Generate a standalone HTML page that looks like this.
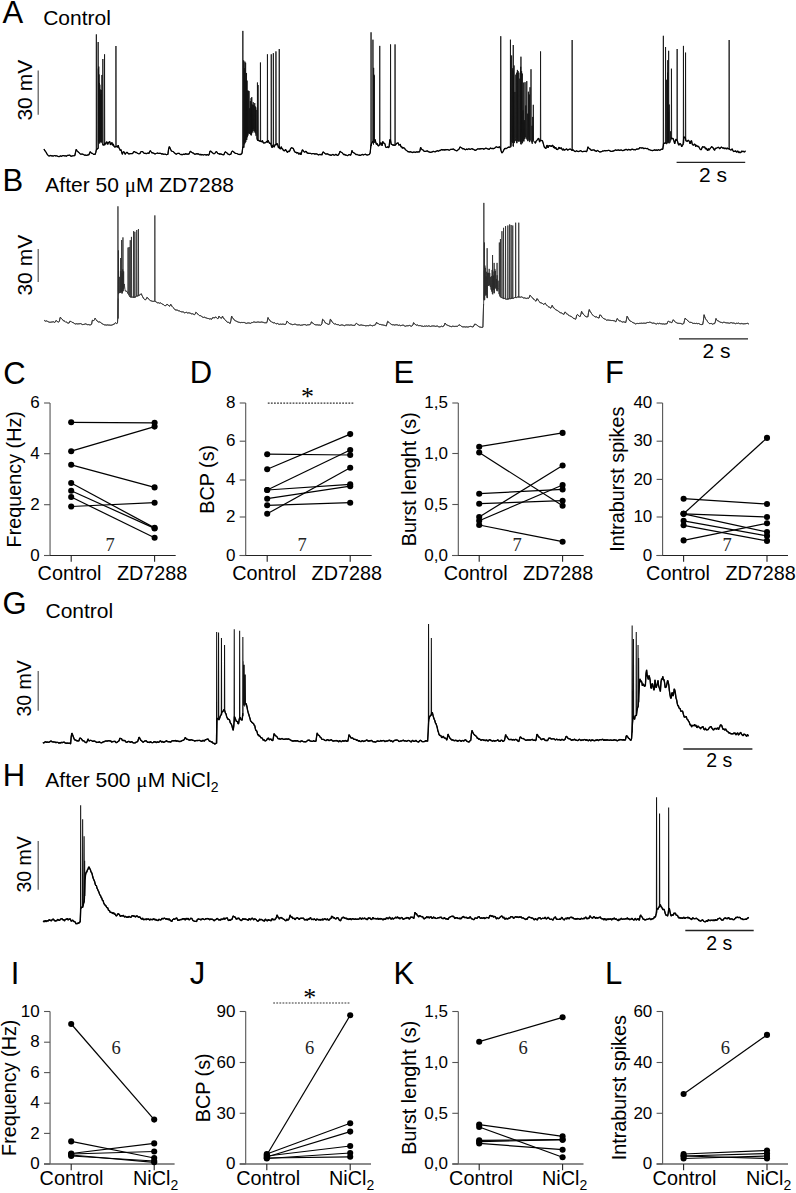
<!DOCTYPE html>
<html><head><meta charset="utf-8"><style>
html,body{margin:0;padding:0;background:#fff;}
body{width:796px;height:1193px;overflow:hidden;font-family:"Liberation Sans", sans-serif;}
svg{display:block;}
</style></head><body>
<svg width="796" height="1193" viewBox="0 0 796 1193">
<rect width="796" height="1193" fill="#fff"/>
<text transform="translate(2.6 23) scale(1 1.0)" font-size="31" font-family='"Liberation Sans", sans-serif' fill="#000">A</text>
<text transform="translate(2.5 191) scale(1 1.0)" font-size="31" font-family='"Liberation Sans", sans-serif' fill="#000">B</text>
<text transform="translate(3.3 383.5) scale(1 1.0)" font-size="31" font-family='"Liberation Sans", sans-serif' fill="#000">C</text>
<text transform="translate(189.7 382.6) scale(1 1.0)" font-size="31" font-family='"Liberation Sans", sans-serif' fill="#000">D</text>
<text transform="translate(393.6 382.6) scale(1 1.0)" font-size="31" font-family='"Liberation Sans", sans-serif' fill="#000">E</text>
<text transform="translate(605 382.6) scale(1 1.0)" font-size="31" font-family='"Liberation Sans", sans-serif' fill="#000">F</text>
<text transform="translate(2.6 613.6) scale(1 1.0)" font-size="31" font-family='"Liberation Sans", sans-serif' fill="#000">G</text>
<text transform="translate(2.7 786.4) scale(1 1.0)" font-size="31" font-family='"Liberation Sans", sans-serif' fill="#000">H</text>
<text transform="translate(10.7 984) scale(1 1.0)" font-size="31" font-family='"Liberation Sans", sans-serif' fill="#000">I</text>
<text transform="translate(189.7 984) scale(1 1.0)" font-size="31" font-family='"Liberation Sans", sans-serif' fill="#000">J</text>
<text transform="translate(393.6 984) scale(1 1.0)" font-size="31" font-family='"Liberation Sans", sans-serif' fill="#000">K</text>
<text transform="translate(605 984) scale(1 1.0)" font-size="31" font-family='"Liberation Sans", sans-serif' fill="#000">L</text>
<text x="43.2" y="25.2" font-size="21" text-anchor="start" font-family='"Liberation Sans", sans-serif' fill="#000" >Control</text>
<text x="45.3" y="192" font-size="21" text-anchor="start" font-family='"Liberation Sans", sans-serif' fill="#000" >After 50 <tspan font-family="Liberation Serif">&#956;</tspan>M ZD7288</text>
<text x="45.5" y="617.6" font-size="21" text-anchor="start" font-family='"Liberation Sans", sans-serif' fill="#000" >Control</text>
<text x="45.3" y="786.5" font-size="21" text-anchor="start" font-family='"Liberation Sans", sans-serif' fill="#000" >After 500 <tspan font-family="Liberation Serif">&#956;</tspan>M NiCl<tspan font-size="14" dy="5">2</tspan></text>
<line x1="38.2" y1="70.5" x2="38.2" y2="114.8" stroke="#555" stroke-width="1.2" />
<text x="32" y="90.2" font-size="21" text-anchor="middle" font-family='"Liberation Sans", sans-serif' fill="#000" transform="rotate(-90 32 90.2)" >30 mV</text>
<line x1="38.2" y1="249.1" x2="38.2" y2="281.9" stroke="#555" stroke-width="1.2" />
<text x="32" y="265.2" font-size="21" text-anchor="middle" font-family='"Liberation Sans", sans-serif' fill="#000" transform="rotate(-90 32 265.2)" >30 mV</text>
<line x1="38.2" y1="671.1" x2="38.2" y2="710.7" stroke="#555" stroke-width="1.2" />
<text x="30.8" y="688.3" font-size="19.5" text-anchor="middle" font-family='"Liberation Sans", sans-serif' fill="#000" transform="rotate(-90 30.8 688.3)" >30 mV</text>
<line x1="38.2" y1="841.1" x2="38.2" y2="889.8" stroke="#555" stroke-width="1.2" />
<text x="30.8" y="864.3" font-size="19.5" text-anchor="middle" font-family='"Liberation Sans", sans-serif' fill="#000" transform="rotate(-90 30.8 864.3)" >30 mV</text>
<line x1="676.6" y1="162.4" x2="745.2" y2="162.4" stroke="#222" stroke-width="1.3" />
<text x="713" y="182.4" font-size="21" text-anchor="middle" font-family='"Liberation Sans", sans-serif' fill="#000" >2 s</text>
<line x1="679" y1="338.8" x2="748" y2="338.8" stroke="#222" stroke-width="1.3" />
<text x="716.5" y="358" font-size="21" text-anchor="middle" font-family='"Liberation Sans", sans-serif' fill="#000" >2 s</text>
<line x1="683.3" y1="749" x2="752.4" y2="749" stroke="#222" stroke-width="1.3" />
<text x="719.2" y="767.4" font-size="19.5" text-anchor="middle" font-family='"Liberation Sans", sans-serif' fill="#000" >2 s</text>
<line x1="685.3" y1="930.5" x2="753.7" y2="930.5" stroke="#222" stroke-width="1.3" />
<text x="719.2" y="949.7" font-size="19.5" text-anchor="middle" font-family='"Liberation Sans", sans-serif' fill="#000" >2 s</text>
<path d="M44.00 149.01 L44.70 150.53 L45.40 151.26 L46.10 152.26 L46.80 153.65 L47.50 154.75 L48.20 155.42 L48.90 155.93 L49.60 155.89 L50.30 155.62 L51.00 155.39 L51.70 155.89 L52.40 155.79 L53.10 156.05 L53.80 155.78 L54.50 155.49 L55.20 155.68 L55.90 156.08 L56.60 155.67 L57.30 156.07 L58.00 156.44 L58.70 156.54 L59.40 156.63 L60.10 155.87 L60.80 156.05 L61.50 156.39 L62.20 155.77 L62.90 155.64 L63.60 155.57 L64.30 155.79 L65.00 155.81 L65.70 155.87 L66.40 156.20 L67.10 155.61 L67.80 155.34 L68.50 155.27 L69.20 155.22 L69.90 155.14 L70.60 156.00 L71.30 156.36 L72.00 155.78 L72.70 155.88 L73.40 155.75 L74.10 155.68 L74.80 155.67 L75.50 152.43 L76.20 149.44 L76.90 150.59 L77.60 151.36 L78.30 152.16 L79.00 152.58 L79.70 153.38 L80.40 154.10 L81.10 154.23 L81.80 154.07 L82.50 154.12 L83.20 154.37 L83.90 154.76 L84.60 155.17 L85.30 154.99 L86.00 155.31 L86.70 155.31 L87.40 155.11 L88.10 154.92 L88.80 154.93 L89.50 153.38 L90.20 151.70 L90.90 152.64 L91.60 153.13 L92.30 153.34 L93.00 153.88 L93.70 154.45 L94.40 154.23 L95.10 154.55 L95.80 152.41 L96.20 149.33 L96.35 34.40 L96.55 149.83 L96.50 149.54 L97.20 149.21 L97.90 148.17 L98.00 148.07 L98.15 42.00 L98.35 148.57 L98.20 140.95 L98.35 68.53 L98.55 142.54 L98.60 142.42 L98.75 66.57 L98.95 143.58 L98.90 140.05 L99.05 74.45 L99.25 139.10 L99.26 140.94 L99.41 82.95 L99.61 140.79 L99.70 143.35 L99.85 84.71 L100.05 141.84 L100.20 140.60 L100.35 89.53 L100.55 141.86 L100.78 142.09 L100.93 94.21 L101.13 142.74 L101.29 140.26 L101.44 89.98 L101.64 141.81 L101.78 141.21 L101.93 74.98 L102.13 142.37 L102.70 144.86 L102.85 59.00 L103.05 145.36 L102.80 144.92 L103.50 144.93 L104.20 144.80 L104.40 144.82 L104.55 54.30 L104.75 145.32 L104.90 143.11 L105.60 144.21 L106.30 142.29 L107.00 141.87 L107.70 144.41 L108.40 142.67 L109.10 141.95 L109.80 141.62 L110.50 144.87 L111.20 143.71 L111.90 142.46 L112.60 145.31 L113.30 143.92 L114.00 146.33 L114.70 147.03 L115.40 146.99 L115.80 145.91 L115.95 46.00 L116.15 146.41 L116.10 146.50 L116.80 146.31 L117.50 147.35 L118.20 145.20 L118.90 147.87 L119.60 148.79 L120.30 150.64 L121.00 149.65 L121.70 152.20 L122.40 154.36 L123.10 151.92 L123.80 151.74 L124.50 152.69 L125.20 154.32 L125.90 153.12 L126.60 152.46 L127.30 152.42 L128.00 153.31 L128.70 154.02 L129.40 153.77 L130.10 153.64 L130.80 153.62 L131.50 153.55 L132.20 153.60 L132.90 153.23 L133.60 151.74 L134.30 151.56 L135.00 151.87 L135.70 152.58 L136.40 152.38 L137.10 153.00 L137.80 153.49 L138.50 153.72 L139.20 153.70 L139.90 153.69 L140.60 152.10 L141.30 151.63 L142.00 151.55 L142.70 151.60 L143.40 152.53 L144.10 153.33 L144.80 153.37 L145.50 153.36 L146.20 153.73 L146.90 153.34 L147.60 153.24 L148.30 153.14 L149.00 153.56 L149.70 151.38 L150.40 150.72 L151.10 151.76 L151.80 152.78 L152.50 152.66 L153.20 153.18 L153.90 153.18 L154.60 153.77 L155.30 153.81 L156.00 153.48 L156.70 153.27 L157.40 152.95 L158.10 153.33 L158.80 153.44 L159.50 153.26 L160.20 153.39 L160.90 153.44 L161.60 154.01 L162.30 153.58 L163.00 154.37 L163.70 154.19 L164.40 154.25 L165.10 154.12 L165.80 154.50 L166.50 154.70 L167.20 154.50 L167.90 154.30 L168.60 149.08 L169.30 146.60 L170.00 147.90 L170.70 149.43 L171.40 150.87 L172.10 151.33 L172.80 151.51 L173.50 151.78 L174.20 152.64 L174.90 153.17 L175.60 153.88 L176.30 154.21 L177.00 153.72 L177.70 153.43 L178.40 153.38 L179.10 153.30 L179.80 153.90 L180.50 154.44 L181.20 154.80 L181.90 154.24 L182.60 154.67 L183.30 154.26 L184.00 154.17 L184.70 154.50 L185.40 153.91 L186.10 153.61 L186.80 154.33 L187.50 154.09 L188.20 154.03 L188.90 154.28 L189.60 152.73 L190.30 151.16 L191.00 151.76 L191.70 152.35 L192.40 152.85 L193.10 152.88 L193.80 153.42 L194.50 154.22 L195.20 154.03 L195.90 154.15 L196.60 153.73 L197.30 153.72 L198.00 154.20 L198.70 153.82 L199.40 154.55 L200.10 154.99 L200.80 154.26 L201.50 154.89 L202.20 154.55 L202.90 154.85 L203.60 155.00 L204.30 154.53 L205.00 154.74 L205.70 154.82 L206.40 155.06 L207.10 154.54 L207.80 154.84 L208.50 155.26 L209.20 154.35 L209.90 151.32 L210.60 151.02 L211.30 151.81 L212.00 152.24 L212.70 153.05 L213.40 153.55 L214.10 153.78 L214.80 153.51 L215.50 152.47 L216.20 151.53 L216.90 151.98 L217.60 153.23 L218.30 153.74 L219.00 153.47 L219.70 154.34 L220.40 153.92 L221.10 153.94 L221.80 154.45 L222.50 154.59 L223.20 154.64 L223.90 154.78 L224.60 152.84 L225.30 151.81 L226.00 152.28 L226.70 152.53 L227.40 153.53 L228.10 154.19 L228.80 154.34 L229.50 154.69 L230.20 154.45 L230.90 154.23 L231.60 151.85 L232.30 151.24 L233.00 151.34 L233.70 152.14 L234.40 152.42 L235.10 153.32 L235.80 153.40 L236.50 153.50 L237.20 153.70 L237.90 154.02 L238.60 154.51 L239.30 154.31 L240.00 154.81 L240.70 154.23 L241.40 154.11 L242.10 152.90 L242.70 147.18 L242.85 30.90 L243.05 147.68 L242.80 146.96 L243.50 147.20 L243.50 146.89 L243.65 60.40 L243.85 147.80 L244.22 145.47 L244.37 68.18 L244.57 144.21 L244.72 144.14 L244.87 61.59 L245.07 142.89 L245.46 142.24 L245.61 62.75 L245.81 141.91 L245.85 138.53 L246.00 80.46 L246.20 139.50 L246.37 138.73 L246.52 72.98 L246.72 139.99 L246.93 136.24 L247.08 80.63 L247.28 137.24 L247.51 135.32 L247.66 90.52 L247.86 135.69 L248.14 134.84 L248.29 90.73 L248.49 133.43 L248.91 131.55 L249.06 91.09 L249.26 131.14 L249.62 133.82 L249.77 108.27 L249.97 132.60 L250.20 134.09 L250.35 101.08 L250.55 134.20 L250.90 135.06 L251.05 98.17 L251.25 135.34 L251.25 135.53 L251.40 107.31 L251.60 134.34 L251.62 134.02 L251.77 97.12 L251.97 133.02 L252.02 130.61 L252.17 104.41 L252.37 131.74 L252.73 127.11 L252.88 105.12 L253.08 125.23 L253.08 128.98 L253.23 102.20 L253.43 130.19 L253.80 130.96 L253.95 105.19 L254.15 132.53 L254.57 129.28 L254.72 103.05 L254.92 131.08 L255.16 129.31 L255.31 106.43 L255.51 128.85 L255.67 133.46 L255.82 107.37 L256.02 133.67 L256.02 135.75 L256.17 109.95 L256.37 136.08 L256.80 138.49 L257.30 139.15 L257.45 82.50 L257.65 139.65 L257.50 139.95 L257.90 140.49 L258.05 85.00 L258.25 140.99 L258.20 140.64 L258.90 140.41 L259.60 141.07 L260.30 141.10 L260.30 141.10 L260.45 62.50 L260.65 141.60 L261.00 141.38 L261.70 141.80 L262.40 140.47 L263.10 142.51 L263.80 143.16 L264.50 142.75 L265.20 142.76 L265.90 142.53 L266.60 141.18 L267.30 142.16 L267.30 142.16 L267.45 54.30 L267.65 142.66 L268.00 140.38 L268.70 141.74 L269.40 143.26 L270.10 143.23 L270.80 144.04 L271.10 144.19 L271.25 54.30 L271.45 144.69 L271.50 146.52 L272.20 147.71 L272.90 144.94 L273.20 145.09 L273.35 53.20 L273.55 145.59 L273.60 146.67 L274.30 146.98 L275.00 144.63 L275.70 144.73 L275.80 144.75 L275.95 51.40 L276.15 145.25 L276.40 144.27 L277.10 143.37 L277.80 145.06 L278.50 147.84 L279.10 147.96 L279.25 49.00 L279.45 148.46 L279.20 146.66 L279.90 148.57 L280.60 148.93 L281.30 146.71 L282.00 148.83 L282.70 148.94 L283.40 150.54 L284.10 150.57 L284.80 150.79 L285.50 149.25 L286.20 150.53 L286.90 151.87 L287.60 152.39 L288.30 150.95 L289.00 151.68 L289.70 151.03 L290.40 149.19 L291.10 148.03 L291.80 147.67 L292.50 148.11 L293.20 148.32 L293.90 149.96 L294.60 151.82 L295.30 152.29 L296.00 152.20 L296.70 153.20 L297.40 152.46 L298.10 152.83 L298.80 154.33 L299.50 153.85 L300.20 152.77 L300.90 154.86 L301.60 152.31 L302.30 149.82 L303.00 150.29 L303.70 151.28 L304.40 152.20 L305.10 151.89 L305.80 151.38 L306.50 151.75 L307.20 153.23 L307.90 152.93 L308.60 153.39 L309.30 153.33 L310.00 153.42 L310.70 153.46 L311.40 153.80 L312.10 153.73 L312.80 153.55 L313.50 153.57 L314.20 153.68 L314.90 154.15 L315.60 153.91 L316.30 153.75 L317.00 154.19 L317.70 154.40 L318.40 154.89 L319.10 154.40 L319.80 154.56 L320.50 154.63 L321.20 154.22 L321.90 155.12 L322.60 152.92 L323.30 151.76 L324.00 152.78 L324.70 153.08 L325.40 153.87 L326.10 154.04 L326.80 153.90 L327.50 153.76 L328.20 154.52 L328.90 154.41 L329.60 154.97 L330.30 154.89 L331.00 155.42 L331.70 154.95 L332.40 154.63 L333.10 154.47 L333.80 155.05 L334.50 155.14 L335.20 154.84 L335.90 154.38 L336.60 154.83 L337.30 155.42 L338.00 155.29 L338.70 154.51 L339.40 152.91 L340.10 151.11 L340.80 151.96 L341.50 152.40 L342.20 152.75 L342.90 153.73 L343.60 154.61 L344.30 154.28 L345.00 155.05 L345.70 154.89 L346.40 155.20 L347.10 155.52 L347.80 155.72 L348.50 154.75 L349.20 154.54 L349.90 154.79 L350.60 155.33 L351.30 153.40 L352.00 150.44 L352.70 152.20 L353.40 152.47 L354.10 153.07 L354.80 153.43 L355.50 154.10 L356.20 154.81 L356.90 154.33 L357.60 154.76 L358.30 155.01 L359.00 155.27 L359.70 155.09 L360.40 155.43 L361.10 154.95 L361.80 154.75 L362.50 154.42 L363.20 154.89 L363.90 154.79 L364.60 154.49 L365.30 154.20 L366.00 154.69 L366.70 154.83 L367.40 155.03 L368.10 154.75 L368.80 154.71 L369.50 154.29 L370.20 152.79 L370.90 145.41 L370.90 145.41 L371.05 32.30 L371.25 145.91 L371.60 143.40 L372.30 142.41 L372.80 141.37 L372.95 39.70 L373.15 141.87 L373.00 141.11 L373.50 144.59 L373.65 67.86 L373.85 142.97 L373.79 142.21 L373.94 74.66 L374.14 141.16 L374.11 141.40 L374.26 75.50 L374.46 142.77 L375.10 139.48 L375.80 142.55 L376.50 144.48 L377.20 143.57 L377.90 145.51 L378.60 146.04 L379.30 144.71 L379.60 144.98 L379.75 45.90 L379.95 145.48 L380.00 144.44 L380.70 142.65 L381.40 143.22 L382.10 145.76 L382.80 141.46 L383.50 143.05 L384.20 143.18 L384.90 143.69 L385.60 146.91 L386.30 147.47 L387.00 147.48 L387.70 146.59 L388.40 147.70 L389.10 147.03 L389.80 139.70 L390.40 139.57 L390.55 44.40 L390.75 140.07 L390.50 139.77 L391.20 144.33 L391.90 144.36 L392.60 145.12 L393.30 144.74 L394.00 145.53 L394.70 145.04 L394.90 144.88 L395.05 44.40 L395.25 145.38 L395.40 145.07 L396.10 144.08 L396.80 143.26 L397.50 143.03 L398.20 142.85 L398.90 145.31 L399.60 144.71 L400.30 144.34 L401.00 147.00 L401.70 146.53 L402.40 148.27 L403.10 147.38 L403.80 148.01 L404.50 148.00 L405.20 149.47 L405.90 150.00 L406.60 150.50 L407.30 151.14 L408.00 151.82 L408.70 151.56 L409.40 151.96 L410.10 152.10 L410.80 151.62 L411.50 152.24 L412.20 152.30 L412.90 152.61 L413.60 152.06 L414.30 152.17 L415.00 152.16 L415.70 152.48 L416.40 151.89 L417.10 151.90 L417.80 152.08 L418.50 151.70 L419.20 152.08 L419.90 151.02 L420.60 147.40 L421.30 148.66 L422.00 149.56 L422.70 149.80 L423.40 150.27 L424.10 151.44 L424.80 151.40 L425.50 151.47 L426.20 151.09 L426.90 151.03 L427.60 150.92 L428.30 151.75 L429.00 151.93 L429.70 152.18 L430.40 152.40 L431.10 152.04 L431.80 152.17 L432.50 151.73 L433.20 151.29 L433.90 151.64 L434.60 151.73 L435.30 151.78 L436.00 151.19 L436.70 151.17 L437.40 150.66 L438.10 151.04 L438.80 151.10 L439.50 150.32 L440.20 150.65 L440.90 149.97 L441.60 149.48 L442.30 149.96 L443.00 149.71 L443.70 149.84 L444.40 150.05 L445.10 149.44 L445.80 149.95 L446.50 149.66 L447.20 149.69 L447.90 149.59 L448.60 150.01 L449.30 150.25 L450.00 149.82 L450.70 149.36 L451.40 149.34 L452.10 149.46 L452.80 149.12 L453.50 149.02 L454.20 149.69 L454.90 149.98 L455.60 150.47 L456.30 150.74 L457.00 150.76 L457.70 150.16 L458.40 149.57 L459.10 149.13 L459.80 147.12 L460.50 147.11 L461.20 147.72 L461.90 147.96 L462.60 148.79 L463.30 148.63 L464.00 148.82 L464.70 149.48 L465.40 149.78 L466.10 149.37 L466.80 149.09 L467.50 149.63 L468.20 148.99 L468.90 148.79 L469.60 149.16 L470.30 149.38 L471.00 149.05 L471.70 148.74 L472.40 148.75 L473.10 149.43 L473.80 149.44 L474.50 150.06 L475.20 150.17 L475.90 150.46 L476.60 149.48 L477.30 149.12 L478.00 148.71 L478.70 148.98 L479.40 149.02 L480.10 148.68 L480.80 149.03 L481.50 148.65 L482.20 148.67 L482.90 148.57 L483.60 149.15 L484.30 148.98 L485.00 148.66 L485.70 148.20 L486.40 148.37 L487.10 148.67 L487.80 148.87 L488.50 149.23 L489.20 149.27 L489.90 148.58 L490.60 148.04 L491.30 148.46 L492.00 148.70 L492.70 148.46 L493.40 148.68 L494.10 148.44 L494.80 147.95 L495.50 147.39 L496.20 146.77 L496.90 147.07 L497.60 147.44 L498.30 147.54 L499.00 146.97 L499.70 146.78 L500.40 148.36 L500.60 149.03 L500.75 36.20 L500.95 149.53 L501.10 150.76 L501.80 152.88 L502.50 152.45 L503.20 151.33 L503.90 149.83 L504.60 148.54 L505.30 148.31 L506.00 148.71 L506.70 148.29 L507.40 147.79 L508.10 147.34 L508.80 147.11 L509.50 147.29 L510.20 146.91 L510.30 146.89 L510.45 39.70 L510.65 147.39 L510.60 144.92 L510.75 60.08 L510.95 146.75 L511.48 142.86 L511.63 55.47 L511.83 141.48 L512.52 142.84 L512.67 68.30 L512.87 142.10 L512.98 141.91 L513.13 70.93 L513.33 142.00 L513.10 146.12 L513.25 45.00 L513.45 146.62 L513.44 142.20 L513.59 75.46 L513.79 141.85 L513.92 141.71 L514.07 65.47 L514.27 143.11 L514.78 139.65 L514.93 91.94 L515.13 140.96 L515.67 138.49 L515.82 74.65 L516.02 140.22 L516.53 142.77 L516.68 72.71 L516.88 143.22 L517.25 141.72 L517.40 69.92 L517.60 139.85 L517.92 141.00 L518.07 71.04 L518.27 141.30 L518.73 141.44 L518.88 72.67 L519.08 141.64 L519.64 140.89 L519.79 78.63 L519.99 140.84 L520.53 141.71 L520.68 66.79 L520.88 140.83 L520.80 144.00 L520.95 56.70 L521.15 144.50 L521.47 140.49 L521.62 71.16 L521.82 141.33 L522.18 141.62 L522.33 73.55 L522.53 143.26 L522.82 139.51 L522.97 110.32 L523.17 137.92 L523.53 140.89 L523.68 82.57 L523.88 141.56 L524.19 139.42 L524.34 120.15 L524.54 138.90 L524.91 136.99 L525.06 82.19 L525.26 137.05 L525.67 137.30 L525.82 105.51 L526.02 138.89 L526.63 138.04 L526.78 81.11 L526.98 139.88 L527.56 140.62 L527.71 113.66 L527.91 141.19 L528.22 139.09 L528.37 91.72 L528.57 137.87 L529.14 140.40 L529.29 94.53 L529.49 142.08 L529.85 141.56 L530.00 87.25 L530.20 140.28 L530.85 140.20 L531.00 69.25 L531.20 139.73 L531.86 142.59 L532.01 125.81 L532.21 143.90 L532.57 142.51 L532.72 116.91 L532.92 141.78 L533.16 141.40 L533.31 104.82 L533.51 140.49 L534.70 141.88 L535.40 143.30 L536.10 141.14 L536.80 140.42 L537.50 139.58 L538.20 138.49 L538.90 138.56 L539.60 142.07 L540.30 140.17 L540.40 140.27 L540.55 51.40 L540.75 140.77 L541.00 140.32 L541.70 140.62 L542.40 140.60 L543.10 142.88 L543.80 145.39 L544.50 147.49 L545.20 147.90 L545.90 148.67 L546.60 145.80 L547.30 145.40 L548.00 147.91 L548.70 145.82 L549.40 145.49 L550.10 146.18 L550.80 145.78 L551.50 146.64 L552.20 145.33 L552.90 145.35 L553.60 147.94 L554.30 146.57 L555.00 148.45 L555.70 147.19 L556.40 149.28 L557.10 149.46 L557.80 149.55 L558.50 148.11 L559.20 147.15 L559.90 148.86 L560.60 148.06 L561.30 147.72 L562.00 149.28 L562.70 150.25 L563.40 148.80 L564.10 150.16 L564.80 149.97 L565.50 149.58 L566.20 148.90 L566.90 149.10 L567.60 150.23 L568.30 149.76 L569.00 149.35 L569.70 149.22 L570.40 149.19 L571.10 149.49 L571.80 150.37 L572.00 150.40 L572.15 40.00 L572.35 150.90 L572.50 149.89 L573.20 149.81 L573.90 150.70 L574.60 151.30 L575.30 151.65 L576.00 151.00 L576.70 150.82 L577.40 151.47 L578.10 151.32 L578.80 151.53 L579.50 151.23 L580.20 150.72 L580.90 150.80 L581.60 151.32 L582.30 151.65 L583.00 151.57 L583.70 151.41 L584.40 151.41 L585.10 151.29 L585.80 151.34 L586.50 151.72 L587.20 150.17 L587.90 146.84 L588.60 147.75 L589.30 148.77 L590.00 148.74 L590.70 149.83 L591.40 150.41 L592.10 150.02 L592.80 150.01 L593.50 149.99 L594.20 149.85 L594.90 150.92 L595.60 150.86 L596.30 151.41 L597.00 150.82 L597.70 150.39 L598.40 151.20 L599.10 151.56 L599.80 152.00 L600.50 151.85 L601.20 151.56 L601.90 151.66 L602.60 150.90 L603.30 151.00 L604.00 150.91 L604.70 150.49 L605.40 150.79 L606.10 150.60 L606.80 150.70 L607.50 150.57 L608.20 150.41 L608.90 150.36 L609.60 150.59 L610.30 151.16 L611.00 151.40 L611.70 151.42 L612.40 151.38 L613.10 150.68 L613.80 151.10 L614.50 150.47 L615.20 149.92 L615.90 150.05 L616.60 150.38 L617.30 150.07 L618.00 150.25 L618.70 149.89 L619.40 150.49 L620.10 150.19 L620.80 150.04 L621.50 150.01 L622.20 150.38 L622.90 150.71 L623.60 150.32 L624.30 149.99 L625.00 150.01 L625.70 149.34 L626.40 149.38 L627.10 149.90 L627.80 150.08 L628.50 149.31 L629.20 149.82 L629.90 149.52 L630.60 150.05 L631.30 149.60 L632.00 149.15 L632.70 149.28 L633.40 149.75 L634.10 149.44 L634.80 149.78 L635.50 149.77 L636.20 149.32 L636.90 148.99 L637.60 149.03 L638.30 148.92 L639.00 148.80 L639.70 147.66 L640.40 147.75 L641.10 148.05 L641.80 147.80 L642.50 147.84 L643.20 148.12 L643.90 148.63 L644.60 148.39 L645.30 148.25 L646.00 148.49 L646.70 148.62 L647.40 148.42 L648.10 148.96 L648.80 149.74 L649.50 149.73 L650.20 150.00 L650.90 150.28 L651.60 150.47 L652.30 150.69 L653.00 150.27 L653.70 150.35 L654.40 149.74 L655.10 150.33 L655.80 150.03 L656.50 149.99 L657.20 150.46 L657.90 149.99 L658.60 149.62 L659.30 150.18 L660.00 150.22 L660.70 149.62 L661.40 149.22 L662.10 149.39 L662.80 149.08 L663.20 145.65 L663.35 35.80 L663.55 146.15 L663.50 143.89 L664.20 143.34 L664.90 143.06 L665.40 142.90 L665.55 47.00 L665.75 143.40 L665.60 142.94 L666.30 142.92 L666.50 144.17 L666.65 79.77 L666.85 143.90 L667.37 142.21 L667.52 72.65 L667.72 142.72 L667.60 142.52 L667.75 60.20 L667.95 143.02 L668.44 141.47 L668.59 111.91 L668.79 142.11 L668.50 142.25 L668.65 50.80 L668.85 142.75 L669.08 143.36 L669.23 104.56 L669.43 143.10 L670.42 142.11 L670.57 131.30 L670.77 140.50 L671.20 137.42 L671.30 137.65 L671.45 68.70 L671.65 138.15 L671.90 139.05 L672.60 138.10 L673.30 138.90 L674.00 141.14 L674.70 143.79 L675.40 140.82 L676.10 139.01 L676.80 140.45 L677.00 140.54 L677.15 49.00 L677.35 141.04 L677.50 141.11 L678.20 143.87 L678.90 145.20 L679.60 143.74 L680.30 143.60 L681.00 144.64 L681.70 146.86 L682.40 145.20 L683.10 144.45 L683.30 142.67 L683.45 45.90 L683.65 143.17 L683.80 136.65 L684.50 137.83 L685.20 137.19 L685.40 137.43 L685.55 52.60 L685.75 137.93 L685.90 140.88 L686.60 141.01 L687.30 141.56 L688.00 140.27 L688.70 140.43 L689.40 141.72 L690.10 143.86 L690.80 141.27 L691.50 140.57 L692.20 144.11 L692.90 145.02 L693.60 145.21 L694.30 144.21 L695.00 144.25 L695.70 146.69 L696.40 145.06 L697.10 145.83 L697.80 146.67 L698.50 146.18 L699.20 147.57 L699.90 148.94 L700.60 149.64 L701.30 149.69 L702.00 147.83 L702.70 146.40 L703.40 147.11 L704.10 147.18 L704.80 146.91 L705.50 149.14 L706.20 147.99 L706.90 149.51 L707.60 150.75 L708.30 148.57 L709.00 150.14 L709.70 149.21 L710.40 148.07 L711.10 147.37 L711.80 146.49 L712.50 147.57 L713.20 147.79 L713.90 149.48 L714.60 150.34 L715.30 148.25 L716.00 148.25 L716.70 148.21 L717.40 147.51 L718.10 147.37 L718.80 147.35 L719.50 148.71 L720.20 148.33 L720.90 147.36 L721.60 147.16 L722.30 147.72 L723.00 148.39 L723.70 147.76 L724.40 148.77 L725.10 147.85 L725.80 148.69 L726.50 148.95 L727.20 147.79 L727.90 148.82 L728.60 148.58 L729.00 148.72 L729.15 40.00 L729.35 149.22 L729.30 149.01 L730.00 149.52 L730.70 150.00 L731.40 149.84 L732.10 148.79 L732.80 150.37 L733.50 151.54 L734.20 151.28 L734.90 151.49 L735.60 150.69 L736.30 151.94 L737.00 152.07 L737.70 150.93 L738.40 151.88 L739.10 152.85 L739.80 151.74 L740.50 152.80 L741.20 152.09 L741.90 150.95 L742.60 151.69 L743.30 151.17 L744.00 151.86 L744.70 151.89 L745.40 150.77" fill="none" stroke="#111" stroke-width="0.85" stroke-linejoin="bevel" />
<path d="M44.00 149.01 L44.70 150.53 L45.40 151.26 L46.10 152.26 L46.80 153.65 L47.50 154.75 L48.20 155.42 L48.90 155.93 L49.60 155.89 L50.30 155.62 L51.00 155.39 L51.70 155.89 L52.40 155.79 L53.10 156.05 L53.80 155.78 L54.50 155.49 L55.20 155.68 L55.90 156.08 L56.60 155.67 L57.30 156.07 L58.00 156.44 L58.70 156.54 L59.40 156.63 L60.10 155.87 L60.80 156.05 L61.50 156.39 L62.20 155.77 L62.90 155.64 L63.60 155.57 L64.30 155.79 L65.00 155.81 L65.70 155.87 L66.40 156.20 L67.10 155.61 L67.80 155.34 L68.50 155.27 L69.20 155.22 L69.90 155.14 L70.60 156.00 L71.30 156.36 L72.00 155.78 L72.70 155.88 L73.40 155.75 L74.10 155.68 L74.80 155.67 L75.50 152.43 L76.20 149.44 L76.90 150.59 L77.60 151.36 L78.30 152.16 L79.00 152.58 L79.70 153.38 L80.40 154.10 L81.10 154.23 L81.80 154.07 L82.50 154.12 L83.20 154.37 L83.90 154.76 L84.60 155.17 L85.30 154.99 L86.00 155.31 L86.70 155.31 L87.40 155.11 L88.10 154.92 L88.80 154.93 L89.50 153.38 L90.20 151.70 L90.90 152.64 L91.60 153.13 L92.30 153.34 L93.00 153.88 L93.70 154.45 L94.40 154.23 L95.10 154.55 L95.80 152.41 L96.50 149.54 L97.20 149.21 L97.90 148.17 M102.80 144.92 L103.50 144.93 L104.20 144.80 L104.90 143.11 L105.60 144.21 L106.30 142.29 L107.00 141.87 L107.70 144.41 L108.40 142.67 L109.10 141.95 L109.80 141.62 L110.50 144.87 L111.20 143.71 L111.90 142.46 L112.60 145.31 L113.30 143.92 L114.00 146.33 L114.70 147.03 L115.40 146.99 L116.10 146.50 L116.80 146.31 L117.50 147.35 L118.20 145.20 L118.90 147.87 L119.60 148.79 L120.30 150.64 L121.00 149.65 L121.70 152.20 L122.40 154.36 L123.10 151.92 L123.80 151.74 L124.50 152.69 L125.20 154.32 L125.90 153.12 L126.60 152.46 L127.30 152.42 L128.00 153.31 L128.70 154.02 L129.40 153.77 L130.10 153.64 L130.80 153.62 L131.50 153.55 L132.20 153.60 L132.90 153.23 L133.60 151.74 L134.30 151.56 L135.00 151.87 L135.70 152.58 L136.40 152.38 L137.10 153.00 L137.80 153.49 L138.50 153.72 L139.20 153.70 L139.90 153.69 L140.60 152.10 L141.30 151.63 L142.00 151.55 L142.70 151.60 L143.40 152.53 L144.10 153.33 L144.80 153.37 L145.50 153.36 L146.20 153.73 L146.90 153.34 L147.60 153.24 L148.30 153.14 L149.00 153.56 L149.70 151.38 L150.40 150.72 L151.10 151.76 L151.80 152.78 L152.50 152.66 L153.20 153.18 L153.90 153.18 L154.60 153.77 L155.30 153.81 L156.00 153.48 L156.70 153.27 L157.40 152.95 L158.10 153.33 L158.80 153.44 L159.50 153.26 L160.20 153.39 L160.90 153.44 L161.60 154.01 L162.30 153.58 L163.00 154.37 L163.70 154.19 L164.40 154.25 L165.10 154.12 L165.80 154.50 L166.50 154.70 L167.20 154.50 L167.90 154.30 L168.60 149.08 L169.30 146.60 L170.00 147.90 L170.70 149.43 L171.40 150.87 L172.10 151.33 L172.80 151.51 L173.50 151.78 L174.20 152.64 L174.90 153.17 L175.60 153.88 L176.30 154.21 L177.00 153.72 L177.70 153.43 L178.40 153.38 L179.10 153.30 L179.80 153.90 L180.50 154.44 L181.20 154.80 L181.90 154.24 L182.60 154.67 L183.30 154.26 L184.00 154.17 L184.70 154.50 L185.40 153.91 L186.10 153.61 L186.80 154.33 L187.50 154.09 L188.20 154.03 L188.90 154.28 L189.60 152.73 L190.30 151.16 L191.00 151.76 L191.70 152.35 L192.40 152.85 L193.10 152.88 L193.80 153.42 L194.50 154.22 L195.20 154.03 L195.90 154.15 L196.60 153.73 L197.30 153.72 L198.00 154.20 L198.70 153.82 L199.40 154.55 L200.10 154.99 L200.80 154.26 L201.50 154.89 L202.20 154.55 L202.90 154.85 L203.60 155.00 L204.30 154.53 L205.00 154.74 L205.70 154.82 L206.40 155.06 L207.10 154.54 L207.80 154.84 L208.50 155.26 L209.20 154.35 L209.90 151.32 L210.60 151.02 L211.30 151.81 L212.00 152.24 L212.70 153.05 L213.40 153.55 L214.10 153.78 L214.80 153.51 L215.50 152.47 L216.20 151.53 L216.90 151.98 L217.60 153.23 L218.30 153.74 L219.00 153.47 L219.70 154.34 L220.40 153.92 L221.10 153.94 L221.80 154.45 L222.50 154.59 L223.20 154.64 L223.90 154.78 L224.60 152.84 L225.30 151.81 L226.00 152.28 L226.70 152.53 L227.40 153.53 L228.10 154.19 L228.80 154.34 L229.50 154.69 L230.20 154.45 L230.90 154.23 L231.60 151.85 L232.30 151.24 L233.00 151.34 L233.70 152.14 L234.40 152.42 L235.10 153.32 L235.80 153.40 L236.50 153.50 L237.20 153.70 L237.90 154.02 L238.60 154.51 L239.30 154.31 L240.00 154.81 L240.70 154.23 L241.40 154.11 L242.10 152.90 L242.80 146.96 L243.50 147.20 M256.80 138.49 L257.50 139.95 L258.20 140.64 L258.90 140.41 L259.60 141.07 L260.30 141.10 L261.00 141.38 L261.70 141.80 L262.40 140.47 L263.10 142.51 L263.80 143.16 L264.50 142.75 L265.20 142.76 L265.90 142.53 L266.60 141.18 L267.30 142.16 L268.00 140.38 L268.70 141.74 L269.40 143.26 L270.10 143.23 L270.80 144.04 L271.50 146.52 L272.20 147.71 L272.90 144.94 L273.60 146.67 L274.30 146.98 L275.00 144.63 L275.70 144.73 L276.40 144.27 L277.10 143.37 L277.80 145.06 L278.50 147.84 L279.20 146.66 L279.90 148.57 L280.60 148.93 L281.30 146.71 L282.00 148.83 L282.70 148.94 L283.40 150.54 L284.10 150.57 L284.80 150.79 L285.50 149.25 L286.20 150.53 L286.90 151.87 L287.60 152.39 L288.30 150.95 L289.00 151.68 L289.70 151.03 L290.40 149.19 L291.10 148.03 L291.80 147.67 L292.50 148.11 L293.20 148.32 L293.90 149.96 L294.60 151.82 L295.30 152.29 L296.00 152.20 L296.70 153.20 L297.40 152.46 L298.10 152.83 L298.80 154.33 L299.50 153.85 L300.20 152.77 L300.90 154.86 L301.60 152.31 L302.30 149.82 L303.00 150.29 L303.70 151.28 L304.40 152.20 L305.10 151.89 L305.80 151.38 L306.50 151.75 L307.20 153.23 L307.90 152.93 L308.60 153.39 L309.30 153.33 L310.00 153.42 L310.70 153.46 L311.40 153.80 L312.10 153.73 L312.80 153.55 L313.50 153.57 L314.20 153.68 L314.90 154.15 L315.60 153.91 L316.30 153.75 L317.00 154.19 L317.70 154.40 L318.40 154.89 L319.10 154.40 L319.80 154.56 L320.50 154.63 L321.20 154.22 L321.90 155.12 L322.60 152.92 L323.30 151.76 L324.00 152.78 L324.70 153.08 L325.40 153.87 L326.10 154.04 L326.80 153.90 L327.50 153.76 L328.20 154.52 L328.90 154.41 L329.60 154.97 L330.30 154.89 L331.00 155.42 L331.70 154.95 L332.40 154.63 L333.10 154.47 L333.80 155.05 L334.50 155.14 L335.20 154.84 L335.90 154.38 L336.60 154.83 L337.30 155.42 L338.00 155.29 L338.70 154.51 L339.40 152.91 L340.10 151.11 L340.80 151.96 L341.50 152.40 L342.20 152.75 L342.90 153.73 L343.60 154.61 L344.30 154.28 L345.00 155.05 L345.70 154.89 L346.40 155.20 L347.10 155.52 L347.80 155.72 L348.50 154.75 L349.20 154.54 L349.90 154.79 L350.60 155.33 L351.30 153.40 L352.00 150.44 L352.70 152.20 L353.40 152.47 L354.10 153.07 L354.80 153.43 L355.50 154.10 L356.20 154.81 L356.90 154.33 L357.60 154.76 L358.30 155.01 L359.00 155.27 L359.70 155.09 L360.40 155.43 L361.10 154.95 L361.80 154.75 L362.50 154.42 L363.20 154.89 L363.90 154.79 L364.60 154.49 L365.30 154.20 L366.00 154.69 L366.70 154.83 L367.40 155.03 L368.10 154.75 L368.80 154.71 L369.50 154.29 L370.20 152.79 L370.90 145.41 L371.60 143.40 L372.30 142.41 L373.00 141.11 M375.10 139.48 L375.80 142.55 L376.50 144.48 L377.20 143.57 L377.90 145.51 L378.60 146.04 L379.30 144.71 L380.00 144.44 L380.70 142.65 L381.40 143.22 L382.10 145.76 L382.80 141.46 L383.50 143.05 L384.20 143.18 L384.90 143.69 L385.60 146.91 L386.30 147.47 L387.00 147.48 L387.70 146.59 L388.40 147.70 L389.10 147.03 L389.80 139.70 L390.50 139.77 L391.20 144.33 L391.90 144.36 L392.60 145.12 L393.30 144.74 L394.00 145.53 L394.70 145.04 L395.40 145.07 L396.10 144.08 L396.80 143.26 L397.50 143.03 L398.20 142.85 L398.90 145.31 L399.60 144.71 L400.30 144.34 L401.00 147.00 L401.70 146.53 L402.40 148.27 L403.10 147.38 L403.80 148.01 L404.50 148.00 L405.20 149.47 L405.90 150.00 L406.60 150.50 L407.30 151.14 L408.00 151.82 L408.70 151.56 L409.40 151.96 L410.10 152.10 L410.80 151.62 L411.50 152.24 L412.20 152.30 L412.90 152.61 L413.60 152.06 L414.30 152.17 L415.00 152.16 L415.70 152.48 L416.40 151.89 L417.10 151.90 L417.80 152.08 L418.50 151.70 L419.20 152.08 L419.90 151.02 L420.60 147.40 L421.30 148.66 L422.00 149.56 L422.70 149.80 L423.40 150.27 L424.10 151.44 L424.80 151.40 L425.50 151.47 L426.20 151.09 L426.90 151.03 L427.60 150.92 L428.30 151.75 L429.00 151.93 L429.70 152.18 L430.40 152.40 L431.10 152.04 L431.80 152.17 L432.50 151.73 L433.20 151.29 L433.90 151.64 L434.60 151.73 L435.30 151.78 L436.00 151.19 L436.70 151.17 L437.40 150.66 L438.10 151.04 L438.80 151.10 L439.50 150.32 L440.20 150.65 L440.90 149.97 L441.60 149.48 L442.30 149.96 L443.00 149.71 L443.70 149.84 L444.40 150.05 L445.10 149.44 L445.80 149.95 L446.50 149.66 L447.20 149.69 L447.90 149.59 L448.60 150.01 L449.30 150.25 L450.00 149.82 L450.70 149.36 L451.40 149.34 L452.10 149.46 L452.80 149.12 L453.50 149.02 L454.20 149.69 L454.90 149.98 L455.60 150.47 L456.30 150.74 L457.00 150.76 L457.70 150.16 L458.40 149.57 L459.10 149.13 L459.80 147.12 L460.50 147.11 L461.20 147.72 L461.90 147.96 L462.60 148.79 L463.30 148.63 L464.00 148.82 L464.70 149.48 L465.40 149.78 L466.10 149.37 L466.80 149.09 L467.50 149.63 L468.20 148.99 L468.90 148.79 L469.60 149.16 L470.30 149.38 L471.00 149.05 L471.70 148.74 L472.40 148.75 L473.10 149.43 L473.80 149.44 L474.50 150.06 L475.20 150.17 L475.90 150.46 L476.60 149.48 L477.30 149.12 L478.00 148.71 L478.70 148.98 L479.40 149.02 L480.10 148.68 L480.80 149.03 L481.50 148.65 L482.20 148.67 L482.90 148.57 L483.60 149.15 L484.30 148.98 L485.00 148.66 L485.70 148.20 L486.40 148.37 L487.10 148.67 L487.80 148.87 L488.50 149.23 L489.20 149.27 L489.90 148.58 L490.60 148.04 L491.30 148.46 L492.00 148.70 L492.70 148.46 L493.40 148.68 L494.10 148.44 L494.80 147.95 L495.50 147.39 L496.20 146.77 L496.90 147.07 L497.60 147.44 L498.30 147.54 L499.00 146.97 L499.70 146.78 L500.40 148.36 L501.10 150.76 L501.80 152.88 L502.50 152.45 L503.20 151.33 L503.90 149.83 L504.60 148.54 L505.30 148.31 L506.00 148.71 L506.70 148.29 L507.40 147.79 L508.10 147.34 L508.80 147.11 L509.50 147.29 L510.20 146.91 M534.70 141.88 L535.40 143.30 L536.10 141.14 L536.80 140.42 L537.50 139.58 L538.20 138.49 L538.90 138.56 L539.60 142.07 L540.30 140.17 L541.00 140.32 L541.70 140.62 L542.40 140.60 L543.10 142.88 L543.80 145.39 L544.50 147.49 L545.20 147.90 L545.90 148.67 L546.60 145.80 L547.30 145.40 L548.00 147.91 L548.70 145.82 L549.40 145.49 L550.10 146.18 L550.80 145.78 L551.50 146.64 L552.20 145.33 L552.90 145.35 L553.60 147.94 L554.30 146.57 L555.00 148.45 L555.70 147.19 L556.40 149.28 L557.10 149.46 L557.80 149.55 L558.50 148.11 L559.20 147.15 L559.90 148.86 L560.60 148.06 L561.30 147.72 L562.00 149.28 L562.70 150.25 L563.40 148.80 L564.10 150.16 L564.80 149.97 L565.50 149.58 L566.20 148.90 L566.90 149.10 L567.60 150.23 L568.30 149.76 L569.00 149.35 L569.70 149.22 L570.40 149.19 L571.10 149.49 L571.80 150.37 L572.50 149.89 L573.20 149.81 L573.90 150.70 L574.60 151.30 L575.30 151.65 L576.00 151.00 L576.70 150.82 L577.40 151.47 L578.10 151.32 L578.80 151.53 L579.50 151.23 L580.20 150.72 L580.90 150.80 L581.60 151.32 L582.30 151.65 L583.00 151.57 L583.70 151.41 L584.40 151.41 L585.10 151.29 L585.80 151.34 L586.50 151.72 L587.20 150.17 L587.90 146.84 L588.60 147.75 L589.30 148.77 L590.00 148.74 L590.70 149.83 L591.40 150.41 L592.10 150.02 L592.80 150.01 L593.50 149.99 L594.20 149.85 L594.90 150.92 L595.60 150.86 L596.30 151.41 L597.00 150.82 L597.70 150.39 L598.40 151.20 L599.10 151.56 L599.80 152.00 L600.50 151.85 L601.20 151.56 L601.90 151.66 L602.60 150.90 L603.30 151.00 L604.00 150.91 L604.70 150.49 L605.40 150.79 L606.10 150.60 L606.80 150.70 L607.50 150.57 L608.20 150.41 L608.90 150.36 L609.60 150.59 L610.30 151.16 L611.00 151.40 L611.70 151.42 L612.40 151.38 L613.10 150.68 L613.80 151.10 L614.50 150.47 L615.20 149.92 L615.90 150.05 L616.60 150.38 L617.30 150.07 L618.00 150.25 L618.70 149.89 L619.40 150.49 L620.10 150.19 L620.80 150.04 L621.50 150.01 L622.20 150.38 L622.90 150.71 L623.60 150.32 L624.30 149.99 L625.00 150.01 L625.70 149.34 L626.40 149.38 L627.10 149.90 L627.80 150.08 L628.50 149.31 L629.20 149.82 L629.90 149.52 L630.60 150.05 L631.30 149.60 L632.00 149.15 L632.70 149.28 L633.40 149.75 L634.10 149.44 L634.80 149.78 L635.50 149.77 L636.20 149.32 L636.90 148.99 L637.60 149.03 L638.30 148.92 L639.00 148.80 L639.70 147.66 L640.40 147.75 L641.10 148.05 L641.80 147.80 L642.50 147.84 L643.20 148.12 L643.90 148.63 L644.60 148.39 L645.30 148.25 L646.00 148.49 L646.70 148.62 L647.40 148.42 L648.10 148.96 L648.80 149.74 L649.50 149.73 L650.20 150.00 L650.90 150.28 L651.60 150.47 L652.30 150.69 L653.00 150.27 L653.70 150.35 L654.40 149.74 L655.10 150.33 L655.80 150.03 L656.50 149.99 L657.20 150.46 L657.90 149.99 L658.60 149.62 L659.30 150.18 L660.00 150.22 L660.70 149.62 L661.40 149.22 L662.10 149.39 L662.80 149.08 L663.50 143.89 L664.20 143.34 L664.90 143.06 L665.60 142.94 L666.30 142.92 M671.20 137.42 L671.90 139.05 L672.60 138.10 L673.30 138.90 L674.00 141.14 L674.70 143.79 L675.40 140.82 L676.10 139.01 L676.80 140.45 L677.50 141.11 L678.20 143.87 L678.90 145.20 L679.60 143.74 L680.30 143.60 L681.00 144.64 L681.70 146.86 L682.40 145.20 L683.10 144.45 L683.80 136.65 L684.50 137.83 L685.20 137.19 L685.90 140.88 L686.60 141.01 L687.30 141.56 L688.00 140.27 L688.70 140.43 L689.40 141.72 L690.10 143.86 L690.80 141.27 L691.50 140.57 L692.20 144.11 L692.90 145.02 L693.60 145.21 L694.30 144.21 L695.00 144.25 L695.70 146.69 L696.40 145.06 L697.10 145.83 L697.80 146.67 L698.50 146.18 L699.20 147.57 L699.90 148.94 L700.60 149.64 L701.30 149.69 L702.00 147.83 L702.70 146.40 L703.40 147.11 L704.10 147.18 L704.80 146.91 L705.50 149.14 L706.20 147.99 L706.90 149.51 L707.60 150.75 L708.30 148.57 L709.00 150.14 L709.70 149.21 L710.40 148.07 L711.10 147.37 L711.80 146.49 L712.50 147.57 L713.20 147.79 L713.90 149.48 L714.60 150.34 L715.30 148.25 L716.00 148.25 L716.70 148.21 L717.40 147.51 L718.10 147.37 L718.80 147.35 L719.50 148.71 L720.20 148.33 L720.90 147.36 L721.60 147.16 L722.30 147.72 L723.00 148.39 L723.70 147.76 L724.40 148.77 L725.10 147.85 L725.80 148.69 L726.50 148.95 L727.20 147.79 L727.90 148.82 L728.60 148.58 L729.30 149.01 L730.00 149.52 L730.70 150.00 L731.40 149.84 L732.10 148.79 L732.80 150.37 L733.50 151.54 L734.20 151.28 L734.90 151.49 L735.60 150.69 L736.30 151.94 L737.00 152.07 L737.70 150.93 L738.40 151.88 L739.10 152.85 L739.80 151.74 L740.50 152.80 L741.20 152.09 L741.90 150.95 L742.60 151.69 L743.30 151.17 L744.00 151.86 L744.70 151.89 L745.40 150.77" fill="none" stroke="#000" stroke-width="1.25" stroke-linejoin="bevel" />
<path d="M44.00 320.89 L44.70 320.55 L45.40 321.17 L46.10 320.89 L46.80 321.02 L47.50 321.38 L48.20 321.89 L48.90 321.79 L49.60 322.27 L50.30 322.27 L51.00 322.10 L51.70 322.05 L52.40 321.94 L53.10 321.84 L53.80 321.89 L54.50 322.38 L55.20 322.12 L55.90 320.60 L56.60 320.72 L57.30 321.64 L58.00 321.87 L58.70 321.98 L59.40 321.36 L60.10 317.48 L60.80 317.61 L61.50 318.63 L62.20 319.46 L62.90 319.85 L63.60 320.93 L64.30 320.97 L65.00 321.48 L65.70 322.16 L66.40 322.05 L67.10 322.55 L67.80 323.06 L68.50 323.14 L69.20 322.96 L69.90 321.17 L70.60 321.43 L71.30 321.62 L72.00 322.40 L72.70 322.48 L73.40 322.73 L74.10 323.38 L74.80 323.67 L75.50 323.98 L76.20 323.78 L76.90 323.73 L77.60 323.93 L78.30 323.88 L79.00 323.73 L79.70 323.76 L80.40 323.60 L81.10 323.71 L81.80 324.28 L82.50 324.58 L83.20 324.51 L83.90 324.38 L84.60 324.20 L85.30 323.91 L86.00 323.92 L86.70 324.35 L87.40 324.67 L88.10 324.46 L88.80 324.70 L89.50 324.83 L90.20 324.83 L90.90 324.73 L91.60 324.23 L92.30 320.37 L93.00 320.19 L93.70 320.72 L94.40 319.76 L95.10 318.21 L95.80 319.45 L96.50 320.08 L97.20 321.16 L97.90 321.67 L98.60 322.02 L99.30 321.84 L100.00 322.23 L100.70 322.53 L101.40 323.18 L102.10 323.52 L102.80 324.12 L103.50 324.43 L104.20 324.85 L104.90 324.83 L105.60 324.94 L106.30 325.06 L107.00 325.18 L107.70 324.85 L108.40 325.05 L109.10 325.17 L109.80 325.07 L110.50 325.23 L111.20 325.28 L111.90 324.95 L112.60 324.75 L113.30 324.32 L114.00 324.56 L114.70 323.34 L115.40 322.79 L116.10 323.23 L116.80 323.54 L117.50 323.08 L117.80 318.04 L117.95 206.30 L118.15 318.54 L118.20 298.37 L118.30 293.55 L118.45 250.40 L118.65 294.05 L118.40 290.49 L118.55 270.90 L118.75 291.61 L119.51 292.69 L119.66 276.85 L119.86 293.02 L120.50 292.27 L120.65 258.00 L120.85 292.77 L120.72 291.21 L120.87 271.15 L121.07 291.87 L121.50 291.61 L121.65 240.00 L121.85 292.11 L121.94 293.53 L122.09 273.00 L122.29 293.21 L122.56 290.57 L122.71 269.42 L122.91 291.06 L122.80 290.74 L122.95 237.40 L123.15 291.24 L123.49 287.64 L123.64 271.38 L123.84 288.73 L124.18 285.45 L124.33 283.96 L124.53 286.00 L125.20 290.93 L125.90 290.96 L126.60 291.29 L127.30 292.19 L127.90 293.15 L128.05 247.60 L128.25 293.65 L128.00 293.56 L128.70 294.47 L129.00 294.95 L129.15 247.00 L129.35 295.45 L129.40 295.85 L130.10 296.84 L130.25 240.20 L130.45 297.34 L130.10 296.94 L130.80 296.73 L131.30 296.88 L131.45 236.90 L131.65 297.38 L131.50 297.06 L132.20 297.14 L132.90 297.13 L133.40 297.29 L133.55 231.20 L133.75 297.79 L133.60 297.29 L134.30 297.38 L134.70 297.18 L134.85 231.80 L135.05 297.68 L135.00 296.99 L135.70 296.62 L136.40 296.14 L136.60 296.04 L136.75 230.00 L136.95 296.54 L137.10 296.06 L137.80 295.79 L138.30 295.54 L138.45 229.00 L138.65 296.04 L138.50 295.67 L139.20 295.43 L139.90 294.86 L140.60 294.17 L141.30 293.76 L142.00 295.45 L142.70 296.79 L143.40 298.11 L144.10 298.94 L144.80 299.68 L145.50 299.80 L146.20 299.06 L146.90 297.40 L147.60 297.76 L148.30 298.76 L149.00 299.29 L149.70 299.90 L150.40 300.63 L151.10 301.00 L151.80 300.95 L152.50 301.30 L153.20 301.42 L153.90 301.31 L154.60 301.12 L154.70 301.14 L154.85 215.40 L155.05 301.64 L155.30 301.48 L156.00 301.78 L156.70 302.36 L157.40 302.78 L158.10 302.82 L158.80 302.74 L159.50 303.22 L160.20 302.90 L160.90 303.03 L161.60 303.62 L162.30 304.14 L163.00 304.21 L163.70 304.79 L164.40 305.48 L165.10 305.59 L165.80 305.72 L166.50 304.72 L167.20 303.99 L167.90 305.10 L168.60 305.43 L169.30 306.24 L170.00 305.90 L170.70 304.25 L171.40 305.10 L172.10 306.53 L172.80 307.28 L173.50 307.95 L174.20 308.54 L174.90 309.67 L175.60 309.91 L176.30 309.97 L177.00 310.26 L177.70 310.24 L178.40 310.72 L179.10 310.93 L179.80 311.01 L180.50 311.53 L181.20 311.94 L181.90 311.59 L182.60 311.89 L183.30 311.92 L184.00 312.55 L184.70 312.84 L185.40 312.59 L186.10 312.47 L186.80 312.35 L187.50 312.97 L188.20 312.78 L188.90 312.95 L189.60 312.97 L190.30 313.22 L191.00 313.50 L191.70 313.89 L192.40 313.71 L193.10 314.24 L193.80 314.28 L194.50 314.60 L195.20 314.13 L195.90 312.18 L196.60 312.81 L197.30 313.59 L198.00 314.18 L198.70 315.02 L199.40 315.55 L200.10 315.56 L200.80 315.81 L201.50 316.22 L202.20 316.91 L202.90 317.36 L203.60 317.42 L204.30 317.12 L205.00 317.64 L205.70 317.73 L206.40 317.97 L207.10 318.29 L207.80 318.47 L208.50 318.53 L209.20 318.97 L209.90 318.87 L210.60 318.84 L211.30 319.24 L212.00 318.97 L212.70 317.56 L213.40 317.67 L214.10 317.72 L214.80 317.90 L215.50 316.93 L216.20 317.47 L216.90 317.84 L217.60 318.60 L218.30 318.36 L219.00 316.12 L219.70 317.04 L220.40 317.84 L221.10 318.44 L221.80 317.91 L222.50 316.15 L223.20 317.54 L223.90 318.83 L224.60 319.25 L225.30 319.87 L226.00 320.92 L226.70 321.69 L227.40 322.21 L228.10 322.13 L228.80 322.57 L229.50 323.07 L230.20 323.39 L230.90 320.57 L231.60 316.04 L232.30 317.52 L233.00 318.17 L233.70 319.16 L234.40 320.19 L235.10 320.77 L235.80 320.81 L236.50 321.10 L237.20 321.89 L237.90 321.81 L238.60 322.24 L239.30 322.39 L240.00 322.34 L240.70 322.70 L241.40 322.46 L242.10 322.40 L242.80 322.60 L243.50 322.48 L244.20 322.42 L244.90 322.80 L245.60 323.15 L246.30 323.45 L247.00 323.03 L247.70 323.03 L248.40 322.93 L249.10 323.10 L249.80 323.10 L250.50 323.35 L251.20 322.94 L251.90 322.39 L252.60 322.53 L253.30 322.09 L254.00 322.16 L254.70 322.03 L255.40 322.31 L256.10 322.25 L256.80 322.28 L257.50 322.02 L258.20 322.12 L258.90 321.95 L259.60 322.27 L260.30 322.29 L261.00 322.04 L261.70 322.02 L262.40 322.16 L263.10 322.55 L263.80 322.36 L264.50 322.72 L265.20 322.90 L265.90 322.58 L266.60 322.90 L267.30 321.15 L268.00 317.57 L268.70 318.98 L269.40 319.75 L270.10 320.92 L270.80 321.44 L271.50 321.76 L272.20 322.44 L272.90 322.32 L273.60 322.90 L274.30 322.77 L275.00 322.85 L275.70 323.58 L276.40 323.81 L277.10 323.62 L277.80 323.47 L278.50 324.10 L279.20 324.25 L279.90 324.48 L280.60 324.10 L281.30 324.30 L282.00 324.23 L282.70 324.12 L283.40 324.17 L284.10 324.44 L284.80 324.41 L285.50 324.45 L286.20 323.50 L286.90 321.19 L287.60 321.67 L288.30 322.59 L289.00 322.99 L289.70 323.70 L290.40 323.92 L291.10 324.17 L291.80 324.37 L292.50 324.66 L293.20 324.59 L293.90 324.35 L294.60 324.19 L295.30 324.26 L296.00 324.19 L296.70 324.85 L297.40 324.89 L298.10 325.15 L298.80 324.70 L299.50 324.83 L300.20 325.24 L300.90 325.26 L301.60 325.12 L302.30 325.08 L303.00 324.77 L303.70 324.65 L304.40 324.59 L305.10 324.73 L305.80 324.82 L306.50 325.27 L307.20 324.94 L307.90 324.84 L308.60 324.80 L309.30 324.70 L310.00 324.74 L310.70 323.83 L311.40 321.92 L312.10 322.29 L312.80 323.36 L313.50 323.63 L314.20 324.33 L314.90 324.59 L315.60 324.79 L316.30 324.78 L317.00 325.20 L317.70 324.80 L318.40 325.05 L319.10 324.90 L319.80 325.14 L320.50 325.34 L321.20 325.00 L321.90 323.66 L322.60 319.24 L323.30 319.79 L324.00 320.72 L324.70 321.75 L325.40 322.97 L326.10 323.32 L326.80 323.59 L327.50 323.97 L328.20 324.11 L328.90 324.61 L329.60 323.73 L330.30 319.30 L331.00 319.75 L331.70 321.13 L332.40 322.37 L333.10 323.03 L333.80 323.39 L334.50 324.16 L335.20 323.92 L335.90 323.91 L336.60 324.55 L337.30 324.67 L338.00 324.48 L338.70 324.81 L339.40 325.38 L340.10 325.34 L340.80 325.20 L341.50 324.93 L342.20 324.78 L342.90 325.37 L343.60 325.38 L344.30 325.74 L345.00 325.25 L345.70 325.13 L346.40 324.92 L347.10 325.08 L347.80 324.91 L348.50 324.97 L349.20 325.13 L349.90 325.14 L350.60 324.95 L351.30 324.83 L352.00 325.52 L352.70 325.26 L353.40 325.39 L354.10 325.38 L354.80 325.47 L355.50 324.17 L356.20 323.32 L356.90 323.56 L357.60 324.14 L358.30 324.83 L359.00 325.02 L359.70 325.38 L360.40 325.10 L361.10 324.82 L361.80 325.11 L362.50 325.25 L363.20 325.41 L363.90 325.35 L364.60 325.53 L365.30 325.72 L366.00 325.99 L366.70 325.65 L367.40 325.59 L368.10 325.86 L368.80 325.53 L369.50 325.27 L370.20 325.28 L370.90 325.12 L371.60 325.58 L372.30 325.87 L373.00 325.63 L373.70 325.35 L374.40 325.16 L375.10 325.19 L375.80 324.18 L376.50 322.30 L377.20 323.17 L377.90 323.53 L378.60 323.71 L379.30 324.41 L380.00 324.35 L380.70 324.50 L381.40 324.71 L382.10 324.93 L382.80 324.86 L383.50 325.11 L384.20 325.18 L384.90 325.58 L385.60 325.66 L386.30 325.99 L387.00 323.49 L387.70 321.32 L388.40 321.99 L389.10 322.48 L389.80 323.24 L390.50 323.69 L391.20 324.32 L391.90 324.59 L392.60 324.81 L393.30 324.67 L394.00 325.10 L394.70 325.04 L395.40 324.86 L396.10 324.75 L396.80 324.81 L397.50 324.94 L398.20 325.37 L398.90 325.32 L399.60 325.13 L400.30 325.60 L401.00 325.71 L401.70 325.36 L402.40 325.19 L403.10 325.17 L403.80 325.35 L404.50 325.86 L405.20 326.22 L405.90 326.15 L406.60 325.81 L407.30 325.79 L408.00 325.73 L408.70 325.67 L409.40 325.39 L410.10 325.70 L410.80 326.06 L411.50 326.19 L412.20 325.75 L412.90 324.97 L413.60 322.64 L414.30 323.58 L415.00 324.03 L415.70 324.80 L416.40 325.21 L417.10 324.97 L417.80 325.05 L418.50 325.63 L419.20 325.62 L419.90 325.63 L420.60 325.67 L421.30 325.98 L422.00 326.31 L422.70 326.18 L423.40 326.48 L424.10 326.36 L424.80 325.91 L425.50 326.24 L426.20 326.12 L426.90 325.77 L427.60 326.32 L428.30 325.88 L429.00 326.08 L429.70 326.12 L430.40 326.47 L431.10 326.28 L431.80 326.04 L432.50 325.96 L433.20 325.86 L433.90 326.11 L434.60 326.08 L435.30 326.39 L436.00 326.16 L436.70 326.13 L437.40 326.03 L438.10 326.57 L438.80 326.76 L439.50 326.88 L440.20 326.77 L440.90 326.54 L441.60 326.21 L442.30 326.59 L443.00 326.53 L443.70 326.14 L444.40 324.84 L445.10 323.03 L445.80 324.08 L446.50 324.95 L447.20 325.00 L447.90 325.60 L448.60 325.63 L449.30 325.99 L450.00 326.39 L450.70 326.46 L451.40 326.68 L452.10 326.48 L452.80 326.11 L453.50 326.32 L454.20 326.52 L454.90 326.32 L455.60 326.39 L456.30 326.38 L457.00 326.16 L457.70 326.27 L458.40 325.60 L459.10 324.62 L459.80 325.29 L460.50 325.53 L461.20 326.21 L461.90 326.52 L462.60 326.83 L463.30 326.86 L464.00 326.90 L464.70 326.84 L465.40 327.04 L466.10 326.83 L466.80 326.91 L467.50 327.04 L468.20 327.01 L468.90 326.81 L469.60 326.54 L470.30 326.38 L471.00 326.46 L471.70 326.66 L472.40 326.89 L473.10 326.96 L473.80 326.04 L474.50 324.24 L475.20 324.10 L475.90 324.73 L476.60 324.78 L477.30 325.51 L478.00 325.96 L478.70 326.54 L479.40 326.90 L480.10 327.01 L480.80 327.26 L481.50 327.39 L482.20 327.41 L482.90 327.16 L483.60 303.76 L483.70 299.85 L483.85 202.90 L484.05 300.35 L484.20 288.98 L484.35 270.57 L484.55 290.56 L484.30 299.45 L484.45 242.50 L484.65 299.95 L484.77 291.78 L484.92 265.57 L485.12 290.73 L485.25 293.61 L485.40 267.84 L485.60 295.51 L485.87 295.11 L486.02 276.33 L486.22 295.28 L486.53 292.53 L486.68 271.79 L486.88 292.10 L487.00 297.64 L487.15 248.20 L487.35 298.14 L487.45 284.84 L487.60 273.07 L487.80 282.85 L488.37 285.95 L488.52 272.78 L488.72 285.51 L489.04 285.14 L489.19 268.86 L489.39 283.85 L489.61 285.33 L489.76 273.08 L489.96 285.94 L490.48 287.04 L490.63 277.10 L490.83 288.64 L491.18 289.77 L491.33 276.07 L491.53 291.41 L491.96 291.48 L492.11 269.94 L492.31 291.94 L492.40 293.90 L492.55 255.00 L492.75 294.40 L492.89 288.50 L493.04 276.09 L493.24 288.05 L493.39 290.15 L493.54 275.53 L493.74 288.59 L493.88 289.19 L494.03 271.48 L494.23 289.94 L494.00 292.78 L494.15 262.90 L494.35 293.28 L494.73 284.15 L494.88 268.95 L495.08 284.36 L495.33 287.81 L495.48 270.85 L495.68 288.67 L496.29 289.15 L496.44 278.95 L496.64 288.65 L496.90 290.76 L497.05 262.90 L497.25 291.26 L496.99 287.90 L497.14 275.24 L497.34 289.45 L497.97 288.38 L498.12 280.71 L498.32 287.23 L499.00 293.24 L499.20 293.92 L499.35 242.50 L499.55 294.42 L499.70 295.51 L500.30 296.66 L500.45 239.00 L500.65 297.16 L500.40 296.92 L501.10 297.57 L501.80 297.48 L501.80 297.48 L501.95 231.20 L502.15 297.98 L502.50 297.95 L503.20 298.45 L503.40 298.53 L503.55 227.80 L503.75 299.03 L503.90 298.43 L504.60 298.43 L505.30 298.80 L505.40 298.79 L505.55 226.10 L505.75 299.29 L506.00 299.07 L506.70 299.23 L507.40 299.16 L507.70 299.13 L507.85 225.50 L508.05 299.63 L508.10 298.84 L508.80 298.65 L509.50 298.59 L509.50 298.59 L509.65 224.40 L509.85 299.09 L510.20 298.82 L510.90 298.44 L511.00 298.43 L511.15 225.00 L511.35 298.93 L511.60 298.18 L512.30 298.27 L512.60 298.24 L512.75 225.50 L512.95 298.74 L513.00 298.57 L513.70 298.08 L514.40 297.66 L515.10 297.45 L515.50 297.35 L515.65 222.70 L515.85 297.85 L515.80 297.57 L516.50 297.59 L517.20 297.19 L517.90 296.90 L518.60 296.99 L518.60 296.99 L518.75 222.70 L518.95 297.49 L519.30 297.01 L520.00 296.97 L520.70 297.22 L521.40 296.88 L522.10 297.10 L522.80 297.56 L523.50 297.98 L524.20 297.76 L524.90 298.12 L525.60 298.23 L526.30 298.51 L527.00 298.06 L527.70 298.19 L528.40 298.38 L529.10 297.89 L529.80 295.38 L530.50 295.57 L531.20 296.52 L531.90 297.27 L532.60 297.97 L533.30 298.95 L534.00 299.28 L534.70 300.18 L535.40 300.85 L536.10 301.06 L536.80 298.76 L537.50 298.95 L538.20 300.21 L538.90 301.26 L539.60 301.89 L540.30 302.78 L541.00 302.83 L541.70 303.10 L542.40 303.43 L543.10 303.94 L543.80 304.56 L544.50 303.66 L545.20 303.12 L545.90 304.48 L546.60 304.97 L547.30 305.73 L548.00 306.47 L548.70 306.93 L549.40 307.16 L550.10 307.83 L550.80 308.17 L551.50 306.76 L552.20 305.34 L552.90 306.82 L553.60 307.95 L554.30 308.16 L555.00 309.09 L555.70 309.80 L556.40 310.07 L557.10 310.27 L557.80 310.86 L558.50 311.26 L559.20 311.95 L559.90 312.64 L560.60 312.74 L561.30 312.87 L562.00 313.25 L562.70 313.76 L563.40 314.26 L564.10 314.20 L564.80 312.15 L565.50 312.21 L566.20 313.39 L566.90 314.05 L567.60 314.27 L568.30 314.90 L569.00 315.30 L569.70 316.05 L570.40 316.16 L571.10 316.55 L571.80 316.78 L572.50 317.37 L573.20 318.25 L573.90 318.53 L574.60 318.70 L575.30 319.22 L576.00 318.71 L576.70 315.13 L577.40 314.55 L578.10 314.96 L578.80 316.00 L579.50 316.40 L580.20 316.46 L580.90 314.37 L581.60 311.37 L582.30 312.78 L583.00 314.00 L583.70 314.54 L584.40 315.17 L585.10 316.27 L585.80 316.57 L586.50 316.84 L587.20 316.74 L587.90 316.89 L588.60 312.14 L589.30 309.57 L590.00 311.22 L590.70 312.18 L591.40 313.30 L592.10 314.48 L592.80 315.05 L593.50 315.64 L594.20 316.32 L594.90 316.58 L595.60 316.96 L596.30 316.85 L597.00 316.91 L597.70 317.66 L598.40 317.90 L599.10 318.00 L599.80 314.88 L600.50 315.03 L601.20 315.78 L601.90 316.98 L602.60 317.71 L603.30 318.43 L604.00 318.42 L604.70 319.08 L605.40 319.26 L606.10 319.88 L606.80 320.32 L607.50 320.02 L608.20 320.09 L608.90 320.07 L609.60 320.28 L610.30 320.30 L611.00 320.67 L611.70 320.49 L612.40 320.47 L613.10 320.74 L613.80 320.63 L614.50 320.86 L615.20 321.44 L615.90 321.80 L616.60 319.69 L617.30 318.50 L618.00 319.61 L618.70 320.50 L619.40 320.86 L620.10 320.81 L620.80 320.97 L621.50 321.71 L622.20 322.21 L622.90 321.84 L623.60 321.82 L624.30 322.07 L625.00 322.14 L625.70 322.62 L626.40 319.84 L627.10 316.25 L627.80 317.41 L628.50 318.74 L629.20 320.15 L629.90 320.96 L630.60 321.13 L631.30 321.42 L632.00 322.16 L632.70 322.48 L633.40 322.76 L634.10 323.09 L634.80 323.44 L635.50 323.91 L636.20 323.56 L636.90 323.63 L637.60 323.41 L638.30 323.50 L639.00 323.68 L639.70 323.28 L640.40 323.32 L641.10 323.50 L641.80 323.02 L642.50 323.34 L643.20 323.21 L643.90 323.18 L644.60 323.22 L645.30 323.37 L646.00 322.83 L646.70 322.86 L647.40 322.49 L648.10 322.53 L648.80 322.49 L649.50 322.19 L650.20 322.25 L650.90 322.48 L651.60 322.80 L652.30 323.22 L653.00 323.03 L653.70 323.08 L654.40 323.29 L655.10 323.60 L655.80 323.82 L656.50 323.99 L657.20 323.57 L657.90 323.25 L658.60 323.72 L659.30 323.32 L660.00 323.42 L660.70 323.74 L661.40 323.77 L662.10 323.71 L662.80 324.13 L663.50 323.88 L664.20 323.98 L664.90 324.28 L665.60 323.87 L666.30 323.81 L667.00 323.89 L667.70 321.89 L668.40 321.14 L669.10 321.75 L669.80 321.91 L670.50 322.12 L671.20 322.53 L671.90 322.65 L672.60 321.04 L673.30 319.72 L674.00 320.47 L674.70 321.49 L675.40 322.19 L676.10 322.32 L676.80 322.94 L677.50 323.21 L678.20 323.23 L678.90 323.48 L679.60 323.36 L680.30 323.34 L681.00 323.84 L681.70 323.79 L682.40 324.14 L683.10 323.77 L683.80 323.55 L684.50 320.36 L685.20 318.11 L685.90 319.14 L686.60 319.53 L687.30 320.00 L688.00 321.07 L688.70 321.56 L689.40 322.26 L690.10 322.09 L690.80 322.53 L691.50 322.48 L692.20 322.99 L692.90 323.25 L693.60 323.43 L694.30 323.26 L695.00 323.78 L695.70 323.47 L696.40 323.31 L697.10 323.75 L697.80 323.56 L698.50 323.47 L699.20 323.77 L699.90 324.12 L700.60 324.53 L701.30 324.65 L702.00 324.22 L702.70 324.47 L703.40 320.79 L704.10 314.74 L704.80 317.08 L705.50 318.47 L706.20 319.68 L706.90 320.44 L707.60 321.72 L708.30 322.45 L709.00 323.33 L709.70 323.61 L710.40 323.54 L711.10 323.55 L711.80 323.60 L712.50 324.17 L713.20 323.89 L713.90 323.62 L714.60 323.65 L715.30 321.93 L716.00 318.54 L716.70 319.77 L717.40 320.68 L718.10 320.96 L718.80 321.20 L719.50 321.69 L720.20 322.18 L720.90 322.29 L721.60 322.46 L722.30 322.83 L723.00 322.41 L723.70 322.27 L724.40 322.34 L725.10 322.41 L725.80 322.84 L726.50 322.83 L727.20 322.94 L727.90 322.83 L728.60 323.08 L729.30 323.29 L730.00 322.99 L730.70 322.69 L731.40 322.67 L732.10 322.76 L732.80 323.25 L733.50 323.04 L734.20 323.23 L734.90 323.36 L735.60 323.71 L736.30 323.24 L737.00 323.53 L737.70 323.35 L738.40 323.09 L739.10 323.38 L739.80 323.73 L740.50 323.73 L741.20 323.32 L741.90 323.85 L742.60 323.69 L743.30 323.82 L744.00 323.98 L744.70 323.71 L745.40 323.70 L746.10 323.65 L746.80 323.45 L747.50 323.33 L748.20 323.81 L748.90 323.84" fill="none" stroke="#2a2a2a" stroke-width="0.8" stroke-linejoin="bevel" />
<path d="M44.00 320.89 L44.70 320.55 L45.40 321.17 L46.10 320.89 L46.80 321.02 L47.50 321.38 L48.20 321.89 L48.90 321.79 L49.60 322.27 L50.30 322.27 L51.00 322.10 L51.70 322.05 L52.40 321.94 L53.10 321.84 L53.80 321.89 L54.50 322.38 L55.20 322.12 L55.90 320.60 L56.60 320.72 L57.30 321.64 L58.00 321.87 L58.70 321.98 L59.40 321.36 L60.10 317.48 L60.80 317.61 L61.50 318.63 L62.20 319.46 L62.90 319.85 L63.60 320.93 L64.30 320.97 L65.00 321.48 L65.70 322.16 L66.40 322.05 L67.10 322.55 L67.80 323.06 L68.50 323.14 L69.20 322.96 L69.90 321.17 L70.60 321.43 L71.30 321.62 L72.00 322.40 L72.70 322.48 L73.40 322.73 L74.10 323.38 L74.80 323.67 L75.50 323.98 L76.20 323.78 L76.90 323.73 L77.60 323.93 L78.30 323.88 L79.00 323.73 L79.70 323.76 L80.40 323.60 L81.10 323.71 L81.80 324.28 L82.50 324.58 L83.20 324.51 L83.90 324.38 L84.60 324.20 L85.30 323.91 L86.00 323.92 L86.70 324.35 L87.40 324.67 L88.10 324.46 L88.80 324.70 L89.50 324.83 L90.20 324.83 L90.90 324.73 L91.60 324.23 L92.30 320.37 L93.00 320.19 L93.70 320.72 L94.40 319.76 L95.10 318.21 L95.80 319.45 L96.50 320.08 L97.20 321.16 L97.90 321.67 L98.60 322.02 L99.30 321.84 L100.00 322.23 L100.70 322.53 L101.40 323.18 L102.10 323.52 L102.80 324.12 L103.50 324.43 L104.20 324.85 L104.90 324.83 L105.60 324.94 L106.30 325.06 L107.00 325.18 L107.70 324.85 L108.40 325.05 L109.10 325.17 L109.80 325.07 L110.50 325.23 L111.20 325.28 L111.90 324.95 L112.60 324.75 L113.30 324.32 L114.00 324.56 L114.70 323.34 L115.40 322.79 L116.10 323.23 L116.80 323.54 L117.50 323.08 L118.20 298.37 M125.20 290.93 L125.90 290.96 L126.60 291.29 L127.30 292.19 L128.00 293.56 L128.70 294.47 L129.40 295.85 L130.10 296.94 L130.80 296.73 L131.50 297.06 L132.20 297.14 L132.90 297.13 L133.60 297.29 L134.30 297.38 L135.00 296.99 L135.70 296.62 L136.40 296.14 L137.10 296.06 L137.80 295.79 L138.50 295.67 L139.20 295.43 L139.90 294.86 L140.60 294.17 L141.30 293.76 L142.00 295.45 L142.70 296.79 L143.40 298.11 L144.10 298.94 L144.80 299.68 L145.50 299.80 L146.20 299.06 L146.90 297.40 L147.60 297.76 L148.30 298.76 L149.00 299.29 L149.70 299.90 L150.40 300.63 L151.10 301.00 L151.80 300.95 L152.50 301.30 L153.20 301.42 L153.90 301.31 L154.60 301.12 L155.30 301.48 L156.00 301.78 L156.70 302.36 L157.40 302.78 L158.10 302.82 L158.80 302.74 L159.50 303.22 L160.20 302.90 L160.90 303.03 L161.60 303.62 L162.30 304.14 L163.00 304.21 L163.70 304.79 L164.40 305.48 L165.10 305.59 L165.80 305.72 L166.50 304.72 L167.20 303.99 L167.90 305.10 L168.60 305.43 L169.30 306.24 L170.00 305.90 L170.70 304.25 L171.40 305.10 L172.10 306.53 L172.80 307.28 L173.50 307.95 L174.20 308.54 L174.90 309.67 L175.60 309.91 L176.30 309.97 L177.00 310.26 L177.70 310.24 L178.40 310.72 L179.10 310.93 L179.80 311.01 L180.50 311.53 L181.20 311.94 L181.90 311.59 L182.60 311.89 L183.30 311.92 L184.00 312.55 L184.70 312.84 L185.40 312.59 L186.10 312.47 L186.80 312.35 L187.50 312.97 L188.20 312.78 L188.90 312.95 L189.60 312.97 L190.30 313.22 L191.00 313.50 L191.70 313.89 L192.40 313.71 L193.10 314.24 L193.80 314.28 L194.50 314.60 L195.20 314.13 L195.90 312.18 L196.60 312.81 L197.30 313.59 L198.00 314.18 L198.70 315.02 L199.40 315.55 L200.10 315.56 L200.80 315.81 L201.50 316.22 L202.20 316.91 L202.90 317.36 L203.60 317.42 L204.30 317.12 L205.00 317.64 L205.70 317.73 L206.40 317.97 L207.10 318.29 L207.80 318.47 L208.50 318.53 L209.20 318.97 L209.90 318.87 L210.60 318.84 L211.30 319.24 L212.00 318.97 L212.70 317.56 L213.40 317.67 L214.10 317.72 L214.80 317.90 L215.50 316.93 L216.20 317.47 L216.90 317.84 L217.60 318.60 L218.30 318.36 L219.00 316.12 L219.70 317.04 L220.40 317.84 L221.10 318.44 L221.80 317.91 L222.50 316.15 L223.20 317.54 L223.90 318.83 L224.60 319.25 L225.30 319.87 L226.00 320.92 L226.70 321.69 L227.40 322.21 L228.10 322.13 L228.80 322.57 L229.50 323.07 L230.20 323.39 L230.90 320.57 L231.60 316.04 L232.30 317.52 L233.00 318.17 L233.70 319.16 L234.40 320.19 L235.10 320.77 L235.80 320.81 L236.50 321.10 L237.20 321.89 L237.90 321.81 L238.60 322.24 L239.30 322.39 L240.00 322.34 L240.70 322.70 L241.40 322.46 L242.10 322.40 L242.80 322.60 L243.50 322.48 L244.20 322.42 L244.90 322.80 L245.60 323.15 L246.30 323.45 L247.00 323.03 L247.70 323.03 L248.40 322.93 L249.10 323.10 L249.80 323.10 L250.50 323.35 L251.20 322.94 L251.90 322.39 L252.60 322.53 L253.30 322.09 L254.00 322.16 L254.70 322.03 L255.40 322.31 L256.10 322.25 L256.80 322.28 L257.50 322.02 L258.20 322.12 L258.90 321.95 L259.60 322.27 L260.30 322.29 L261.00 322.04 L261.70 322.02 L262.40 322.16 L263.10 322.55 L263.80 322.36 L264.50 322.72 L265.20 322.90 L265.90 322.58 L266.60 322.90 L267.30 321.15 L268.00 317.57 L268.70 318.98 L269.40 319.75 L270.10 320.92 L270.80 321.44 L271.50 321.76 L272.20 322.44 L272.90 322.32 L273.60 322.90 L274.30 322.77 L275.00 322.85 L275.70 323.58 L276.40 323.81 L277.10 323.62 L277.80 323.47 L278.50 324.10 L279.20 324.25 L279.90 324.48 L280.60 324.10 L281.30 324.30 L282.00 324.23 L282.70 324.12 L283.40 324.17 L284.10 324.44 L284.80 324.41 L285.50 324.45 L286.20 323.50 L286.90 321.19 L287.60 321.67 L288.30 322.59 L289.00 322.99 L289.70 323.70 L290.40 323.92 L291.10 324.17 L291.80 324.37 L292.50 324.66 L293.20 324.59 L293.90 324.35 L294.60 324.19 L295.30 324.26 L296.00 324.19 L296.70 324.85 L297.40 324.89 L298.10 325.15 L298.80 324.70 L299.50 324.83 L300.20 325.24 L300.90 325.26 L301.60 325.12 L302.30 325.08 L303.00 324.77 L303.70 324.65 L304.40 324.59 L305.10 324.73 L305.80 324.82 L306.50 325.27 L307.20 324.94 L307.90 324.84 L308.60 324.80 L309.30 324.70 L310.00 324.74 L310.70 323.83 L311.40 321.92 L312.10 322.29 L312.80 323.36 L313.50 323.63 L314.20 324.33 L314.90 324.59 L315.60 324.79 L316.30 324.78 L317.00 325.20 L317.70 324.80 L318.40 325.05 L319.10 324.90 L319.80 325.14 L320.50 325.34 L321.20 325.00 L321.90 323.66 L322.60 319.24 L323.30 319.79 L324.00 320.72 L324.70 321.75 L325.40 322.97 L326.10 323.32 L326.80 323.59 L327.50 323.97 L328.20 324.11 L328.90 324.61 L329.60 323.73 L330.30 319.30 L331.00 319.75 L331.70 321.13 L332.40 322.37 L333.10 323.03 L333.80 323.39 L334.50 324.16 L335.20 323.92 L335.90 323.91 L336.60 324.55 L337.30 324.67 L338.00 324.48 L338.70 324.81 L339.40 325.38 L340.10 325.34 L340.80 325.20 L341.50 324.93 L342.20 324.78 L342.90 325.37 L343.60 325.38 L344.30 325.74 L345.00 325.25 L345.70 325.13 L346.40 324.92 L347.10 325.08 L347.80 324.91 L348.50 324.97 L349.20 325.13 L349.90 325.14 L350.60 324.95 L351.30 324.83 L352.00 325.52 L352.70 325.26 L353.40 325.39 L354.10 325.38 L354.80 325.47 L355.50 324.17 L356.20 323.32 L356.90 323.56 L357.60 324.14 L358.30 324.83 L359.00 325.02 L359.70 325.38 L360.40 325.10 L361.10 324.82 L361.80 325.11 L362.50 325.25 L363.20 325.41 L363.90 325.35 L364.60 325.53 L365.30 325.72 L366.00 325.99 L366.70 325.65 L367.40 325.59 L368.10 325.86 L368.80 325.53 L369.50 325.27 L370.20 325.28 L370.90 325.12 L371.60 325.58 L372.30 325.87 L373.00 325.63 L373.70 325.35 L374.40 325.16 L375.10 325.19 L375.80 324.18 L376.50 322.30 L377.20 323.17 L377.90 323.53 L378.60 323.71 L379.30 324.41 L380.00 324.35 L380.70 324.50 L381.40 324.71 L382.10 324.93 L382.80 324.86 L383.50 325.11 L384.20 325.18 L384.90 325.58 L385.60 325.66 L386.30 325.99 L387.00 323.49 L387.70 321.32 L388.40 321.99 L389.10 322.48 L389.80 323.24 L390.50 323.69 L391.20 324.32 L391.90 324.59 L392.60 324.81 L393.30 324.67 L394.00 325.10 L394.70 325.04 L395.40 324.86 L396.10 324.75 L396.80 324.81 L397.50 324.94 L398.20 325.37 L398.90 325.32 L399.60 325.13 L400.30 325.60 L401.00 325.71 L401.70 325.36 L402.40 325.19 L403.10 325.17 L403.80 325.35 L404.50 325.86 L405.20 326.22 L405.90 326.15 L406.60 325.81 L407.30 325.79 L408.00 325.73 L408.70 325.67 L409.40 325.39 L410.10 325.70 L410.80 326.06 L411.50 326.19 L412.20 325.75 L412.90 324.97 L413.60 322.64 L414.30 323.58 L415.00 324.03 L415.70 324.80 L416.40 325.21 L417.10 324.97 L417.80 325.05 L418.50 325.63 L419.20 325.62 L419.90 325.63 L420.60 325.67 L421.30 325.98 L422.00 326.31 L422.70 326.18 L423.40 326.48 L424.10 326.36 L424.80 325.91 L425.50 326.24 L426.20 326.12 L426.90 325.77 L427.60 326.32 L428.30 325.88 L429.00 326.08 L429.70 326.12 L430.40 326.47 L431.10 326.28 L431.80 326.04 L432.50 325.96 L433.20 325.86 L433.90 326.11 L434.60 326.08 L435.30 326.39 L436.00 326.16 L436.70 326.13 L437.40 326.03 L438.10 326.57 L438.80 326.76 L439.50 326.88 L440.20 326.77 L440.90 326.54 L441.60 326.21 L442.30 326.59 L443.00 326.53 L443.70 326.14 L444.40 324.84 L445.10 323.03 L445.80 324.08 L446.50 324.95 L447.20 325.00 L447.90 325.60 L448.60 325.63 L449.30 325.99 L450.00 326.39 L450.70 326.46 L451.40 326.68 L452.10 326.48 L452.80 326.11 L453.50 326.32 L454.20 326.52 L454.90 326.32 L455.60 326.39 L456.30 326.38 L457.00 326.16 L457.70 326.27 L458.40 325.60 L459.10 324.62 L459.80 325.29 L460.50 325.53 L461.20 326.21 L461.90 326.52 L462.60 326.83 L463.30 326.86 L464.00 326.90 L464.70 326.84 L465.40 327.04 L466.10 326.83 L466.80 326.91 L467.50 327.04 L468.20 327.01 L468.90 326.81 L469.60 326.54 L470.30 326.38 L471.00 326.46 L471.70 326.66 L472.40 326.89 L473.10 326.96 L473.80 326.04 L474.50 324.24 L475.20 324.10 L475.90 324.73 L476.60 324.78 L477.30 325.51 L478.00 325.96 L478.70 326.54 L479.40 326.90 L480.10 327.01 L480.80 327.26 L481.50 327.39 L482.20 327.41 L482.90 327.16 L483.60 303.76 M499.00 293.24 L499.70 295.51 L500.40 296.92 L501.10 297.57 L501.80 297.48 L502.50 297.95 L503.20 298.45 L503.90 298.43 L504.60 298.43 L505.30 298.80 L506.00 299.07 L506.70 299.23 L507.40 299.16 L508.10 298.84 L508.80 298.65 L509.50 298.59 L510.20 298.82 L510.90 298.44 L511.60 298.18 L512.30 298.27 L513.00 298.57 L513.70 298.08 L514.40 297.66 L515.10 297.45 L515.80 297.57 L516.50 297.59 L517.20 297.19 L517.90 296.90 L518.60 296.99 L519.30 297.01 L520.00 296.97 L520.70 297.22 L521.40 296.88 L522.10 297.10 L522.80 297.56 L523.50 297.98 L524.20 297.76 L524.90 298.12 L525.60 298.23 L526.30 298.51 L527.00 298.06 L527.70 298.19 L528.40 298.38 L529.10 297.89 L529.80 295.38 L530.50 295.57 L531.20 296.52 L531.90 297.27 L532.60 297.97 L533.30 298.95 L534.00 299.28 L534.70 300.18 L535.40 300.85 L536.10 301.06 L536.80 298.76 L537.50 298.95 L538.20 300.21 L538.90 301.26 L539.60 301.89 L540.30 302.78 L541.00 302.83 L541.70 303.10 L542.40 303.43 L543.10 303.94 L543.80 304.56 L544.50 303.66 L545.20 303.12 L545.90 304.48 L546.60 304.97 L547.30 305.73 L548.00 306.47 L548.70 306.93 L549.40 307.16 L550.10 307.83 L550.80 308.17 L551.50 306.76 L552.20 305.34 L552.90 306.82 L553.60 307.95 L554.30 308.16 L555.00 309.09 L555.70 309.80 L556.40 310.07 L557.10 310.27 L557.80 310.86 L558.50 311.26 L559.20 311.95 L559.90 312.64 L560.60 312.74 L561.30 312.87 L562.00 313.25 L562.70 313.76 L563.40 314.26 L564.10 314.20 L564.80 312.15 L565.50 312.21 L566.20 313.39 L566.90 314.05 L567.60 314.27 L568.30 314.90 L569.00 315.30 L569.70 316.05 L570.40 316.16 L571.10 316.55 L571.80 316.78 L572.50 317.37 L573.20 318.25 L573.90 318.53 L574.60 318.70 L575.30 319.22 L576.00 318.71 L576.70 315.13 L577.40 314.55 L578.10 314.96 L578.80 316.00 L579.50 316.40 L580.20 316.46 L580.90 314.37 L581.60 311.37 L582.30 312.78 L583.00 314.00 L583.70 314.54 L584.40 315.17 L585.10 316.27 L585.80 316.57 L586.50 316.84 L587.20 316.74 L587.90 316.89 L588.60 312.14 L589.30 309.57 L590.00 311.22 L590.70 312.18 L591.40 313.30 L592.10 314.48 L592.80 315.05 L593.50 315.64 L594.20 316.32 L594.90 316.58 L595.60 316.96 L596.30 316.85 L597.00 316.91 L597.70 317.66 L598.40 317.90 L599.10 318.00 L599.80 314.88 L600.50 315.03 L601.20 315.78 L601.90 316.98 L602.60 317.71 L603.30 318.43 L604.00 318.42 L604.70 319.08 L605.40 319.26 L606.10 319.88 L606.80 320.32 L607.50 320.02 L608.20 320.09 L608.90 320.07 L609.60 320.28 L610.30 320.30 L611.00 320.67 L611.70 320.49 L612.40 320.47 L613.10 320.74 L613.80 320.63 L614.50 320.86 L615.20 321.44 L615.90 321.80 L616.60 319.69 L617.30 318.50 L618.00 319.61 L618.70 320.50 L619.40 320.86 L620.10 320.81 L620.80 320.97 L621.50 321.71 L622.20 322.21 L622.90 321.84 L623.60 321.82 L624.30 322.07 L625.00 322.14 L625.70 322.62 L626.40 319.84 L627.10 316.25 L627.80 317.41 L628.50 318.74 L629.20 320.15 L629.90 320.96 L630.60 321.13 L631.30 321.42 L632.00 322.16 L632.70 322.48 L633.40 322.76 L634.10 323.09 L634.80 323.44 L635.50 323.91 L636.20 323.56 L636.90 323.63 L637.60 323.41 L638.30 323.50 L639.00 323.68 L639.70 323.28 L640.40 323.32 L641.10 323.50 L641.80 323.02 L642.50 323.34 L643.20 323.21 L643.90 323.18 L644.60 323.22 L645.30 323.37 L646.00 322.83 L646.70 322.86 L647.40 322.49 L648.10 322.53 L648.80 322.49 L649.50 322.19 L650.20 322.25 L650.90 322.48 L651.60 322.80 L652.30 323.22 L653.00 323.03 L653.70 323.08 L654.40 323.29 L655.10 323.60 L655.80 323.82 L656.50 323.99 L657.20 323.57 L657.90 323.25 L658.60 323.72 L659.30 323.32 L660.00 323.42 L660.70 323.74 L661.40 323.77 L662.10 323.71 L662.80 324.13 L663.50 323.88 L664.20 323.98 L664.90 324.28 L665.60 323.87 L666.30 323.81 L667.00 323.89 L667.70 321.89 L668.40 321.14 L669.10 321.75 L669.80 321.91 L670.50 322.12 L671.20 322.53 L671.90 322.65 L672.60 321.04 L673.30 319.72 L674.00 320.47 L674.70 321.49 L675.40 322.19 L676.10 322.32 L676.80 322.94 L677.50 323.21 L678.20 323.23 L678.90 323.48 L679.60 323.36 L680.30 323.34 L681.00 323.84 L681.70 323.79 L682.40 324.14 L683.10 323.77 L683.80 323.55 L684.50 320.36 L685.20 318.11 L685.90 319.14 L686.60 319.53 L687.30 320.00 L688.00 321.07 L688.70 321.56 L689.40 322.26 L690.10 322.09 L690.80 322.53 L691.50 322.48 L692.20 322.99 L692.90 323.25 L693.60 323.43 L694.30 323.26 L695.00 323.78 L695.70 323.47 L696.40 323.31 L697.10 323.75 L697.80 323.56 L698.50 323.47 L699.20 323.77 L699.90 324.12 L700.60 324.53 L701.30 324.65 L702.00 324.22 L702.70 324.47 L703.40 320.79 L704.10 314.74 L704.80 317.08 L705.50 318.47 L706.20 319.68 L706.90 320.44 L707.60 321.72 L708.30 322.45 L709.00 323.33 L709.70 323.61 L710.40 323.54 L711.10 323.55 L711.80 323.60 L712.50 324.17 L713.20 323.89 L713.90 323.62 L714.60 323.65 L715.30 321.93 L716.00 318.54 L716.70 319.77 L717.40 320.68 L718.10 320.96 L718.80 321.20 L719.50 321.69 L720.20 322.18 L720.90 322.29 L721.60 322.46 L722.30 322.83 L723.00 322.41 L723.70 322.27 L724.40 322.34 L725.10 322.41 L725.80 322.84 L726.50 322.83 L727.20 322.94 L727.90 322.83 L728.60 323.08 L729.30 323.29 L730.00 322.99 L730.70 322.69 L731.40 322.67 L732.10 322.76 L732.80 323.25 L733.50 323.04 L734.20 323.23 L734.90 323.36 L735.60 323.71 L736.30 323.24 L737.00 323.53 L737.70 323.35 L738.40 323.09 L739.10 323.38 L739.80 323.73 L740.50 323.73 L741.20 323.32 L741.90 323.85 L742.60 323.69 L743.30 323.82 L744.00 323.98 L744.70 323.71 L745.40 323.70 L746.10 323.65 L746.80 323.45 L747.50 323.33 L748.20 323.81 L748.90 323.84" fill="none" stroke="#333" stroke-width="0.9" stroke-linejoin="bevel" />
<path d="M43.00 742.37 L43.60 743.07 L44.20 742.62 L44.80 742.13 L45.40 741.78 L46.00 741.82 L46.60 742.52 L47.20 741.97 L47.80 742.19 L48.40 742.36 L49.00 742.03 L49.60 742.06 L50.20 741.40 L50.80 741.09 L51.40 741.14 L52.00 741.84 L52.60 741.88 L53.20 741.76 L53.80 742.09 L54.40 742.10 L55.00 741.90 L55.60 742.50 L56.20 742.71 L56.80 742.20 L57.40 742.40 L58.00 742.45 L58.60 742.98 L59.20 743.09 L59.80 742.54 L60.40 743.22 L61.00 742.40 L61.60 742.38 L62.20 742.86 L62.80 742.29 L63.40 742.46 L64.00 741.94 L64.60 742.55 L65.20 743.03 L65.80 743.04 L66.40 743.48 L67.00 742.95 L67.60 743.21 L68.20 743.22 L68.80 743.22 L69.40 743.07 L70.00 743.53 L70.60 743.89 L71.20 736.83 L71.80 733.14 L72.40 734.15 L73.00 736.09 L73.60 737.49 L74.20 739.07 L74.80 739.96 L75.40 739.92 L76.00 740.21 L76.60 740.91 L77.20 740.50 L77.80 740.99 L78.40 740.92 L79.00 740.87 L79.60 738.40 L80.20 738.06 L80.80 738.42 L81.40 738.98 L82.00 739.66 L82.60 740.84 L83.20 740.49 L83.80 740.90 L84.40 741.33 L85.00 742.09 L85.60 742.47 L86.20 742.77 L86.80 742.14 L87.40 740.81 L88.00 738.87 L88.60 740.08 L89.20 741.01 L89.80 740.51 L90.40 740.37 L91.00 740.45 L91.60 740.56 L92.20 741.02 L92.80 741.46 L93.40 741.28 L94.00 740.84 L94.60 741.20 L95.20 741.34 L95.80 741.70 L96.40 742.45 L97.00 742.49 L97.60 742.27 L98.20 742.29 L98.80 742.39 L99.40 741.56 L100.00 742.29 L100.60 742.53 L101.20 742.80 L101.80 742.85 L102.40 742.31 L103.00 742.02 L103.60 741.45 L104.20 741.88 L104.80 741.32 L105.40 741.02 L106.00 741.05 L106.60 741.00 L107.20 741.23 L107.80 740.95 L108.40 740.72 L109.00 740.81 L109.60 740.78 L110.20 741.14 L110.80 740.86 L111.40 741.90 L112.00 742.10 L112.60 741.56 L113.20 741.41 L113.80 741.46 L114.40 741.51 L115.00 741.20 L115.60 742.05 L116.20 742.72 L116.80 742.35 L117.40 742.17 L118.00 741.51 L118.60 741.18 L119.20 740.53 L119.80 738.10 L120.40 738.57 L121.00 738.70 L121.60 738.75 L122.20 740.21 L122.80 740.54 L123.40 740.28 L124.00 740.77 L124.60 740.38 L125.20 740.91 L125.80 741.88 L126.40 742.29 L127.00 742.31 L127.60 741.73 L128.20 741.58 L128.80 741.23 L129.40 741.90 L130.00 741.94 L130.60 742.32 L131.20 741.91 L131.80 741.54 L132.40 742.16 L133.00 742.75 L133.60 742.89 L134.20 742.91 L134.80 742.94 L135.40 742.84 L136.00 742.07 L136.60 742.06 L137.20 741.83 L137.80 741.24 L138.40 739.32 L139.00 737.09 L139.60 737.89 L140.20 739.13 L140.80 740.34 L141.40 740.42 L142.00 741.26 L142.60 741.88 L143.20 742.25 L143.80 741.68 L144.40 741.22 L145.00 741.01 L145.60 740.88 L146.20 740.85 L146.80 741.45 L147.40 742.18 L148.00 742.51 L148.60 742.20 L149.20 742.28 L149.80 742.54 L150.40 741.67 L151.00 741.99 L151.60 742.51 L152.20 742.62 L152.80 742.62 L153.40 742.24 L154.00 741.60 L154.60 742.09 L155.20 741.72 L155.80 742.16 L156.40 742.63 L157.00 742.08 L157.60 741.77 L158.20 742.36 L158.80 742.36 L159.40 741.58 L160.00 741.08 L160.60 740.83 L161.20 741.74 L161.80 742.09 L162.40 741.35 L163.00 741.89 L163.60 742.39 L164.20 742.20 L164.80 741.66 L165.40 741.63 L166.00 741.02 L166.60 740.51 L167.20 741.56 L167.80 741.68 L168.40 741.56 L169.00 742.06 L169.60 741.63 L170.20 741.99 L170.80 742.12 L171.40 741.32 L172.00 740.92 L172.60 740.76 L173.20 740.58 L173.80 740.96 L174.40 740.70 L175.00 740.77 L175.60 740.40 L176.20 741.28 L176.80 740.97 L177.40 740.94 L178.00 741.09 L178.60 741.61 L179.20 741.21 L179.80 741.68 L180.40 741.34 L181.00 741.19 L181.60 741.09 L182.20 740.31 L182.80 740.47 L183.40 740.18 L184.00 739.77 L184.60 738.84 L185.20 737.43 L185.80 738.13 L186.40 738.99 L187.00 739.33 L187.60 739.28 L188.20 739.59 L188.80 739.86 L189.40 740.37 L190.00 739.73 L190.60 740.04 L191.20 739.80 L191.80 739.71 L192.40 740.37 L193.00 740.37 L193.60 740.44 L194.20 740.77 L194.80 741.15 L195.40 740.71 L196.00 740.70 L196.60 740.54 L197.20 740.45 L197.80 740.65 L198.40 740.42 L199.00 740.40 L199.60 740.30 L200.20 740.89 L200.80 740.86 L201.40 741.09 L202.00 741.30 L202.60 740.45 L203.20 740.39 L203.80 740.89 L204.40 741.01 L205.00 740.08 L205.60 739.54 L206.20 739.68 L206.80 739.23 L207.40 739.21 L208.00 738.96 L208.60 739.97 L209.20 740.82 L209.80 741.58 L210.40 741.10 L211.00 741.76 L211.60 742.18 L212.20 741.82 L212.80 742.80 L213.40 743.59 L214.00 743.12 L214.60 744.02 L215.20 743.88 L215.80 743.37 L216.40 743.12 L216.50 742.94 L216.65 632.00 L216.85 743.44 L217.00 718.87 L217.60 718.29 L218.20 718.99 L218.40 719.26 L218.55 632.50 L218.75 719.76 L218.80 719.95 L219.40 718.95 L220.00 717.03 L220.60 715.44 L221.20 714.82 L221.30 714.56 L221.45 638.00 L221.65 715.06 L221.80 712.08 L222.40 711.84 L223.00 711.40 L223.60 709.90 L224.20 709.60 L224.40 709.42 L224.55 645.00 L224.75 709.92 L224.80 711.06 L225.40 713.04 L226.00 713.87 L226.60 716.44 L227.20 717.79 L227.80 719.38 L228.40 718.85 L229.00 719.60 L229.60 720.07 L230.20 722.69 L230.80 723.50 L231.40 724.19 L232.00 725.87 L232.60 728.55 L233.20 730.39 L233.80 725.80 L234.10 721.60 L234.25 629.30 L234.45 722.10 L234.40 716.56 L235.00 717.84 L235.60 719.33 L236.20 721.16 L236.80 721.40 L237.40 721.71 L238.00 723.66 L238.60 723.77 L239.20 719.42 L239.50 717.68 L239.65 630.70 L239.85 718.18 L239.80 717.54 L240.40 717.61 L241.00 719.72 L241.60 719.88 L242.20 720.13 L242.70 715.43 L242.85 637.00 L243.05 715.93 L242.80 713.18 L243.00 704.30 L243.15 661.26 L243.35 705.75 L243.45 703.29 L243.60 669.01 L243.80 703.10 L243.81 703.23 L243.96 670.15 L244.16 702.59 L244.06 704.73 L244.21 664.70 L244.41 704.95 L244.33 704.70 L244.48 677.24 L244.68 706.40 L244.61 703.89 L244.76 675.48 L244.96 702.96 L245.15 705.31 L245.30 674.41 L245.50 703.83 L245.80 703.30 L246.40 704.30 L247.00 707.00 L247.60 710.30 L248.20 712.67 L248.80 714.50 L249.40 716.61 L250.00 718.46 L250.60 721.07 L251.20 721.27 L251.80 722.51 L252.40 722.48 L253.00 723.44 L253.60 723.66 L254.20 725.16 L254.80 725.77 L255.40 728.97 L256.00 730.59 L256.60 730.77 L257.20 732.31 L257.80 735.16 L258.40 734.11 L259.00 735.96 L259.60 735.95 L260.20 736.37 L260.80 737.91 L261.40 737.57 L262.00 737.97 L262.60 738.81 L263.20 740.35 L263.80 739.34 L264.40 740.45 L265.00 740.82 L265.60 740.95 L266.20 740.38 L266.80 739.83 L267.40 738.68 L268.00 738.32 L268.60 738.08 L269.20 739.77 L269.80 739.57 L270.40 739.26 L271.00 738.96 L271.60 740.04 L272.20 740.59 L272.80 740.57 L273.40 737.58 L274.00 733.56 L274.60 734.45 L275.20 735.43 L275.80 735.75 L276.40 736.48 L277.00 736.76 L277.60 737.98 L278.20 738.78 L278.80 738.78 L279.40 738.44 L280.00 739.35 L280.60 739.00 L281.20 738.93 L281.80 738.44 L282.40 738.76 L283.00 739.10 L283.60 739.37 L284.20 739.12 L284.80 739.45 L285.40 738.96 L286.00 739.07 L286.60 738.92 L287.20 739.30 L287.80 739.03 L288.40 738.87 L289.00 739.21 L289.60 739.31 L290.20 739.89 L290.80 740.14 L291.40 740.62 L292.00 740.77 L292.60 740.95 L293.20 741.30 L293.80 740.83 L294.40 740.50 L295.00 741.26 L295.60 740.53 L296.20 740.96 L296.80 741.09 L297.40 740.35 L298.00 741.07 L298.60 741.57 L299.20 741.49 L299.80 741.61 L300.40 741.78 L301.00 740.92 L301.60 740.99 L302.20 741.00 L302.80 741.47 L303.40 741.68 L304.00 741.83 L304.60 741.58 L305.20 741.87 L305.80 741.73 L306.40 741.67 L307.00 740.99 L307.60 740.34 L308.20 740.12 L308.80 740.32 L309.40 740.07 L310.00 740.96 L310.60 741.06 L311.20 741.21 L311.80 741.29 L312.40 741.41 L313.00 741.21 L313.60 740.42 L314.20 741.10 L314.80 741.40 L315.40 741.23 L316.00 741.17 L316.60 736.52 L317.20 732.96 L317.80 734.54 L318.40 735.07 L319.00 735.39 L319.60 736.08 L320.20 737.32 L320.80 737.44 L321.40 738.42 L322.00 739.42 L322.60 739.41 L323.20 739.35 L323.80 739.53 L324.40 740.00 L325.00 740.43 L325.60 740.51 L326.20 740.64 L326.80 739.96 L327.40 739.72 L328.00 739.77 L328.60 740.50 L329.20 740.32 L329.80 740.60 L330.40 740.00 L331.00 739.75 L331.60 739.91 L332.20 740.58 L332.80 740.98 L333.40 741.19 L334.00 740.77 L334.60 740.86 L335.20 740.84 L335.80 740.84 L336.40 740.36 L337.00 741.18 L337.60 740.66 L338.20 741.47 L338.80 741.86 L339.40 740.78 L340.00 740.81 L340.60 741.34 L341.20 741.83 L341.80 741.38 L342.40 740.88 L343.00 740.52 L343.60 741.36 L344.20 740.79 L344.80 741.00 L345.40 740.49 L346.00 740.75 L346.60 741.50 L347.20 740.76 L347.80 741.31 L348.40 738.38 L349.00 734.64 L349.60 735.91 L350.20 736.28 L350.80 737.70 L351.40 738.13 L352.00 737.91 L352.60 737.91 L353.20 738.72 L353.80 739.22 L354.40 739.36 L355.00 739.28 L355.60 739.58 L356.20 739.75 L356.80 740.62 L357.40 739.95 L358.00 740.66 L358.60 741.19 L359.20 740.50 L359.80 741.26 L360.40 741.39 L361.00 741.73 L361.60 741.07 L362.20 740.83 L362.80 740.74 L363.40 741.53 L364.00 741.40 L364.60 741.01 L365.20 740.90 L365.80 740.62 L366.40 740.15 L367.00 739.97 L367.60 740.90 L368.20 740.64 L368.80 741.41 L369.40 740.87 L370.00 740.60 L370.60 740.79 L371.20 740.45 L371.80 740.52 L372.40 741.37 L373.00 741.74 L373.60 741.84 L374.20 741.65 L374.80 741.93 L375.40 742.13 L376.00 741.69 L376.60 741.69 L377.20 740.75 L377.80 741.19 L378.40 741.03 L379.00 741.37 L379.60 741.41 L380.20 740.92 L380.80 740.33 L381.40 741.23 L382.00 740.60 L382.60 740.74 L383.20 740.64 L383.80 740.52 L384.40 741.07 L385.00 741.71 L385.60 741.05 L386.20 741.25 L386.80 740.86 L387.40 741.00 L388.00 740.85 L388.60 740.45 L389.20 740.23 L389.80 740.17 L390.40 741.11 L391.00 741.06 L391.60 740.64 L392.20 741.37 L392.80 741.90 L393.40 741.42 L394.00 740.73 L394.60 740.42 L395.20 740.11 L395.80 740.29 L396.40 740.04 L397.00 740.10 L397.60 740.17 L398.20 740.64 L398.80 741.34 L399.40 741.54 L400.00 741.17 L400.60 740.98 L401.20 741.02 L401.80 740.84 L402.40 740.68 L403.00 740.21 L403.60 740.26 L404.20 741.25 L404.80 740.61 L405.40 740.79 L406.00 741.07 L406.60 741.54 L407.20 740.90 L407.80 740.63 L408.40 740.44 L409.00 740.55 L409.60 740.68 L410.20 741.46 L410.80 741.74 L411.40 741.93 L412.00 740.84 L412.60 740.26 L413.20 740.89 L413.80 741.49 L414.40 741.23 L415.00 741.25 L415.60 740.44 L416.20 740.54 L416.80 741.34 L417.40 741.64 L418.00 741.85 L418.60 742.13 L419.20 741.27 L419.80 740.60 L420.40 740.30 L421.00 740.64 L421.60 741.06 L422.20 741.65 L422.80 741.67 L423.40 741.57 L424.00 741.69 L424.60 741.32 L425.20 741.25 L425.80 740.49 L426.40 741.12 L427.00 740.69 L427.60 741.42 L428.20 731.26 L428.40 721.06 L428.55 624.00 L428.75 721.56 L428.80 719.58 L429.40 717.50 L430.00 716.08 L430.60 715.66 L431.20 714.39 L431.35 638.00 L431.55 714.89 L431.20 715.00 L431.80 712.66 L432.40 712.75 L433.00 715.26 L433.60 717.59 L434.20 719.22 L434.80 720.53 L435.40 722.96 L436.00 723.69 L436.60 725.41 L437.20 727.46 L437.80 730.50 L438.40 732.15 L439.00 734.35 L439.60 735.30 L440.20 735.54 L440.80 735.37 L441.40 737.13 L442.00 737.63 L442.60 737.09 L443.20 736.26 L443.80 737.08 L444.40 738.10 L445.00 738.20 L445.60 738.03 L446.20 739.00 L446.80 740.18 L447.40 737.58 L448.00 734.08 L448.60 735.42 L449.20 736.69 L449.80 738.12 L450.40 738.31 L451.00 739.33 L451.60 739.91 L452.20 740.00 L452.80 739.69 L453.40 740.66 L454.00 740.31 L454.60 740.87 L455.20 740.39 L455.80 740.13 L456.40 740.77 L457.00 740.48 L457.60 741.25 L458.20 741.05 L458.80 740.52 L459.40 740.28 L460.00 740.43 L460.60 740.86 L461.20 741.49 L461.80 740.72 L462.40 740.65 L463.00 740.35 L463.60 741.25 L464.20 740.59 L464.80 740.09 L465.40 739.83 L466.00 740.15 L466.60 741.04 L467.20 741.50 L467.80 741.54 L468.40 741.94 L469.00 742.06 L469.60 741.28 L470.20 740.65 L470.80 740.25 L471.40 733.77 L472.00 730.33 L472.60 732.12 L473.20 733.15 L473.80 734.08 L474.40 734.86 L475.00 735.34 L475.60 735.62 L476.20 736.36 L476.80 737.05 L477.40 738.42 L478.00 738.15 L478.60 739.29 L479.20 738.95 L479.80 739.06 L480.40 739.84 L481.00 740.33 L481.60 740.10 L482.20 739.49 L482.80 739.78 L483.40 739.84 L484.00 740.66 L484.60 740.12 L485.20 740.08 L485.80 740.82 L486.40 740.03 L487.00 740.14 L487.60 740.78 L488.20 741.07 L488.80 740.22 L489.40 739.75 L490.00 739.54 L490.60 740.62 L491.20 740.30 L491.80 740.81 L492.40 741.30 L493.00 740.79 L493.60 740.42 L494.20 741.17 L494.80 741.11 L495.40 740.58 L496.00 740.92 L496.60 740.55 L497.20 740.29 L497.80 739.76 L498.40 740.52 L499.00 741.17 L499.60 741.13 L500.20 741.53 L500.80 740.47 L501.40 740.18 L502.00 740.35 L502.60 741.12 L503.20 741.54 L503.80 740.97 L504.40 740.47 L505.00 738.04 L505.60 734.51 L506.20 736.25 L506.80 736.45 L507.40 737.66 L508.00 738.44 L508.60 739.14 L509.20 739.59 L509.80 739.70 L510.40 739.47 L511.00 739.39 L511.60 739.47 L512.20 740.15 L512.80 739.57 L513.40 739.45 L514.00 740.19 L514.60 739.91 L515.20 739.51 L515.80 739.26 L516.40 739.86 L517.00 739.88 L517.60 740.82 L518.20 741.20 L518.80 741.56 L519.40 739.55 L520.00 737.05 L520.60 737.03 L521.20 737.69 L521.80 738.45 L522.40 738.59 L523.00 738.45 L523.60 738.70 L524.20 739.18 L524.80 739.58 L525.40 739.95 L526.00 740.33 L526.60 740.32 L527.20 739.59 L527.80 740.23 L528.40 739.84 L529.00 740.02 L529.60 739.88 L530.20 740.32 L530.80 739.83 L531.40 739.64 L532.00 739.54 L532.60 739.37 L533.20 740.31 L533.80 740.40 L534.40 740.11 L535.00 740.05 L535.60 740.86 L536.20 739.23 L536.80 734.52 L537.40 734.52 L538.00 735.71 L538.60 737.13 L539.20 736.92 L539.80 737.52 L540.40 738.50 L541.00 739.20 L541.60 739.80 L542.20 739.00 L542.80 738.99 L543.40 738.79 L544.00 738.84 L544.60 740.00 L545.20 740.12 L545.80 740.70 L546.40 740.26 L547.00 740.72 L547.60 740.41 L548.20 739.38 L548.80 738.08 L549.40 738.37 L550.00 737.96 L550.60 738.56 L551.20 739.02 L551.80 738.80 L552.40 738.97 L553.00 738.80 L553.60 738.84 L554.20 738.97 L554.80 739.56 L555.40 739.98 L556.00 739.60 L556.60 739.14 L557.20 739.35 L557.80 739.96 L558.40 739.61 L559.00 739.61 L559.60 739.46 L560.20 740.21 L560.80 740.28 L561.40 739.64 L562.00 739.34 L562.60 739.59 L563.20 739.94 L563.80 740.26 L564.40 739.67 L565.00 739.45 L565.60 737.67 L566.20 736.26 L566.80 736.73 L567.40 737.20 L568.00 738.51 L568.60 738.46 L569.20 738.88 L569.80 738.90 L570.40 739.06 L571.00 739.83 L571.60 740.48 L572.20 739.99 L572.80 739.51 L573.40 740.02 L574.00 739.58 L574.60 739.08 L575.20 740.06 L575.80 739.95 L576.40 740.45 L577.00 740.15 L577.60 740.65 L578.20 740.35 L578.80 739.76 L579.40 739.23 L580.00 739.70 L580.60 740.08 L581.20 740.66 L581.80 739.83 L582.40 740.12 L583.00 739.93 L583.60 740.01 L584.20 739.55 L584.80 739.49 L585.40 739.79 L586.00 740.52 L586.60 739.77 L587.20 739.90 L587.80 740.40 L588.40 740.91 L589.00 740.11 L589.60 739.56 L590.20 740.41 L590.80 740.91 L591.40 740.50 L592.00 739.67 L592.60 740.44 L593.20 740.10 L593.80 740.64 L594.40 740.53 L595.00 740.76 L595.60 739.95 L596.20 740.38 L596.80 739.83 L597.40 739.78 L598.00 740.37 L598.60 740.66 L599.20 739.92 L599.80 739.56 L600.40 739.63 L601.00 739.83 L601.60 739.77 L602.20 739.37 L602.80 739.33 L603.40 739.98 L604.00 740.59 L604.60 739.73 L605.20 739.99 L605.80 740.41 L606.40 739.65 L607.00 740.35 L607.60 739.73 L608.20 740.07 L608.80 740.20 L609.40 740.38 L610.00 740.03 L610.60 740.01 L611.20 740.23 L611.80 740.13 L612.40 740.41 L613.00 740.28 L613.60 740.20 L614.20 739.57 L614.80 740.07 L615.40 740.17 L616.00 739.87 L616.60 740.46 L617.20 740.80 L617.80 740.55 L618.40 740.03 L619.00 740.15 L619.60 739.72 L620.20 739.51 L620.80 739.81 L621.40 739.51 L622.00 739.83 L622.60 740.10 L623.20 739.59 L623.80 740.15 L624.40 739.68 L625.00 740.33 L625.60 739.25 L626.20 736.11 L626.80 735.66 L627.40 736.66 L628.00 737.24 L628.60 738.53 L629.20 738.24 L629.80 739.20 L630.40 740.11 L631.00 740.33 L631.60 738.36 L632.00 731.98 L632.15 625.40 L632.35 732.48 L632.20 727.50 L632.80 719.23 L633.30 716.52 L633.45 639.00 L633.65 717.02 L633.40 716.09 L634.00 718.24 L634.60 719.46 L635.20 715.76 L635.80 715.60 L636.10 714.94 L636.25 631.90 L636.45 715.44 L636.40 715.62 L637.00 710.48 L637.60 707.92 L637.90 706.87 L638.05 645.00 L638.25 707.37 L638.20 705.73 L638.50 701.81 L638.65 658.00 L638.85 702.31 L638.80 695.67 L639.40 682.83 L640.00 678.77 L640.60 682.08 L641.20 680.63 L641.80 682.16 L642.40 685.79 L643.00 684.25 L643.60 684.17 L644.20 685.95 L644.80 686.33 L645.40 685.41 L646.00 673.77 L646.60 669.86 L647.20 675.53 L647.80 677.88 L648.40 679.47 L649.00 675.45 L649.60 677.45 L650.20 680.73 L650.80 687.59 L651.40 688.32 L652.00 683.86 L652.60 683.87 L653.20 686.85 L653.80 690.20 L654.40 689.06 L655.00 679.71 L655.60 685.42 L656.20 687.72 L656.80 685.60 L657.40 683.18 L658.00 680.33 L658.60 685.72 L659.20 687.67 L659.80 689.05 L660.40 691.52 L661.00 682.07 L661.60 678.68 L662.20 679.40 L662.80 676.41 L663.40 680.08 L664.00 679.33 L664.60 682.79 L665.20 687.62 L665.80 687.43 L666.40 686.45 L667.00 683.49 L667.60 680.35 L668.20 682.02 L668.80 684.95 L669.40 690.87 L670.00 694.76 L670.60 697.99 L671.20 698.29 L671.80 693.20 L672.40 692.58 L673.00 696.14 L673.60 694.40 L674.20 688.93 L674.80 690.06 L675.40 693.21 L676.00 698.12 L676.60 699.67 L677.20 703.11 L677.80 705.74 L678.40 705.79 L679.00 707.77 L679.60 708.70 L680.20 708.52 L680.80 711.38 L681.40 711.13 L682.00 711.07 L682.60 711.26 L683.20 713.47 L683.80 715.82 L684.40 717.17 L685.00 717.05 L685.60 716.90 L686.20 716.38 L686.80 718.43 L687.40 719.63 L688.00 719.96 L688.60 721.41 L689.20 721.91 L689.80 724.08 L690.40 725.18 L691.00 724.82 L691.60 727.00 L692.20 725.13 L692.80 725.69 L693.40 725.67 L694.00 725.20 L694.60 724.44 L695.20 726.33 L695.80 725.05 L696.40 726.08 L697.00 727.91 L697.60 726.51 L698.20 725.98 L698.80 727.01 L699.40 727.33 L700.00 727.98 L700.60 728.92 L701.20 727.54 L701.80 727.26 L702.40 727.13 L703.00 726.36 L703.60 728.57 L704.20 729.52 L704.80 729.90 L705.40 728.00 L706.00 729.58 L706.60 730.03 L707.20 729.40 L707.80 729.89 L708.40 729.25 L709.00 728.20 L709.60 727.25 L710.20 727.09 L710.80 726.40 L711.40 726.90 L712.00 728.41 L712.60 729.06 L713.20 729.85 L713.80 729.86 L714.40 728.51 L715.00 728.62 L715.60 728.31 L716.20 729.18 L716.80 728.84 L717.40 727.87 L718.00 728.44 L718.60 729.70 L719.20 727.55 L719.80 726.85 L720.40 724.82 L721.00 725.08 L721.60 725.26 L722.20 727.03 L722.80 728.91 L723.40 729.53 L724.00 728.80 L724.60 730.18 L725.20 729.47 L725.80 728.95 L726.40 730.76 L727.00 731.08 L727.60 731.57 L728.20 731.89 L728.80 733.11 L729.40 732.42 L730.00 733.25 L730.60 733.42 L731.20 734.10 L731.80 733.38 L732.40 733.95 L733.00 733.94 L733.60 733.30 L734.20 732.80 L734.80 733.83 L735.40 732.96 L736.00 735.00 L736.60 734.05 L737.20 733.22 L737.80 732.86 L738.40 735.01 L739.00 734.51 L739.60 733.65 L740.20 732.84 L740.80 732.42 L741.40 734.03 L742.00 734.74 L742.60 735.30 L743.20 735.70 L743.80 734.02 L744.40 734.56 L745.00 734.21 L745.60 735.29 L746.20 735.87 L746.80 736.38 L747.40 734.33 L748.00 735.44 L748.60 736.17" fill="none" stroke="#111" stroke-width="1.05" stroke-linejoin="bevel" />
<path d="M43.00 742.37 L43.60 743.07 L44.20 742.62 L44.80 742.13 L45.40 741.78 L46.00 741.82 L46.60 742.52 L47.20 741.97 L47.80 742.19 L48.40 742.36 L49.00 742.03 L49.60 742.06 L50.20 741.40 L50.80 741.09 L51.40 741.14 L52.00 741.84 L52.60 741.88 L53.20 741.76 L53.80 742.09 L54.40 742.10 L55.00 741.90 L55.60 742.50 L56.20 742.71 L56.80 742.20 L57.40 742.40 L58.00 742.45 L58.60 742.98 L59.20 743.09 L59.80 742.54 L60.40 743.22 L61.00 742.40 L61.60 742.38 L62.20 742.86 L62.80 742.29 L63.40 742.46 L64.00 741.94 L64.60 742.55 L65.20 743.03 L65.80 743.04 L66.40 743.48 L67.00 742.95 L67.60 743.21 L68.20 743.22 L68.80 743.22 L69.40 743.07 L70.00 743.53 L70.60 743.89 L71.20 736.83 L71.80 733.14 L72.40 734.15 L73.00 736.09 L73.60 737.49 L74.20 739.07 L74.80 739.96 L75.40 739.92 L76.00 740.21 L76.60 740.91 L77.20 740.50 L77.80 740.99 L78.40 740.92 L79.00 740.87 L79.60 738.40 L80.20 738.06 L80.80 738.42 L81.40 738.98 L82.00 739.66 L82.60 740.84 L83.20 740.49 L83.80 740.90 L84.40 741.33 L85.00 742.09 L85.60 742.47 L86.20 742.77 L86.80 742.14 L87.40 740.81 L88.00 738.87 L88.60 740.08 L89.20 741.01 L89.80 740.51 L90.40 740.37 L91.00 740.45 L91.60 740.56 L92.20 741.02 L92.80 741.46 L93.40 741.28 L94.00 740.84 L94.60 741.20 L95.20 741.34 L95.80 741.70 L96.40 742.45 L97.00 742.49 L97.60 742.27 L98.20 742.29 L98.80 742.39 L99.40 741.56 L100.00 742.29 L100.60 742.53 L101.20 742.80 L101.80 742.85 L102.40 742.31 L103.00 742.02 L103.60 741.45 L104.20 741.88 L104.80 741.32 L105.40 741.02 L106.00 741.05 L106.60 741.00 L107.20 741.23 L107.80 740.95 L108.40 740.72 L109.00 740.81 L109.60 740.78 L110.20 741.14 L110.80 740.86 L111.40 741.90 L112.00 742.10 L112.60 741.56 L113.20 741.41 L113.80 741.46 L114.40 741.51 L115.00 741.20 L115.60 742.05 L116.20 742.72 L116.80 742.35 L117.40 742.17 L118.00 741.51 L118.60 741.18 L119.20 740.53 L119.80 738.10 L120.40 738.57 L121.00 738.70 L121.60 738.75 L122.20 740.21 L122.80 740.54 L123.40 740.28 L124.00 740.77 L124.60 740.38 L125.20 740.91 L125.80 741.88 L126.40 742.29 L127.00 742.31 L127.60 741.73 L128.20 741.58 L128.80 741.23 L129.40 741.90 L130.00 741.94 L130.60 742.32 L131.20 741.91 L131.80 741.54 L132.40 742.16 L133.00 742.75 L133.60 742.89 L134.20 742.91 L134.80 742.94 L135.40 742.84 L136.00 742.07 L136.60 742.06 L137.20 741.83 L137.80 741.24 L138.40 739.32 L139.00 737.09 L139.60 737.89 L140.20 739.13 L140.80 740.34 L141.40 740.42 L142.00 741.26 L142.60 741.88 L143.20 742.25 L143.80 741.68 L144.40 741.22 L145.00 741.01 L145.60 740.88 L146.20 740.85 L146.80 741.45 L147.40 742.18 L148.00 742.51 L148.60 742.20 L149.20 742.28 L149.80 742.54 L150.40 741.67 L151.00 741.99 L151.60 742.51 L152.20 742.62 L152.80 742.62 L153.40 742.24 L154.00 741.60 L154.60 742.09 L155.20 741.72 L155.80 742.16 L156.40 742.63 L157.00 742.08 L157.60 741.77 L158.20 742.36 L158.80 742.36 L159.40 741.58 L160.00 741.08 L160.60 740.83 L161.20 741.74 L161.80 742.09 L162.40 741.35 L163.00 741.89 L163.60 742.39 L164.20 742.20 L164.80 741.66 L165.40 741.63 L166.00 741.02 L166.60 740.51 L167.20 741.56 L167.80 741.68 L168.40 741.56 L169.00 742.06 L169.60 741.63 L170.20 741.99 L170.80 742.12 L171.40 741.32 L172.00 740.92 L172.60 740.76 L173.20 740.58 L173.80 740.96 L174.40 740.70 L175.00 740.77 L175.60 740.40 L176.20 741.28 L176.80 740.97 L177.40 740.94 L178.00 741.09 L178.60 741.61 L179.20 741.21 L179.80 741.68 L180.40 741.34 L181.00 741.19 L181.60 741.09 L182.20 740.31 L182.80 740.47 L183.40 740.18 L184.00 739.77 L184.60 738.84 L185.20 737.43 L185.80 738.13 L186.40 738.99 L187.00 739.33 L187.60 739.28 L188.20 739.59 L188.80 739.86 L189.40 740.37 L190.00 739.73 L190.60 740.04 L191.20 739.80 L191.80 739.71 L192.40 740.37 L193.00 740.37 L193.60 740.44 L194.20 740.77 L194.80 741.15 L195.40 740.71 L196.00 740.70 L196.60 740.54 L197.20 740.45 L197.80 740.65 L198.40 740.42 L199.00 740.40 L199.60 740.30 L200.20 740.89 L200.80 740.86 L201.40 741.09 L202.00 741.30 L202.60 740.45 L203.20 740.39 L203.80 740.89 L204.40 741.01 L205.00 740.08 L205.60 739.54 L206.20 739.68 L206.80 739.23 L207.40 739.21 L208.00 738.96 L208.60 739.97 L209.20 740.82 L209.80 741.58 L210.40 741.10 L211.00 741.76 L211.60 742.18 L212.20 741.82 L212.80 742.80 L213.40 743.59 L214.00 743.12 L214.60 744.02 L215.20 743.88 L215.80 743.37 L216.40 743.12 L217.00 718.87 L217.60 718.29 L218.20 718.99 L218.80 719.95 L219.40 718.95 L220.00 717.03 L220.60 715.44 L221.20 714.82 L221.80 712.08 L222.40 711.84 L223.00 711.40 L223.60 709.90 L224.20 709.60 L224.80 711.06 L225.40 713.04 L226.00 713.87 L226.60 716.44 L227.20 717.79 L227.80 719.38 L228.40 718.85 L229.00 719.60 L229.60 720.07 L230.20 722.69 L230.80 723.50 L231.40 724.19 L232.00 725.87 L232.60 728.55 L233.20 730.39 L233.80 725.80 L234.40 716.56 L235.00 717.84 L235.60 719.33 L236.20 721.16 L236.80 721.40 L237.40 721.71 L238.00 723.66 L238.60 723.77 L239.20 719.42 L239.80 717.54 L240.40 717.61 L241.00 719.72 L241.60 719.88 L242.20 720.13 L242.80 713.18 M245.80 703.30 L246.40 704.30 L247.00 707.00 L247.60 710.30 L248.20 712.67 L248.80 714.50 L249.40 716.61 L250.00 718.46 L250.60 721.07 L251.20 721.27 L251.80 722.51 L252.40 722.48 L253.00 723.44 L253.60 723.66 L254.20 725.16 L254.80 725.77 L255.40 728.97 L256.00 730.59 L256.60 730.77 L257.20 732.31 L257.80 735.16 L258.40 734.11 L259.00 735.96 L259.60 735.95 L260.20 736.37 L260.80 737.91 L261.40 737.57 L262.00 737.97 L262.60 738.81 L263.20 740.35 L263.80 739.34 L264.40 740.45 L265.00 740.82 L265.60 740.95 L266.20 740.38 L266.80 739.83 L267.40 738.68 L268.00 738.32 L268.60 738.08 L269.20 739.77 L269.80 739.57 L270.40 739.26 L271.00 738.96 L271.60 740.04 L272.20 740.59 L272.80 740.57 L273.40 737.58 L274.00 733.56 L274.60 734.45 L275.20 735.43 L275.80 735.75 L276.40 736.48 L277.00 736.76 L277.60 737.98 L278.20 738.78 L278.80 738.78 L279.40 738.44 L280.00 739.35 L280.60 739.00 L281.20 738.93 L281.80 738.44 L282.40 738.76 L283.00 739.10 L283.60 739.37 L284.20 739.12 L284.80 739.45 L285.40 738.96 L286.00 739.07 L286.60 738.92 L287.20 739.30 L287.80 739.03 L288.40 738.87 L289.00 739.21 L289.60 739.31 L290.20 739.89 L290.80 740.14 L291.40 740.62 L292.00 740.77 L292.60 740.95 L293.20 741.30 L293.80 740.83 L294.40 740.50 L295.00 741.26 L295.60 740.53 L296.20 740.96 L296.80 741.09 L297.40 740.35 L298.00 741.07 L298.60 741.57 L299.20 741.49 L299.80 741.61 L300.40 741.78 L301.00 740.92 L301.60 740.99 L302.20 741.00 L302.80 741.47 L303.40 741.68 L304.00 741.83 L304.60 741.58 L305.20 741.87 L305.80 741.73 L306.40 741.67 L307.00 740.99 L307.60 740.34 L308.20 740.12 L308.80 740.32 L309.40 740.07 L310.00 740.96 L310.60 741.06 L311.20 741.21 L311.80 741.29 L312.40 741.41 L313.00 741.21 L313.60 740.42 L314.20 741.10 L314.80 741.40 L315.40 741.23 L316.00 741.17 L316.60 736.52 L317.20 732.96 L317.80 734.54 L318.40 735.07 L319.00 735.39 L319.60 736.08 L320.20 737.32 L320.80 737.44 L321.40 738.42 L322.00 739.42 L322.60 739.41 L323.20 739.35 L323.80 739.53 L324.40 740.00 L325.00 740.43 L325.60 740.51 L326.20 740.64 L326.80 739.96 L327.40 739.72 L328.00 739.77 L328.60 740.50 L329.20 740.32 L329.80 740.60 L330.40 740.00 L331.00 739.75 L331.60 739.91 L332.20 740.58 L332.80 740.98 L333.40 741.19 L334.00 740.77 L334.60 740.86 L335.20 740.84 L335.80 740.84 L336.40 740.36 L337.00 741.18 L337.60 740.66 L338.20 741.47 L338.80 741.86 L339.40 740.78 L340.00 740.81 L340.60 741.34 L341.20 741.83 L341.80 741.38 L342.40 740.88 L343.00 740.52 L343.60 741.36 L344.20 740.79 L344.80 741.00 L345.40 740.49 L346.00 740.75 L346.60 741.50 L347.20 740.76 L347.80 741.31 L348.40 738.38 L349.00 734.64 L349.60 735.91 L350.20 736.28 L350.80 737.70 L351.40 738.13 L352.00 737.91 L352.60 737.91 L353.20 738.72 L353.80 739.22 L354.40 739.36 L355.00 739.28 L355.60 739.58 L356.20 739.75 L356.80 740.62 L357.40 739.95 L358.00 740.66 L358.60 741.19 L359.20 740.50 L359.80 741.26 L360.40 741.39 L361.00 741.73 L361.60 741.07 L362.20 740.83 L362.80 740.74 L363.40 741.53 L364.00 741.40 L364.60 741.01 L365.20 740.90 L365.80 740.62 L366.40 740.15 L367.00 739.97 L367.60 740.90 L368.20 740.64 L368.80 741.41 L369.40 740.87 L370.00 740.60 L370.60 740.79 L371.20 740.45 L371.80 740.52 L372.40 741.37 L373.00 741.74 L373.60 741.84 L374.20 741.65 L374.80 741.93 L375.40 742.13 L376.00 741.69 L376.60 741.69 L377.20 740.75 L377.80 741.19 L378.40 741.03 L379.00 741.37 L379.60 741.41 L380.20 740.92 L380.80 740.33 L381.40 741.23 L382.00 740.60 L382.60 740.74 L383.20 740.64 L383.80 740.52 L384.40 741.07 L385.00 741.71 L385.60 741.05 L386.20 741.25 L386.80 740.86 L387.40 741.00 L388.00 740.85 L388.60 740.45 L389.20 740.23 L389.80 740.17 L390.40 741.11 L391.00 741.06 L391.60 740.64 L392.20 741.37 L392.80 741.90 L393.40 741.42 L394.00 740.73 L394.60 740.42 L395.20 740.11 L395.80 740.29 L396.40 740.04 L397.00 740.10 L397.60 740.17 L398.20 740.64 L398.80 741.34 L399.40 741.54 L400.00 741.17 L400.60 740.98 L401.20 741.02 L401.80 740.84 L402.40 740.68 L403.00 740.21 L403.60 740.26 L404.20 741.25 L404.80 740.61 L405.40 740.79 L406.00 741.07 L406.60 741.54 L407.20 740.90 L407.80 740.63 L408.40 740.44 L409.00 740.55 L409.60 740.68 L410.20 741.46 L410.80 741.74 L411.40 741.93 L412.00 740.84 L412.60 740.26 L413.20 740.89 L413.80 741.49 L414.40 741.23 L415.00 741.25 L415.60 740.44 L416.20 740.54 L416.80 741.34 L417.40 741.64 L418.00 741.85 L418.60 742.13 L419.20 741.27 L419.80 740.60 L420.40 740.30 L421.00 740.64 L421.60 741.06 L422.20 741.65 L422.80 741.67 L423.40 741.57 L424.00 741.69 L424.60 741.32 L425.20 741.25 L425.80 740.49 L426.40 741.12 L427.00 740.69 L427.60 741.42 L428.20 731.26 L428.80 719.58 L429.40 717.50 L430.00 716.08 L430.60 715.66 L431.20 715.00 L431.80 712.66 L432.40 712.75 L433.00 715.26 L433.60 717.59 L434.20 719.22 L434.80 720.53 L435.40 722.96 L436.00 723.69 L436.60 725.41 L437.20 727.46 L437.80 730.50 L438.40 732.15 L439.00 734.35 L439.60 735.30 L440.20 735.54 L440.80 735.37 L441.40 737.13 L442.00 737.63 L442.60 737.09 L443.20 736.26 L443.80 737.08 L444.40 738.10 L445.00 738.20 L445.60 738.03 L446.20 739.00 L446.80 740.18 L447.40 737.58 L448.00 734.08 L448.60 735.42 L449.20 736.69 L449.80 738.12 L450.40 738.31 L451.00 739.33 L451.60 739.91 L452.20 740.00 L452.80 739.69 L453.40 740.66 L454.00 740.31 L454.60 740.87 L455.20 740.39 L455.80 740.13 L456.40 740.77 L457.00 740.48 L457.60 741.25 L458.20 741.05 L458.80 740.52 L459.40 740.28 L460.00 740.43 L460.60 740.86 L461.20 741.49 L461.80 740.72 L462.40 740.65 L463.00 740.35 L463.60 741.25 L464.20 740.59 L464.80 740.09 L465.40 739.83 L466.00 740.15 L466.60 741.04 L467.20 741.50 L467.80 741.54 L468.40 741.94 L469.00 742.06 L469.60 741.28 L470.20 740.65 L470.80 740.25 L471.40 733.77 L472.00 730.33 L472.60 732.12 L473.20 733.15 L473.80 734.08 L474.40 734.86 L475.00 735.34 L475.60 735.62 L476.20 736.36 L476.80 737.05 L477.40 738.42 L478.00 738.15 L478.60 739.29 L479.20 738.95 L479.80 739.06 L480.40 739.84 L481.00 740.33 L481.60 740.10 L482.20 739.49 L482.80 739.78 L483.40 739.84 L484.00 740.66 L484.60 740.12 L485.20 740.08 L485.80 740.82 L486.40 740.03 L487.00 740.14 L487.60 740.78 L488.20 741.07 L488.80 740.22 L489.40 739.75 L490.00 739.54 L490.60 740.62 L491.20 740.30 L491.80 740.81 L492.40 741.30 L493.00 740.79 L493.60 740.42 L494.20 741.17 L494.80 741.11 L495.40 740.58 L496.00 740.92 L496.60 740.55 L497.20 740.29 L497.80 739.76 L498.40 740.52 L499.00 741.17 L499.60 741.13 L500.20 741.53 L500.80 740.47 L501.40 740.18 L502.00 740.35 L502.60 741.12 L503.20 741.54 L503.80 740.97 L504.40 740.47 L505.00 738.04 L505.60 734.51 L506.20 736.25 L506.80 736.45 L507.40 737.66 L508.00 738.44 L508.60 739.14 L509.20 739.59 L509.80 739.70 L510.40 739.47 L511.00 739.39 L511.60 739.47 L512.20 740.15 L512.80 739.57 L513.40 739.45 L514.00 740.19 L514.60 739.91 L515.20 739.51 L515.80 739.26 L516.40 739.86 L517.00 739.88 L517.60 740.82 L518.20 741.20 L518.80 741.56 L519.40 739.55 L520.00 737.05 L520.60 737.03 L521.20 737.69 L521.80 738.45 L522.40 738.59 L523.00 738.45 L523.60 738.70 L524.20 739.18 L524.80 739.58 L525.40 739.95 L526.00 740.33 L526.60 740.32 L527.20 739.59 L527.80 740.23 L528.40 739.84 L529.00 740.02 L529.60 739.88 L530.20 740.32 L530.80 739.83 L531.40 739.64 L532.00 739.54 L532.60 739.37 L533.20 740.31 L533.80 740.40 L534.40 740.11 L535.00 740.05 L535.60 740.86 L536.20 739.23 L536.80 734.52 L537.40 734.52 L538.00 735.71 L538.60 737.13 L539.20 736.92 L539.80 737.52 L540.40 738.50 L541.00 739.20 L541.60 739.80 L542.20 739.00 L542.80 738.99 L543.40 738.79 L544.00 738.84 L544.60 740.00 L545.20 740.12 L545.80 740.70 L546.40 740.26 L547.00 740.72 L547.60 740.41 L548.20 739.38 L548.80 738.08 L549.40 738.37 L550.00 737.96 L550.60 738.56 L551.20 739.02 L551.80 738.80 L552.40 738.97 L553.00 738.80 L553.60 738.84 L554.20 738.97 L554.80 739.56 L555.40 739.98 L556.00 739.60 L556.60 739.14 L557.20 739.35 L557.80 739.96 L558.40 739.61 L559.00 739.61 L559.60 739.46 L560.20 740.21 L560.80 740.28 L561.40 739.64 L562.00 739.34 L562.60 739.59 L563.20 739.94 L563.80 740.26 L564.40 739.67 L565.00 739.45 L565.60 737.67 L566.20 736.26 L566.80 736.73 L567.40 737.20 L568.00 738.51 L568.60 738.46 L569.20 738.88 L569.80 738.90 L570.40 739.06 L571.00 739.83 L571.60 740.48 L572.20 739.99 L572.80 739.51 L573.40 740.02 L574.00 739.58 L574.60 739.08 L575.20 740.06 L575.80 739.95 L576.40 740.45 L577.00 740.15 L577.60 740.65 L578.20 740.35 L578.80 739.76 L579.40 739.23 L580.00 739.70 L580.60 740.08 L581.20 740.66 L581.80 739.83 L582.40 740.12 L583.00 739.93 L583.60 740.01 L584.20 739.55 L584.80 739.49 L585.40 739.79 L586.00 740.52 L586.60 739.77 L587.20 739.90 L587.80 740.40 L588.40 740.91 L589.00 740.11 L589.60 739.56 L590.20 740.41 L590.80 740.91 L591.40 740.50 L592.00 739.67 L592.60 740.44 L593.20 740.10 L593.80 740.64 L594.40 740.53 L595.00 740.76 L595.60 739.95 L596.20 740.38 L596.80 739.83 L597.40 739.78 L598.00 740.37 L598.60 740.66 L599.20 739.92 L599.80 739.56 L600.40 739.63 L601.00 739.83 L601.60 739.77 L602.20 739.37 L602.80 739.33 L603.40 739.98 L604.00 740.59 L604.60 739.73 L605.20 739.99 L605.80 740.41 L606.40 739.65 L607.00 740.35 L607.60 739.73 L608.20 740.07 L608.80 740.20 L609.40 740.38 L610.00 740.03 L610.60 740.01 L611.20 740.23 L611.80 740.13 L612.40 740.41 L613.00 740.28 L613.60 740.20 L614.20 739.57 L614.80 740.07 L615.40 740.17 L616.00 739.87 L616.60 740.46 L617.20 740.80 L617.80 740.55 L618.40 740.03 L619.00 740.15 L619.60 739.72 L620.20 739.51 L620.80 739.81 L621.40 739.51 L622.00 739.83 L622.60 740.10 L623.20 739.59 L623.80 740.15 L624.40 739.68 L625.00 740.33 L625.60 739.25 L626.20 736.11 L626.80 735.66 L627.40 736.66 L628.00 737.24 L628.60 738.53 L629.20 738.24 L629.80 739.20 L630.40 740.11 L631.00 740.33 L631.60 738.36 L632.20 727.50 L632.80 719.23 L633.40 716.09 L634.00 718.24 L634.60 719.46 L635.20 715.76 L635.80 715.60 L636.40 715.62 L637.00 710.48 L637.60 707.92 L638.20 705.73 L638.80 695.67 L639.40 682.83 L640.00 678.77 L640.60 682.08 L641.20 680.63 L641.80 682.16 L642.40 685.79 L643.00 684.25 L643.60 684.17 L644.20 685.95 L644.80 686.33 L645.40 685.41 L646.00 673.77 L646.60 669.86 L647.20 675.53 L647.80 677.88 L648.40 679.47 L649.00 675.45 L649.60 677.45 L650.20 680.73 L650.80 687.59 L651.40 688.32 L652.00 683.86 L652.60 683.87 L653.20 686.85 L653.80 690.20 L654.40 689.06 L655.00 679.71 L655.60 685.42 L656.20 687.72 L656.80 685.60 L657.40 683.18 L658.00 680.33 L658.60 685.72 L659.20 687.67 L659.80 689.05 L660.40 691.52 L661.00 682.07 L661.60 678.68 L662.20 679.40 L662.80 676.41 L663.40 680.08 L664.00 679.33 L664.60 682.79 L665.20 687.62 L665.80 687.43 L666.40 686.45 L667.00 683.49 L667.60 680.35 L668.20 682.02 L668.80 684.95 L669.40 690.87 L670.00 694.76 L670.60 697.99 L671.20 698.29 L671.80 693.20 L672.40 692.58 L673.00 696.14 L673.60 694.40 L674.20 688.93 L674.80 690.06 L675.40 693.21 L676.00 698.12 L676.60 699.67 L677.20 703.11 L677.80 705.74 L678.40 705.79 L679.00 707.77 L679.60 708.70 L680.20 708.52 L680.80 711.38 L681.40 711.13 L682.00 711.07 L682.60 711.26 L683.20 713.47 L683.80 715.82 L684.40 717.17 L685.00 717.05 L685.60 716.90 L686.20 716.38 L686.80 718.43 L687.40 719.63 L688.00 719.96 L688.60 721.41 L689.20 721.91 L689.80 724.08 L690.40 725.18 L691.00 724.82 L691.60 727.00 L692.20 725.13 L692.80 725.69 L693.40 725.67 L694.00 725.20 L694.60 724.44 L695.20 726.33 L695.80 725.05 L696.40 726.08 L697.00 727.91 L697.60 726.51 L698.20 725.98 L698.80 727.01 L699.40 727.33 L700.00 727.98 L700.60 728.92 L701.20 727.54 L701.80 727.26 L702.40 727.13 L703.00 726.36 L703.60 728.57 L704.20 729.52 L704.80 729.90 L705.40 728.00 L706.00 729.58 L706.60 730.03 L707.20 729.40 L707.80 729.89 L708.40 729.25 L709.00 728.20 L709.60 727.25 L710.20 727.09 L710.80 726.40 L711.40 726.90 L712.00 728.41 L712.60 729.06 L713.20 729.85 L713.80 729.86 L714.40 728.51 L715.00 728.62 L715.60 728.31 L716.20 729.18 L716.80 728.84 L717.40 727.87 L718.00 728.44 L718.60 729.70 L719.20 727.55 L719.80 726.85 L720.40 724.82 L721.00 725.08 L721.60 725.26 L722.20 727.03 L722.80 728.91 L723.40 729.53 L724.00 728.80 L724.60 730.18 L725.20 729.47 L725.80 728.95 L726.40 730.76 L727.00 731.08 L727.60 731.57 L728.20 731.89 L728.80 733.11 L729.40 732.42 L730.00 733.25 L730.60 733.42 L731.20 734.10 L731.80 733.38 L732.40 733.95 L733.00 733.94 L733.60 733.30 L734.20 732.80 L734.80 733.83 L735.40 732.96 L736.00 735.00 L736.60 734.05 L737.20 733.22 L737.80 732.86 L738.40 735.01 L739.00 734.51 L739.60 733.65 L740.20 732.84 L740.80 732.42 L741.40 734.03 L742.00 734.74 L742.60 735.30 L743.20 735.70 L743.80 734.02 L744.40 734.56 L745.00 734.21 L745.60 735.29 L746.20 735.87 L746.80 736.38 L747.40 734.33 L748.00 735.44 L748.60 736.17" fill="none" stroke="#000" stroke-width="1.35" stroke-linejoin="bevel" />
<path d="M43.00 921.92 L43.60 921.55 L44.20 920.77 L44.80 921.89 L45.40 920.55 L46.00 920.85 L46.60 921.82 L47.20 920.51 L47.80 920.76 L48.40 920.99 L49.00 919.78 L49.60 919.81 L50.20 920.51 L50.80 920.37 L51.40 920.87 L52.00 919.89 L52.60 919.51 L53.20 919.01 L53.80 919.59 L54.40 920.82 L55.00 920.75 L55.60 921.10 L56.20 920.42 L56.80 920.83 L57.40 919.62 L58.00 919.36 L58.60 920.05 L59.20 920.52 L59.80 920.10 L60.40 919.13 L61.00 918.98 L61.60 918.76 L62.20 918.78 L62.80 919.95 L63.40 919.24 L64.00 920.34 L64.60 920.93 L65.20 919.42 L65.80 919.30 L66.40 919.47 L67.00 918.52 L67.60 918.87 L68.20 920.11 L68.80 919.04 L69.40 919.50 L70.00 918.70 L70.60 919.75 L71.20 921.23 L71.80 920.73 L72.40 920.24 L73.00 920.35 L73.60 921.62 L74.20 921.38 L74.80 921.61 L75.40 922.54 L76.00 923.90 L76.60 923.54 L77.20 923.30 L77.80 923.69 L78.40 922.71 L79.00 923.24 L79.60 922.00 L80.20 921.98 L80.50 907.97 L80.65 805.20 L80.85 908.47 L80.80 908.94 L81.40 907.27 L82.00 907.33 L82.50 907.09 L82.65 819.30 L82.85 907.59 L82.60 907.34 L83.20 905.46 L83.80 902.73 L84.00 901.88 L84.15 836.30 L84.35 902.38 L84.40 898.86 L84.50 895.61 L84.65 860.70 L84.85 896.11 L85.00 880.23 L85.60 874.67 L86.20 872.12 L86.80 872.00 L87.40 869.95 L88.00 869.26 L88.60 867.24 L89.20 867.04 L89.80 868.64 L90.40 869.73 L91.00 871.94 L91.60 872.55 L92.20 874.25 L92.80 877.04 L93.40 878.73 L94.00 880.13 L94.60 881.44 L95.20 884.15 L95.80 885.45 L96.40 885.65 L97.00 888.19 L97.60 889.26 L98.20 890.79 L98.80 891.86 L99.40 893.67 L100.00 895.11 L100.60 895.66 L101.20 897.66 L101.80 898.12 L102.40 900.38 L103.00 900.47 L103.60 902.45 L104.20 904.00 L104.80 904.58 L105.40 905.77 L106.00 905.81 L106.60 907.26 L107.20 907.75 L107.80 907.96 L108.40 910.08 L109.00 910.38 L109.60 910.86 L110.20 912.41 L110.80 912.15 L111.40 912.82 L112.00 912.26 L112.60 913.58 L113.20 913.18 L113.80 912.65 L114.40 914.44 L115.00 913.70 L115.60 915.07 L116.20 915.99 L116.80 915.73 L117.40 914.36 L118.00 913.79 L118.60 913.88 L119.20 914.40 L119.80 915.25 L120.40 916.60 L121.00 916.10 L121.60 915.44 L122.20 916.10 L122.80 915.62 L123.40 915.33 L124.00 916.30 L124.60 917.23 L125.20 916.34 L125.80 916.51 L126.40 917.10 L127.00 917.50 L127.60 916.82 L128.20 917.50 L128.80 916.23 L129.40 916.68 L130.00 916.99 L130.60 917.57 L131.20 917.08 L131.80 915.99 L132.40 915.33 L133.00 916.06 L133.60 915.73 L134.20 916.59 L134.80 915.91 L135.40 917.11 L136.00 916.59 L136.60 915.89 L137.20 915.90 L137.80 916.58 L138.40 917.22 L139.00 917.24 L139.60 916.82 L140.20 917.31 L140.80 918.65 L141.40 918.53 L142.00 919.40 L142.60 917.91 L143.20 919.26 L143.80 919.82 L144.40 919.41 L145.00 919.19 L145.60 919.14 L146.20 919.97 L146.80 918.62 L147.40 919.19 L148.00 919.33 L148.60 918.92 L149.20 919.67 L149.80 920.12 L150.40 918.99 L151.00 919.66 L151.60 919.48 L152.20 919.47 L152.80 919.78 L153.40 918.67 L154.00 919.27 L154.60 919.10 L155.20 920.11 L155.80 919.24 L156.40 920.07 L157.00 920.32 L157.60 920.23 L158.20 920.73 L158.80 919.15 L159.40 919.52 L160.00 919.76 L160.60 920.04 L161.20 919.59 L161.80 918.60 L162.40 918.32 L163.00 919.09 L163.60 918.57 L164.20 918.03 L164.80 918.37 L165.40 918.82 L166.00 919.20 L166.60 918.29 L167.20 919.44 L167.80 919.10 L168.40 919.90 L169.00 918.64 L169.60 920.03 L170.20 919.99 L170.80 920.82 L171.40 921.29 L172.00 921.22 L172.60 919.58 L173.20 919.21 L173.80 918.75 L174.40 919.70 L175.00 918.93 L175.60 918.58 L176.20 918.13 L176.80 917.91 L177.40 919.59 L178.00 920.60 L178.60 919.82 L179.20 920.21 L179.80 919.82 L180.40 919.72 L181.00 919.34 L181.60 919.71 L182.20 919.03 L182.80 918.71 L183.40 919.10 L184.00 918.62 L184.60 918.88 L185.20 920.14 L185.80 918.80 L186.40 918.24 L187.00 919.47 L187.60 918.51 L188.20 918.41 L188.80 919.67 L189.40 919.83 L190.00 919.07 L190.60 918.29 L191.20 918.34 L191.80 918.42 L192.40 919.57 L193.00 920.58 L193.60 920.73 L194.20 921.06 L194.80 921.30 L195.40 921.32 L196.00 921.43 L196.60 921.59 L197.20 919.76 L197.80 919.24 L198.40 918.80 L199.00 919.34 L199.60 919.40 L200.20 919.11 L200.80 920.03 L201.40 919.57 L202.00 918.90 L202.60 918.68 L203.20 918.96 L203.80 919.45 L204.40 919.62 L205.00 919.43 L205.60 918.77 L206.20 918.89 L206.80 918.78 L207.40 918.38 L208.00 918.98 L208.60 918.53 L209.20 919.43 L209.80 919.81 L210.40 918.87 L211.00 919.43 L211.60 919.11 L212.20 919.17 L212.80 919.55 L213.40 920.10 L214.00 920.68 L214.60 920.66 L215.20 919.50 L215.80 919.59 L216.40 919.19 L217.00 918.27 L217.60 918.94 L218.20 919.13 L218.80 920.10 L219.40 919.44 L220.00 920.20 L220.60 919.92 L221.20 918.85 L221.80 919.62 L222.40 919.09 L223.00 919.35 L223.60 918.47 L224.20 917.86 L224.80 919.52 L225.40 918.51 L226.00 918.18 L226.60 918.03 L227.20 917.80 L227.80 919.28 L228.40 920.47 L229.00 920.36 L229.60 919.74 L230.20 920.49 L230.80 920.06 L231.40 919.00 L232.00 919.65 L232.60 917.47 L233.20 916.06 L233.80 916.46 L234.40 916.96 L235.00 916.90 L235.60 917.90 L236.20 919.09 L236.80 919.15 L237.40 918.00 L238.00 918.90 L238.60 917.96 L239.20 918.48 L239.80 919.64 L240.40 919.88 L241.00 920.54 L241.60 920.58 L242.20 919.55 L242.80 918.70 L243.40 918.92 L244.00 919.55 L244.60 918.92 L245.20 918.79 L245.80 919.64 L246.40 919.23 L247.00 919.57 L247.60 919.63 L248.20 920.51 L248.80 919.01 L249.40 918.53 L250.00 919.58 L250.60 919.91 L251.20 918.84 L251.80 918.33 L252.40 918.22 L253.00 918.89 L253.60 920.05 L254.20 919.18 L254.80 918.67 L255.40 919.45 L256.00 919.30 L256.60 920.15 L257.20 920.96 L257.80 921.26 L258.40 920.94 L259.00 920.28 L259.60 918.97 L260.20 919.88 L260.80 919.49 L261.40 919.41 L262.00 919.74 L262.60 920.65 L263.20 920.26 L263.80 920.84 L264.40 921.26 L265.00 919.55 L265.60 919.21 L266.20 920.19 L266.80 920.47 L267.40 921.07 L268.00 919.67 L268.60 919.66 L269.20 920.54 L269.80 920.16 L270.40 920.24 L271.00 920.95 L271.60 919.58 L272.20 918.57 L272.80 919.77 L273.40 919.82 L274.00 919.02 L274.60 919.97 L275.20 919.28 L275.80 918.56 L276.40 917.34 L277.00 914.95 L277.60 915.98 L278.20 917.52 L278.80 917.77 L279.40 919.13 L280.00 917.93 L280.60 917.62 L281.20 917.44 L281.80 918.33 L282.40 918.03 L283.00 918.93 L283.60 919.13 L284.20 919.38 L284.80 920.12 L285.40 920.42 L286.00 920.89 L286.60 919.46 L287.20 919.18 L287.80 920.31 L288.40 919.70 L289.00 919.12 L289.60 916.84 L290.20 914.90 L290.80 916.72 L291.40 917.44 L292.00 916.79 L292.60 918.48 L293.20 918.53 L293.80 918.05 L294.40 918.64 L295.00 919.77 L295.60 919.11 L296.20 918.05 L296.80 917.90 L297.40 917.54 L298.00 918.39 L298.60 918.40 L299.20 919.61 L299.80 918.86 L300.40 918.04 L301.00 918.57 L301.60 918.12 L302.20 918.28 L302.80 918.19 L303.40 918.03 L304.00 918.95 L304.60 920.12 L305.20 919.51 L305.80 919.77 L306.40 919.21 L307.00 920.20 L307.60 919.95 L308.20 918.66 L308.80 919.51 L309.40 918.81 L310.00 918.06 L310.60 917.58 L311.20 919.12 L311.80 919.68 L312.40 919.21 L313.00 919.39 L313.60 919.80 L314.20 918.65 L314.80 919.39 L315.40 919.80 L316.00 920.54 L316.60 919.00 L317.20 919.28 L317.80 919.29 L318.40 920.03 L319.00 919.38 L319.60 919.67 L320.20 920.34 L320.80 919.51 L321.40 919.41 L322.00 920.18 L322.60 918.71 L323.20 919.97 L323.80 919.20 L324.40 919.10 L325.00 918.66 L325.60 919.54 L326.20 919.43 L326.80 919.85 L327.40 918.65 L328.00 919.70 L328.60 920.15 L329.20 920.08 L329.80 919.03 L330.40 918.53 L331.00 918.67 L331.60 916.10 L332.20 916.62 L332.80 916.76 L333.40 918.17 L334.00 917.36 L334.60 918.03 L335.20 918.80 L335.80 918.94 L336.40 918.58 L337.00 917.53 L337.60 917.90 L338.20 918.02 L338.80 919.33 L339.40 920.13 L340.00 920.54 L340.60 920.83 L341.20 919.21 L341.80 918.02 L342.40 917.94 L343.00 917.28 L343.60 917.16 L344.20 918.10 L344.80 917.79 L345.40 918.52 L346.00 918.42 L346.60 918.12 L347.20 919.49 L347.80 918.51 L348.40 919.51 L349.00 919.27 L349.60 919.43 L350.20 918.38 L350.80 919.12 L351.40 919.84 L352.00 918.71 L352.60 918.69 L353.20 919.08 L353.80 918.89 L354.40 919.39 L355.00 919.43 L355.60 918.72 L356.20 919.14 L356.80 919.56 L357.40 919.11 L358.00 919.14 L358.60 919.25 L359.20 918.96 L359.80 917.94 L360.40 918.08 L361.00 918.97 L361.60 919.33 L362.20 918.10 L362.80 918.31 L363.40 918.66 L364.00 918.73 L364.60 917.92 L365.20 918.57 L365.80 919.03 L366.40 918.93 L367.00 919.75 L367.60 919.41 L368.20 917.97 L368.80 917.78 L369.40 918.59 L370.00 917.66 L370.60 919.09 L371.20 919.29 L371.80 919.54 L372.40 918.37 L373.00 917.36 L373.60 918.71 L374.20 918.65 L374.80 918.46 L375.40 918.52 L376.00 919.10 L376.60 918.55 L377.20 919.12 L377.80 918.09 L378.40 919.31 L379.00 919.36 L379.60 918.55 L380.20 918.45 L380.80 919.28 L381.40 918.52 L382.00 918.91 L382.60 919.59 L383.20 920.07 L383.80 918.78 L384.40 919.25 L385.00 919.10 L385.60 919.45 L386.20 918.02 L386.80 917.98 L387.40 918.04 L388.00 918.87 L388.60 918.52 L389.20 917.43 L389.80 917.19 L390.40 918.42 L391.00 919.21 L391.60 918.96 L392.20 917.73 L392.80 918.58 L393.40 919.25 L394.00 918.34 L394.60 918.26 L395.20 917.79 L395.80 917.01 L396.40 918.08 L397.00 917.39 L397.60 916.86 L398.20 918.37 L398.80 917.40 L399.40 918.33 L400.00 918.96 L400.60 918.06 L401.20 917.83 L401.80 917.37 L402.40 918.18 L403.00 919.21 L403.60 919.26 L404.20 918.74 L404.80 918.54 L405.40 918.15 L406.00 918.60 L406.60 917.87 L407.20 917.41 L407.80 918.14 L408.40 917.57 L409.00 918.87 L409.60 919.01 L410.20 917.88 L410.80 916.90 L411.40 917.63 L412.00 917.00 L412.60 917.46 L413.20 917.93 L413.80 918.64 L414.40 915.71 L415.00 912.16 L415.60 913.87 L416.20 913.60 L416.80 914.14 L417.40 915.67 L418.00 915.68 L418.60 917.08 L419.20 916.09 L419.80 915.64 L420.40 916.08 L421.00 916.60 L421.60 916.72 L422.20 916.50 L422.80 916.91 L423.40 918.15 L424.00 918.95 L424.60 918.72 L425.20 917.79 L425.80 918.01 L426.40 917.21 L427.00 916.57 L427.60 917.83 L428.20 917.37 L428.80 916.89 L429.40 918.08 L430.00 917.20 L430.60 916.97 L431.20 916.66 L431.80 918.12 L432.40 918.46 L433.00 917.55 L433.60 916.80 L434.20 918.23 L434.80 917.31 L435.40 918.09 L436.00 918.47 L436.60 918.45 L437.20 918.20 L437.80 917.92 L438.40 917.48 L439.00 918.03 L439.60 917.25 L440.20 917.54 L440.80 917.22 L441.40 917.28 L442.00 918.46 L442.60 918.40 L443.20 918.54 L443.80 918.62 L444.40 917.24 L445.00 918.21 L445.60 918.94 L446.20 919.06 L446.80 918.63 L447.40 919.11 L448.00 919.59 L448.60 918.38 L449.20 917.47 L449.80 917.35 L450.40 916.58 L451.00 916.64 L451.60 916.33 L452.20 916.00 L452.80 916.68 L453.40 916.19 L454.00 916.96 L454.60 918.20 L455.20 918.58 L455.80 917.33 L456.40 918.13 L457.00 917.39 L457.60 918.34 L458.20 918.50 L458.80 918.37 L459.40 918.06 L460.00 919.09 L460.60 917.96 L461.20 918.86 L461.80 917.82 L462.40 917.01 L463.00 916.83 L463.60 916.34 L464.20 917.81 L464.80 917.20 L465.40 917.72 L466.00 917.35 L466.60 917.33 L467.20 918.26 L467.80 918.25 L468.40 917.63 L469.00 918.33 L469.60 917.40 L470.20 916.66 L470.80 917.69 L471.40 918.61 L472.00 918.92 L472.60 918.94 L473.20 919.46 L473.80 919.74 L474.40 919.11 L475.00 917.90 L475.60 918.12 L476.20 917.90 L476.80 918.41 L477.40 917.89 L478.00 917.00 L478.60 916.78 L479.20 916.54 L479.80 917.71 L480.40 918.25 L481.00 918.21 L481.60 917.72 L482.20 918.35 L482.80 918.08 L483.40 918.03 L484.00 917.35 L484.60 918.74 L485.20 918.28 L485.80 918.09 L486.40 917.41 L487.00 917.56 L487.60 917.69 L488.20 917.67 L488.80 918.35 L489.40 916.63 L490.00 915.18 L490.60 916.02 L491.20 915.45 L491.80 916.77 L492.40 915.93 L493.00 915.97 L493.60 917.31 L494.20 916.54 L494.80 916.51 L495.40 916.82 L496.00 918.20 L496.60 919.03 L497.20 917.86 L497.80 918.16 L498.40 918.75 L499.00 918.40 L499.60 917.77 L500.20 917.08 L500.80 916.53 L501.40 916.18 L502.00 916.00 L502.60 917.39 L503.20 917.87 L503.80 916.99 L504.40 918.42 L505.00 919.32 L505.60 918.56 L506.20 918.03 L506.80 918.87 L507.40 918.88 L508.00 919.06 L508.60 917.92 L509.20 918.50 L509.80 918.20 L510.40 917.18 L511.00 916.61 L511.60 916.77 L512.20 916.80 L512.80 916.89 L513.40 918.36 L514.00 918.04 L514.60 917.45 L515.20 916.90 L515.80 916.49 L516.40 917.04 L517.00 917.38 L517.60 916.81 L518.20 917.47 L518.80 917.45 L519.40 916.73 L520.00 917.34 L520.60 916.98 L521.20 916.83 L521.80 918.01 L522.40 917.96 L523.00 917.77 L523.60 918.10 L524.20 918.68 L524.80 918.77 L525.40 919.53 L526.00 919.44 L526.60 918.56 L527.20 919.43 L527.80 917.85 L528.40 917.36 L529.00 916.95 L529.60 917.30 L530.20 917.43 L530.80 917.59 L531.40 918.21 L532.00 917.93 L532.60 918.07 L533.20 918.58 L533.80 919.41 L534.40 919.94 L535.00 918.94 L535.60 918.43 L536.20 919.48 L536.80 919.73 L537.40 919.95 L538.00 918.40 L538.60 917.93 L539.20 917.98 L539.80 917.75 L540.40 917.97 L541.00 919.15 L541.60 918.57 L542.20 918.52 L542.80 918.10 L543.40 918.45 L544.00 918.55 L544.60 917.80 L545.20 917.13 L545.80 918.29 L546.40 919.10 L547.00 918.46 L547.60 917.81 L548.20 917.24 L548.80 918.08 L549.40 918.44 L550.00 919.43 L550.60 919.41 L551.20 919.17 L551.80 919.09 L552.40 919.74 L553.00 920.12 L553.60 918.68 L554.20 917.79 L554.80 917.32 L555.40 916.80 L556.00 918.37 L556.60 919.48 L557.20 919.08 L557.80 919.43 L558.40 919.41 L559.00 919.39 L559.60 918.80 L560.20 919.72 L560.80 918.80 L561.40 917.84 L562.00 917.21 L562.60 918.48 L563.20 919.17 L563.80 919.71 L564.40 919.89 L565.00 918.73 L565.60 918.40 L566.20 918.04 L566.80 919.13 L567.40 917.83 L568.00 917.79 L568.60 918.53 L569.20 918.91 L569.80 917.72 L570.40 917.32 L571.00 917.22 L571.60 917.28 L572.20 917.96 L572.80 917.27 L573.40 918.66 L574.00 918.62 L574.60 919.02 L575.20 918.60 L575.80 919.44 L576.40 918.27 L577.00 919.30 L577.60 918.51 L578.20 918.67 L578.80 918.86 L579.40 919.21 L580.00 919.12 L580.60 919.47 L581.20 918.19 L581.80 918.55 L582.40 918.68 L583.00 919.01 L583.60 918.07 L584.20 918.88 L584.80 917.95 L585.40 917.36 L586.00 917.05 L586.60 918.93 L587.20 918.16 L587.80 918.89 L588.40 917.92 L589.00 918.59 L589.60 916.31 L590.20 915.88 L590.80 917.02 L591.40 917.65 L592.00 917.81 L592.60 918.38 L593.20 917.20 L593.80 916.73 L594.40 916.92 L595.00 917.55 L595.60 918.61 L596.20 917.61 L596.80 917.47 L597.40 918.12 L598.00 918.06 L598.60 917.50 L599.20 917.65 L599.80 917.18 L600.40 916.90 L601.00 918.57 L601.60 918.34 L602.20 919.09 L602.80 918.48 L603.40 919.23 L604.00 919.96 L604.60 918.46 L605.20 918.92 L605.80 919.85 L606.40 920.06 L607.00 918.74 L607.60 919.36 L608.20 919.76 L608.80 918.67 L609.40 919.16 L610.00 919.36 L610.60 918.54 L611.20 919.45 L611.80 920.03 L612.40 918.63 L613.00 918.73 L613.60 919.05 L614.20 917.94 L614.80 918.46 L615.40 919.66 L616.00 919.00 L616.60 918.99 L617.20 919.96 L617.80 920.35 L618.40 920.74 L619.00 919.05 L619.60 920.13 L620.20 919.25 L620.80 918.83 L621.40 918.21 L622.00 919.24 L622.60 919.33 L623.20 919.09 L623.80 919.04 L624.40 919.05 L625.00 919.21 L625.60 918.35 L626.20 919.12 L626.80 918.55 L627.40 917.70 L628.00 919.29 L628.60 918.27 L629.20 919.26 L629.80 919.73 L630.40 919.25 L631.00 919.38 L631.60 918.64 L632.20 918.18 L632.80 919.39 L633.40 919.76 L634.00 920.01 L634.60 919.46 L635.20 918.23 L635.80 919.18 L636.40 920.11 L637.00 919.21 L637.60 919.39 L638.20 918.48 L638.80 919.88 L639.40 920.15 L640.00 916.44 L640.60 914.90 L641.20 916.21 L641.80 916.71 L642.40 917.55 L643.00 919.00 L643.60 919.43 L644.20 919.24 L644.80 920.05 L645.40 919.71 L646.00 919.77 L646.60 919.24 L647.20 919.31 L647.80 919.30 L648.40 918.89 L649.00 918.77 L649.60 918.22 L650.20 919.01 L650.80 919.71 L651.40 919.48 L652.00 918.69 L652.60 918.97 L653.20 918.73 L653.80 918.33 L654.40 916.76 L655.00 917.24 L655.60 916.47 L656.20 913.69 L656.40 912.67 L656.55 797.30 L656.75 913.17 L656.80 909.34 L657.40 908.37 L658.00 909.43 L658.60 907.05 L659.20 907.24 L659.40 906.77 L659.55 813.50 L659.75 907.27 L659.80 904.95 L660.40 904.58 L661.00 906.67 L661.60 907.01 L662.20 908.34 L662.80 909.65 L663.40 909.51 L664.00 909.23 L664.60 910.88 L665.20 913.23 L665.80 915.01 L666.40 915.07 L667.00 915.47 L667.60 916.09 L668.20 913.44 L668.50 910.26 L668.65 807.60 L668.85 910.76 L668.80 908.48 L669.40 908.65 L670.00 911.78 L670.60 914.49 L671.20 916.09 L671.80 914.88 L672.40 915.00 L673.00 915.55 L673.60 913.95 L674.20 912.97 L674.80 913.86 L675.40 913.01 L676.00 914.93 L676.60 915.15 L677.20 915.29 L677.80 915.99 L678.40 917.57 L679.00 918.01 L679.60 917.27 L680.20 918.39 L680.80 917.71 L681.40 918.33 L682.00 917.89 L682.60 918.37 L683.20 917.89 L683.80 917.13 L684.40 918.05 L685.00 918.46 L685.60 917.89 L686.20 917.55 L686.80 917.58 L687.40 917.78 L688.00 917.04 L688.60 918.11 L689.20 917.61 L689.80 918.64 L690.40 918.39 L691.00 919.13 L691.60 919.63 L692.20 918.58 L692.80 917.57 L693.40 918.30 L694.00 918.78 L694.60 918.62 L695.20 918.64 L695.80 918.51 L696.40 918.11 L697.00 918.76 L697.60 919.32 L698.20 919.51 L698.80 920.57 L699.40 920.32 L700.00 920.95 L700.60 921.19 L701.20 920.76 L701.80 920.42 L702.40 919.71 L703.00 920.30 L703.60 921.01 L704.20 921.61 L704.80 921.56 L705.40 921.88 L706.00 921.20 L706.60 920.52 L707.20 921.30 L707.80 921.03 L708.40 919.55 L709.00 920.44 L709.60 920.35 L710.20 920.86 L710.80 920.14 L711.40 920.22 L712.00 920.18 L712.60 920.18 L713.20 920.75 L713.80 919.98 L714.40 920.16 L715.00 920.83 L715.60 919.31 L716.20 920.15 L716.80 920.24 L717.40 919.72 L718.00 918.53 L718.60 918.87 L719.20 918.32 L719.80 918.07 L720.40 918.60 L721.00 919.14 L721.60 920.10 L722.20 919.95 L722.80 920.16 L723.40 919.77 L724.00 918.40 L724.60 918.30 L725.20 917.76 L725.80 918.53 L726.40 918.27 L727.00 918.79 L727.60 918.46 L728.20 917.62 L728.80 917.55 L729.40 919.05 L730.00 918.80 L730.60 919.11 L731.20 919.00 L731.80 918.75 L732.40 919.09 L733.00 919.75 L733.60 919.50 L734.20 919.69 L734.80 918.82 L735.40 918.16 L736.00 917.20 L736.60 917.82 L737.20 917.10 L737.80 917.15 L738.40 917.58 L739.00 917.61 L739.60 917.25 L740.20 917.51 L740.80 918.73 L741.40 918.61 L742.00 918.74 L742.60 919.55 L743.20 919.19 L743.80 919.66 L744.40 919.34 L745.00 919.40 L745.60 918.98 L746.20 919.59 L746.80 918.93 L747.40 918.08 L748.00 918.30 L748.60 917.17" fill="none" stroke="#111" stroke-width="1.05" stroke-linejoin="bevel" />
<path d="M43.00 921.92 L43.60 921.55 L44.20 920.77 L44.80 921.89 L45.40 920.55 L46.00 920.85 L46.60 921.82 L47.20 920.51 L47.80 920.76 L48.40 920.99 L49.00 919.78 L49.60 919.81 L50.20 920.51 L50.80 920.37 L51.40 920.87 L52.00 919.89 L52.60 919.51 L53.20 919.01 L53.80 919.59 L54.40 920.82 L55.00 920.75 L55.60 921.10 L56.20 920.42 L56.80 920.83 L57.40 919.62 L58.00 919.36 L58.60 920.05 L59.20 920.52 L59.80 920.10 L60.40 919.13 L61.00 918.98 L61.60 918.76 L62.20 918.78 L62.80 919.95 L63.40 919.24 L64.00 920.34 L64.60 920.93 L65.20 919.42 L65.80 919.30 L66.40 919.47 L67.00 918.52 L67.60 918.87 L68.20 920.11 L68.80 919.04 L69.40 919.50 L70.00 918.70 L70.60 919.75 L71.20 921.23 L71.80 920.73 L72.40 920.24 L73.00 920.35 L73.60 921.62 L74.20 921.38 L74.80 921.61 L75.40 922.54 L76.00 923.90 L76.60 923.54 L77.20 923.30 L77.80 923.69 L78.40 922.71 L79.00 923.24 L79.60 922.00 L80.20 921.98 L80.80 908.94 L81.40 907.27 L82.00 907.33 L82.60 907.34 L83.20 905.46 L83.80 902.73 L84.40 898.86 L85.00 880.23 L85.60 874.67 L86.20 872.12 L86.80 872.00 L87.40 869.95 L88.00 869.26 L88.60 867.24 L89.20 867.04 L89.80 868.64 L90.40 869.73 L91.00 871.94 L91.60 872.55 L92.20 874.25 L92.80 877.04 L93.40 878.73 L94.00 880.13 L94.60 881.44 L95.20 884.15 L95.80 885.45 L96.40 885.65 L97.00 888.19 L97.60 889.26 L98.20 890.79 L98.80 891.86 L99.40 893.67 L100.00 895.11 L100.60 895.66 L101.20 897.66 L101.80 898.12 L102.40 900.38 L103.00 900.47 L103.60 902.45 L104.20 904.00 L104.80 904.58 L105.40 905.77 L106.00 905.81 L106.60 907.26 L107.20 907.75 L107.80 907.96 L108.40 910.08 L109.00 910.38 L109.60 910.86 L110.20 912.41 L110.80 912.15 L111.40 912.82 L112.00 912.26 L112.60 913.58 L113.20 913.18 L113.80 912.65 L114.40 914.44 L115.00 913.70 L115.60 915.07 L116.20 915.99 L116.80 915.73 L117.40 914.36 L118.00 913.79 L118.60 913.88 L119.20 914.40 L119.80 915.25 L120.40 916.60 L121.00 916.10 L121.60 915.44 L122.20 916.10 L122.80 915.62 L123.40 915.33 L124.00 916.30 L124.60 917.23 L125.20 916.34 L125.80 916.51 L126.40 917.10 L127.00 917.50 L127.60 916.82 L128.20 917.50 L128.80 916.23 L129.40 916.68 L130.00 916.99 L130.60 917.57 L131.20 917.08 L131.80 915.99 L132.40 915.33 L133.00 916.06 L133.60 915.73 L134.20 916.59 L134.80 915.91 L135.40 917.11 L136.00 916.59 L136.60 915.89 L137.20 915.90 L137.80 916.58 L138.40 917.22 L139.00 917.24 L139.60 916.82 L140.20 917.31 L140.80 918.65 L141.40 918.53 L142.00 919.40 L142.60 917.91 L143.20 919.26 L143.80 919.82 L144.40 919.41 L145.00 919.19 L145.60 919.14 L146.20 919.97 L146.80 918.62 L147.40 919.19 L148.00 919.33 L148.60 918.92 L149.20 919.67 L149.80 920.12 L150.40 918.99 L151.00 919.66 L151.60 919.48 L152.20 919.47 L152.80 919.78 L153.40 918.67 L154.00 919.27 L154.60 919.10 L155.20 920.11 L155.80 919.24 L156.40 920.07 L157.00 920.32 L157.60 920.23 L158.20 920.73 L158.80 919.15 L159.40 919.52 L160.00 919.76 L160.60 920.04 L161.20 919.59 L161.80 918.60 L162.40 918.32 L163.00 919.09 L163.60 918.57 L164.20 918.03 L164.80 918.37 L165.40 918.82 L166.00 919.20 L166.60 918.29 L167.20 919.44 L167.80 919.10 L168.40 919.90 L169.00 918.64 L169.60 920.03 L170.20 919.99 L170.80 920.82 L171.40 921.29 L172.00 921.22 L172.60 919.58 L173.20 919.21 L173.80 918.75 L174.40 919.70 L175.00 918.93 L175.60 918.58 L176.20 918.13 L176.80 917.91 L177.40 919.59 L178.00 920.60 L178.60 919.82 L179.20 920.21 L179.80 919.82 L180.40 919.72 L181.00 919.34 L181.60 919.71 L182.20 919.03 L182.80 918.71 L183.40 919.10 L184.00 918.62 L184.60 918.88 L185.20 920.14 L185.80 918.80 L186.40 918.24 L187.00 919.47 L187.60 918.51 L188.20 918.41 L188.80 919.67 L189.40 919.83 L190.00 919.07 L190.60 918.29 L191.20 918.34 L191.80 918.42 L192.40 919.57 L193.00 920.58 L193.60 920.73 L194.20 921.06 L194.80 921.30 L195.40 921.32 L196.00 921.43 L196.60 921.59 L197.20 919.76 L197.80 919.24 L198.40 918.80 L199.00 919.34 L199.60 919.40 L200.20 919.11 L200.80 920.03 L201.40 919.57 L202.00 918.90 L202.60 918.68 L203.20 918.96 L203.80 919.45 L204.40 919.62 L205.00 919.43 L205.60 918.77 L206.20 918.89 L206.80 918.78 L207.40 918.38 L208.00 918.98 L208.60 918.53 L209.20 919.43 L209.80 919.81 L210.40 918.87 L211.00 919.43 L211.60 919.11 L212.20 919.17 L212.80 919.55 L213.40 920.10 L214.00 920.68 L214.60 920.66 L215.20 919.50 L215.80 919.59 L216.40 919.19 L217.00 918.27 L217.60 918.94 L218.20 919.13 L218.80 920.10 L219.40 919.44 L220.00 920.20 L220.60 919.92 L221.20 918.85 L221.80 919.62 L222.40 919.09 L223.00 919.35 L223.60 918.47 L224.20 917.86 L224.80 919.52 L225.40 918.51 L226.00 918.18 L226.60 918.03 L227.20 917.80 L227.80 919.28 L228.40 920.47 L229.00 920.36 L229.60 919.74 L230.20 920.49 L230.80 920.06 L231.40 919.00 L232.00 919.65 L232.60 917.47 L233.20 916.06 L233.80 916.46 L234.40 916.96 L235.00 916.90 L235.60 917.90 L236.20 919.09 L236.80 919.15 L237.40 918.00 L238.00 918.90 L238.60 917.96 L239.20 918.48 L239.80 919.64 L240.40 919.88 L241.00 920.54 L241.60 920.58 L242.20 919.55 L242.80 918.70 L243.40 918.92 L244.00 919.55 L244.60 918.92 L245.20 918.79 L245.80 919.64 L246.40 919.23 L247.00 919.57 L247.60 919.63 L248.20 920.51 L248.80 919.01 L249.40 918.53 L250.00 919.58 L250.60 919.91 L251.20 918.84 L251.80 918.33 L252.40 918.22 L253.00 918.89 L253.60 920.05 L254.20 919.18 L254.80 918.67 L255.40 919.45 L256.00 919.30 L256.60 920.15 L257.20 920.96 L257.80 921.26 L258.40 920.94 L259.00 920.28 L259.60 918.97 L260.20 919.88 L260.80 919.49 L261.40 919.41 L262.00 919.74 L262.60 920.65 L263.20 920.26 L263.80 920.84 L264.40 921.26 L265.00 919.55 L265.60 919.21 L266.20 920.19 L266.80 920.47 L267.40 921.07 L268.00 919.67 L268.60 919.66 L269.20 920.54 L269.80 920.16 L270.40 920.24 L271.00 920.95 L271.60 919.58 L272.20 918.57 L272.80 919.77 L273.40 919.82 L274.00 919.02 L274.60 919.97 L275.20 919.28 L275.80 918.56 L276.40 917.34 L277.00 914.95 L277.60 915.98 L278.20 917.52 L278.80 917.77 L279.40 919.13 L280.00 917.93 L280.60 917.62 L281.20 917.44 L281.80 918.33 L282.40 918.03 L283.00 918.93 L283.60 919.13 L284.20 919.38 L284.80 920.12 L285.40 920.42 L286.00 920.89 L286.60 919.46 L287.20 919.18 L287.80 920.31 L288.40 919.70 L289.00 919.12 L289.60 916.84 L290.20 914.90 L290.80 916.72 L291.40 917.44 L292.00 916.79 L292.60 918.48 L293.20 918.53 L293.80 918.05 L294.40 918.64 L295.00 919.77 L295.60 919.11 L296.20 918.05 L296.80 917.90 L297.40 917.54 L298.00 918.39 L298.60 918.40 L299.20 919.61 L299.80 918.86 L300.40 918.04 L301.00 918.57 L301.60 918.12 L302.20 918.28 L302.80 918.19 L303.40 918.03 L304.00 918.95 L304.60 920.12 L305.20 919.51 L305.80 919.77 L306.40 919.21 L307.00 920.20 L307.60 919.95 L308.20 918.66 L308.80 919.51 L309.40 918.81 L310.00 918.06 L310.60 917.58 L311.20 919.12 L311.80 919.68 L312.40 919.21 L313.00 919.39 L313.60 919.80 L314.20 918.65 L314.80 919.39 L315.40 919.80 L316.00 920.54 L316.60 919.00 L317.20 919.28 L317.80 919.29 L318.40 920.03 L319.00 919.38 L319.60 919.67 L320.20 920.34 L320.80 919.51 L321.40 919.41 L322.00 920.18 L322.60 918.71 L323.20 919.97 L323.80 919.20 L324.40 919.10 L325.00 918.66 L325.60 919.54 L326.20 919.43 L326.80 919.85 L327.40 918.65 L328.00 919.70 L328.60 920.15 L329.20 920.08 L329.80 919.03 L330.40 918.53 L331.00 918.67 L331.60 916.10 L332.20 916.62 L332.80 916.76 L333.40 918.17 L334.00 917.36 L334.60 918.03 L335.20 918.80 L335.80 918.94 L336.40 918.58 L337.00 917.53 L337.60 917.90 L338.20 918.02 L338.80 919.33 L339.40 920.13 L340.00 920.54 L340.60 920.83 L341.20 919.21 L341.80 918.02 L342.40 917.94 L343.00 917.28 L343.60 917.16 L344.20 918.10 L344.80 917.79 L345.40 918.52 L346.00 918.42 L346.60 918.12 L347.20 919.49 L347.80 918.51 L348.40 919.51 L349.00 919.27 L349.60 919.43 L350.20 918.38 L350.80 919.12 L351.40 919.84 L352.00 918.71 L352.60 918.69 L353.20 919.08 L353.80 918.89 L354.40 919.39 L355.00 919.43 L355.60 918.72 L356.20 919.14 L356.80 919.56 L357.40 919.11 L358.00 919.14 L358.60 919.25 L359.20 918.96 L359.80 917.94 L360.40 918.08 L361.00 918.97 L361.60 919.33 L362.20 918.10 L362.80 918.31 L363.40 918.66 L364.00 918.73 L364.60 917.92 L365.20 918.57 L365.80 919.03 L366.40 918.93 L367.00 919.75 L367.60 919.41 L368.20 917.97 L368.80 917.78 L369.40 918.59 L370.00 917.66 L370.60 919.09 L371.20 919.29 L371.80 919.54 L372.40 918.37 L373.00 917.36 L373.60 918.71 L374.20 918.65 L374.80 918.46 L375.40 918.52 L376.00 919.10 L376.60 918.55 L377.20 919.12 L377.80 918.09 L378.40 919.31 L379.00 919.36 L379.60 918.55 L380.20 918.45 L380.80 919.28 L381.40 918.52 L382.00 918.91 L382.60 919.59 L383.20 920.07 L383.80 918.78 L384.40 919.25 L385.00 919.10 L385.60 919.45 L386.20 918.02 L386.80 917.98 L387.40 918.04 L388.00 918.87 L388.60 918.52 L389.20 917.43 L389.80 917.19 L390.40 918.42 L391.00 919.21 L391.60 918.96 L392.20 917.73 L392.80 918.58 L393.40 919.25 L394.00 918.34 L394.60 918.26 L395.20 917.79 L395.80 917.01 L396.40 918.08 L397.00 917.39 L397.60 916.86 L398.20 918.37 L398.80 917.40 L399.40 918.33 L400.00 918.96 L400.60 918.06 L401.20 917.83 L401.80 917.37 L402.40 918.18 L403.00 919.21 L403.60 919.26 L404.20 918.74 L404.80 918.54 L405.40 918.15 L406.00 918.60 L406.60 917.87 L407.20 917.41 L407.80 918.14 L408.40 917.57 L409.00 918.87 L409.60 919.01 L410.20 917.88 L410.80 916.90 L411.40 917.63 L412.00 917.00 L412.60 917.46 L413.20 917.93 L413.80 918.64 L414.40 915.71 L415.00 912.16 L415.60 913.87 L416.20 913.60 L416.80 914.14 L417.40 915.67 L418.00 915.68 L418.60 917.08 L419.20 916.09 L419.80 915.64 L420.40 916.08 L421.00 916.60 L421.60 916.72 L422.20 916.50 L422.80 916.91 L423.40 918.15 L424.00 918.95 L424.60 918.72 L425.20 917.79 L425.80 918.01 L426.40 917.21 L427.00 916.57 L427.60 917.83 L428.20 917.37 L428.80 916.89 L429.40 918.08 L430.00 917.20 L430.60 916.97 L431.20 916.66 L431.80 918.12 L432.40 918.46 L433.00 917.55 L433.60 916.80 L434.20 918.23 L434.80 917.31 L435.40 918.09 L436.00 918.47 L436.60 918.45 L437.20 918.20 L437.80 917.92 L438.40 917.48 L439.00 918.03 L439.60 917.25 L440.20 917.54 L440.80 917.22 L441.40 917.28 L442.00 918.46 L442.60 918.40 L443.20 918.54 L443.80 918.62 L444.40 917.24 L445.00 918.21 L445.60 918.94 L446.20 919.06 L446.80 918.63 L447.40 919.11 L448.00 919.59 L448.60 918.38 L449.20 917.47 L449.80 917.35 L450.40 916.58 L451.00 916.64 L451.60 916.33 L452.20 916.00 L452.80 916.68 L453.40 916.19 L454.00 916.96 L454.60 918.20 L455.20 918.58 L455.80 917.33 L456.40 918.13 L457.00 917.39 L457.60 918.34 L458.20 918.50 L458.80 918.37 L459.40 918.06 L460.00 919.09 L460.60 917.96 L461.20 918.86 L461.80 917.82 L462.40 917.01 L463.00 916.83 L463.60 916.34 L464.20 917.81 L464.80 917.20 L465.40 917.72 L466.00 917.35 L466.60 917.33 L467.20 918.26 L467.80 918.25 L468.40 917.63 L469.00 918.33 L469.60 917.40 L470.20 916.66 L470.80 917.69 L471.40 918.61 L472.00 918.92 L472.60 918.94 L473.20 919.46 L473.80 919.74 L474.40 919.11 L475.00 917.90 L475.60 918.12 L476.20 917.90 L476.80 918.41 L477.40 917.89 L478.00 917.00 L478.60 916.78 L479.20 916.54 L479.80 917.71 L480.40 918.25 L481.00 918.21 L481.60 917.72 L482.20 918.35 L482.80 918.08 L483.40 918.03 L484.00 917.35 L484.60 918.74 L485.20 918.28 L485.80 918.09 L486.40 917.41 L487.00 917.56 L487.60 917.69 L488.20 917.67 L488.80 918.35 L489.40 916.63 L490.00 915.18 L490.60 916.02 L491.20 915.45 L491.80 916.77 L492.40 915.93 L493.00 915.97 L493.60 917.31 L494.20 916.54 L494.80 916.51 L495.40 916.82 L496.00 918.20 L496.60 919.03 L497.20 917.86 L497.80 918.16 L498.40 918.75 L499.00 918.40 L499.60 917.77 L500.20 917.08 L500.80 916.53 L501.40 916.18 L502.00 916.00 L502.60 917.39 L503.20 917.87 L503.80 916.99 L504.40 918.42 L505.00 919.32 L505.60 918.56 L506.20 918.03 L506.80 918.87 L507.40 918.88 L508.00 919.06 L508.60 917.92 L509.20 918.50 L509.80 918.20 L510.40 917.18 L511.00 916.61 L511.60 916.77 L512.20 916.80 L512.80 916.89 L513.40 918.36 L514.00 918.04 L514.60 917.45 L515.20 916.90 L515.80 916.49 L516.40 917.04 L517.00 917.38 L517.60 916.81 L518.20 917.47 L518.80 917.45 L519.40 916.73 L520.00 917.34 L520.60 916.98 L521.20 916.83 L521.80 918.01 L522.40 917.96 L523.00 917.77 L523.60 918.10 L524.20 918.68 L524.80 918.77 L525.40 919.53 L526.00 919.44 L526.60 918.56 L527.20 919.43 L527.80 917.85 L528.40 917.36 L529.00 916.95 L529.60 917.30 L530.20 917.43 L530.80 917.59 L531.40 918.21 L532.00 917.93 L532.60 918.07 L533.20 918.58 L533.80 919.41 L534.40 919.94 L535.00 918.94 L535.60 918.43 L536.20 919.48 L536.80 919.73 L537.40 919.95 L538.00 918.40 L538.60 917.93 L539.20 917.98 L539.80 917.75 L540.40 917.97 L541.00 919.15 L541.60 918.57 L542.20 918.52 L542.80 918.10 L543.40 918.45 L544.00 918.55 L544.60 917.80 L545.20 917.13 L545.80 918.29 L546.40 919.10 L547.00 918.46 L547.60 917.81 L548.20 917.24 L548.80 918.08 L549.40 918.44 L550.00 919.43 L550.60 919.41 L551.20 919.17 L551.80 919.09 L552.40 919.74 L553.00 920.12 L553.60 918.68 L554.20 917.79 L554.80 917.32 L555.40 916.80 L556.00 918.37 L556.60 919.48 L557.20 919.08 L557.80 919.43 L558.40 919.41 L559.00 919.39 L559.60 918.80 L560.20 919.72 L560.80 918.80 L561.40 917.84 L562.00 917.21 L562.60 918.48 L563.20 919.17 L563.80 919.71 L564.40 919.89 L565.00 918.73 L565.60 918.40 L566.20 918.04 L566.80 919.13 L567.40 917.83 L568.00 917.79 L568.60 918.53 L569.20 918.91 L569.80 917.72 L570.40 917.32 L571.00 917.22 L571.60 917.28 L572.20 917.96 L572.80 917.27 L573.40 918.66 L574.00 918.62 L574.60 919.02 L575.20 918.60 L575.80 919.44 L576.40 918.27 L577.00 919.30 L577.60 918.51 L578.20 918.67 L578.80 918.86 L579.40 919.21 L580.00 919.12 L580.60 919.47 L581.20 918.19 L581.80 918.55 L582.40 918.68 L583.00 919.01 L583.60 918.07 L584.20 918.88 L584.80 917.95 L585.40 917.36 L586.00 917.05 L586.60 918.93 L587.20 918.16 L587.80 918.89 L588.40 917.92 L589.00 918.59 L589.60 916.31 L590.20 915.88 L590.80 917.02 L591.40 917.65 L592.00 917.81 L592.60 918.38 L593.20 917.20 L593.80 916.73 L594.40 916.92 L595.00 917.55 L595.60 918.61 L596.20 917.61 L596.80 917.47 L597.40 918.12 L598.00 918.06 L598.60 917.50 L599.20 917.65 L599.80 917.18 L600.40 916.90 L601.00 918.57 L601.60 918.34 L602.20 919.09 L602.80 918.48 L603.40 919.23 L604.00 919.96 L604.60 918.46 L605.20 918.92 L605.80 919.85 L606.40 920.06 L607.00 918.74 L607.60 919.36 L608.20 919.76 L608.80 918.67 L609.40 919.16 L610.00 919.36 L610.60 918.54 L611.20 919.45 L611.80 920.03 L612.40 918.63 L613.00 918.73 L613.60 919.05 L614.20 917.94 L614.80 918.46 L615.40 919.66 L616.00 919.00 L616.60 918.99 L617.20 919.96 L617.80 920.35 L618.40 920.74 L619.00 919.05 L619.60 920.13 L620.20 919.25 L620.80 918.83 L621.40 918.21 L622.00 919.24 L622.60 919.33 L623.20 919.09 L623.80 919.04 L624.40 919.05 L625.00 919.21 L625.60 918.35 L626.20 919.12 L626.80 918.55 L627.40 917.70 L628.00 919.29 L628.60 918.27 L629.20 919.26 L629.80 919.73 L630.40 919.25 L631.00 919.38 L631.60 918.64 L632.20 918.18 L632.80 919.39 L633.40 919.76 L634.00 920.01 L634.60 919.46 L635.20 918.23 L635.80 919.18 L636.40 920.11 L637.00 919.21 L637.60 919.39 L638.20 918.48 L638.80 919.88 L639.40 920.15 L640.00 916.44 L640.60 914.90 L641.20 916.21 L641.80 916.71 L642.40 917.55 L643.00 919.00 L643.60 919.43 L644.20 919.24 L644.80 920.05 L645.40 919.71 L646.00 919.77 L646.60 919.24 L647.20 919.31 L647.80 919.30 L648.40 918.89 L649.00 918.77 L649.60 918.22 L650.20 919.01 L650.80 919.71 L651.40 919.48 L652.00 918.69 L652.60 918.97 L653.20 918.73 L653.80 918.33 L654.40 916.76 L655.00 917.24 L655.60 916.47 L656.20 913.69 L656.80 909.34 L657.40 908.37 L658.00 909.43 L658.60 907.05 L659.20 907.24 L659.80 904.95 L660.40 904.58 L661.00 906.67 L661.60 907.01 L662.20 908.34 L662.80 909.65 L663.40 909.51 L664.00 909.23 L664.60 910.88 L665.20 913.23 L665.80 915.01 L666.40 915.07 L667.00 915.47 L667.60 916.09 L668.20 913.44 L668.80 908.48 L669.40 908.65 L670.00 911.78 L670.60 914.49 L671.20 916.09 L671.80 914.88 L672.40 915.00 L673.00 915.55 L673.60 913.95 L674.20 912.97 L674.80 913.86 L675.40 913.01 L676.00 914.93 L676.60 915.15 L677.20 915.29 L677.80 915.99 L678.40 917.57 L679.00 918.01 L679.60 917.27 L680.20 918.39 L680.80 917.71 L681.40 918.33 L682.00 917.89 L682.60 918.37 L683.20 917.89 L683.80 917.13 L684.40 918.05 L685.00 918.46 L685.60 917.89 L686.20 917.55 L686.80 917.58 L687.40 917.78 L688.00 917.04 L688.60 918.11 L689.20 917.61 L689.80 918.64 L690.40 918.39 L691.00 919.13 L691.60 919.63 L692.20 918.58 L692.80 917.57 L693.40 918.30 L694.00 918.78 L694.60 918.62 L695.20 918.64 L695.80 918.51 L696.40 918.11 L697.00 918.76 L697.60 919.32 L698.20 919.51 L698.80 920.57 L699.40 920.32 L700.00 920.95 L700.60 921.19 L701.20 920.76 L701.80 920.42 L702.40 919.71 L703.00 920.30 L703.60 921.01 L704.20 921.61 L704.80 921.56 L705.40 921.88 L706.00 921.20 L706.60 920.52 L707.20 921.30 L707.80 921.03 L708.40 919.55 L709.00 920.44 L709.60 920.35 L710.20 920.86 L710.80 920.14 L711.40 920.22 L712.00 920.18 L712.60 920.18 L713.20 920.75 L713.80 919.98 L714.40 920.16 L715.00 920.83 L715.60 919.31 L716.20 920.15 L716.80 920.24 L717.40 919.72 L718.00 918.53 L718.60 918.87 L719.20 918.32 L719.80 918.07 L720.40 918.60 L721.00 919.14 L721.60 920.10 L722.20 919.95 L722.80 920.16 L723.40 919.77 L724.00 918.40 L724.60 918.30 L725.20 917.76 L725.80 918.53 L726.40 918.27 L727.00 918.79 L727.60 918.46 L728.20 917.62 L728.80 917.55 L729.40 919.05 L730.00 918.80 L730.60 919.11 L731.20 919.00 L731.80 918.75 L732.40 919.09 L733.00 919.75 L733.60 919.50 L734.20 919.69 L734.80 918.82 L735.40 918.16 L736.00 917.20 L736.60 917.82 L737.20 917.10 L737.80 917.15 L738.40 917.58 L739.00 917.61 L739.60 917.25 L740.20 917.51 L740.80 918.73 L741.40 918.61 L742.00 918.74 L742.60 919.55 L743.20 919.19 L743.80 919.66 L744.40 919.34 L745.00 919.40 L745.60 918.98 L746.20 919.59 L746.80 918.93 L747.40 918.08 L748.00 918.30 L748.60 917.17" fill="none" stroke="#000" stroke-width="1.35" stroke-linejoin="bevel" />
<line x1="50.05" y1="403" x2="50.05" y2="555.5" stroke="#555" stroke-width="1.1" />
<line x1="44.05" y1="555.5" x2="175.7" y2="555.5" stroke="#222" stroke-width="1.0" />
<line x1="44.05" y1="403" x2="50.05" y2="403" stroke="#555" stroke-width="1.1" />
<text x="39.75" y="408.2" font-size="17" text-anchor="end" font-family='"Liberation Sans", sans-serif' fill="#000" >6</text>
<line x1="44.05" y1="453.7" x2="50.05" y2="453.7" stroke="#555" stroke-width="1.1" />
<text x="39.75" y="458.9" font-size="17" text-anchor="end" font-family='"Liberation Sans", sans-serif' fill="#000" >4</text>
<line x1="44.05" y1="504.7" x2="50.05" y2="504.7" stroke="#555" stroke-width="1.1" />
<text x="39.75" y="509.9" font-size="17" text-anchor="end" font-family='"Liberation Sans", sans-serif' fill="#000" >2</text>
<line x1="44.05" y1="555.5" x2="50.05" y2="555.5" stroke="#555" stroke-width="1.1" />
<text x="39.75" y="560.7" font-size="17" text-anchor="end" font-family='"Liberation Sans", sans-serif' fill="#000" >0</text>
<line x1="71.2" y1="555.5" x2="71.2" y2="561.7" stroke="#222" stroke-width="1.1" />
<line x1="154.6" y1="555.5" x2="154.6" y2="561.7" stroke="#222" stroke-width="1.1" />
<text x="69.5" y="579.5" font-size="19.8" text-anchor="middle" font-family='"Liberation Sans", sans-serif' fill="#000" >Control</text>
<text x="152.1" y="579.5" font-size="19.8" text-anchor="middle" font-family='"Liberation Sans", sans-serif' fill="#000" >ZD7288</text>
<text x="20.5" y="479.25" font-size="19.8" text-anchor="middle" font-family='"Liberation Sans", sans-serif' fill="#000" transform="rotate(-90 20.5 479.25)" >Frequency (Hz)</text>
<line x1="71.2" y1="422.3" x2="154.6" y2="422.8" stroke="#000" stroke-width="1.2" />
<line x1="71.2" y1="451.2" x2="154.6" y2="426.6" stroke="#000" stroke-width="1.2" />
<line x1="71.2" y1="464.8" x2="154.6" y2="487.4" stroke="#000" stroke-width="1.2" />
<line x1="71.2" y1="483" x2="154.6" y2="527.9" stroke="#000" stroke-width="1.2" />
<line x1="71.2" y1="490.7" x2="154.6" y2="528.4" stroke="#000" stroke-width="1.2" />
<line x1="71.2" y1="497" x2="154.6" y2="537.7" stroke="#000" stroke-width="1.2" />
<line x1="71.2" y1="506.5" x2="154.6" y2="502.7" stroke="#000" stroke-width="1.2" />
<circle cx="71.2" cy="422.3" r="3.05" fill="#000"/>
<circle cx="154.6" cy="422.8" r="3.05" fill="#000"/>
<circle cx="71.2" cy="451.2" r="3.05" fill="#000"/>
<circle cx="154.6" cy="426.6" r="3.05" fill="#000"/>
<circle cx="71.2" cy="464.8" r="3.05" fill="#000"/>
<circle cx="154.6" cy="487.4" r="3.05" fill="#000"/>
<circle cx="71.2" cy="483" r="3.05" fill="#000"/>
<circle cx="154.6" cy="527.9" r="3.05" fill="#000"/>
<circle cx="71.2" cy="490.7" r="3.05" fill="#000"/>
<circle cx="154.6" cy="528.4" r="3.05" fill="#000"/>
<circle cx="71.2" cy="497" r="3.05" fill="#000"/>
<circle cx="154.6" cy="537.7" r="3.05" fill="#000"/>
<circle cx="71.2" cy="506.5" r="3.05" fill="#000"/>
<circle cx="154.6" cy="502.7" r="3.05" fill="#000"/>
<text x="110" y="551" font-size="18.5" text-anchor="middle" font-family='"Liberation Serif", serif' fill="#222" >7</text>
<line x1="245.7" y1="403" x2="245.7" y2="555.5" stroke="#555" stroke-width="1.1" />
<line x1="239.7" y1="555.5" x2="371.7" y2="555.5" stroke="#222" stroke-width="1.0" />
<line x1="239.7" y1="403" x2="245.7" y2="403" stroke="#555" stroke-width="1.1" />
<text x="235.39999999999998" y="408.2" font-size="17" text-anchor="end" font-family='"Liberation Sans", sans-serif' fill="#000" >8</text>
<line x1="239.7" y1="441.2" x2="245.7" y2="441.2" stroke="#555" stroke-width="1.1" />
<text x="235.39999999999998" y="446.4" font-size="17" text-anchor="end" font-family='"Liberation Sans", sans-serif' fill="#000" >6</text>
<line x1="239.7" y1="480" x2="245.7" y2="480" stroke="#555" stroke-width="1.1" />
<text x="235.39999999999998" y="485.2" font-size="17" text-anchor="end" font-family='"Liberation Sans", sans-serif' fill="#000" >4</text>
<line x1="239.7" y1="517" x2="245.7" y2="517" stroke="#555" stroke-width="1.1" />
<text x="235.39999999999998" y="522.2" font-size="17" text-anchor="end" font-family='"Liberation Sans", sans-serif' fill="#000" >2</text>
<line x1="239.7" y1="555.5" x2="245.7" y2="555.5" stroke="#555" stroke-width="1.1" />
<text x="235.39999999999998" y="560.7" font-size="17" text-anchor="end" font-family='"Liberation Sans", sans-serif' fill="#000" >0</text>
<line x1="267.2" y1="555.5" x2="267.2" y2="561.7" stroke="#222" stroke-width="1.1" />
<line x1="350.2" y1="555.5" x2="350.2" y2="561.7" stroke="#222" stroke-width="1.1" />
<text x="264.2" y="579.5" font-size="19.8" text-anchor="middle" font-family='"Liberation Sans", sans-serif' fill="#000" >Control</text>
<text x="346.8" y="579.5" font-size="19.8" text-anchor="middle" font-family='"Liberation Sans", sans-serif' fill="#000" >ZD7288</text>
<text x="214" y="479.25" font-size="19.8" text-anchor="middle" font-family='"Liberation Sans", sans-serif' fill="#000" transform="rotate(-90 214 479.25)" >BCP (s)</text>
<line x1="267.2" y1="454.2" x2="350.2" y2="455" stroke="#000" stroke-width="1.2" />
<line x1="267.2" y1="469.3" x2="350.2" y2="434.1" stroke="#000" stroke-width="1.2" />
<line x1="267.2" y1="490" x2="350.2" y2="450" stroke="#000" stroke-width="1.2" />
<line x1="267.2" y1="490" x2="350.2" y2="484.4" stroke="#000" stroke-width="1.2" />
<line x1="267.2" y1="498.7" x2="350.2" y2="486.2" stroke="#000" stroke-width="1.2" />
<line x1="267.2" y1="505.3" x2="350.2" y2="502.7" stroke="#000" stroke-width="1.2" />
<line x1="267.2" y1="513.8" x2="350.2" y2="467.8" stroke="#000" stroke-width="1.2" />
<circle cx="267.2" cy="454.2" r="3.05" fill="#000"/>
<circle cx="350.2" cy="455" r="3.05" fill="#000"/>
<circle cx="267.2" cy="469.3" r="3.05" fill="#000"/>
<circle cx="350.2" cy="434.1" r="3.05" fill="#000"/>
<circle cx="267.2" cy="490" r="3.05" fill="#000"/>
<circle cx="350.2" cy="450" r="3.05" fill="#000"/>
<circle cx="267.2" cy="490" r="3.05" fill="#000"/>
<circle cx="350.2" cy="484.4" r="3.05" fill="#000"/>
<circle cx="267.2" cy="498.7" r="3.05" fill="#000"/>
<circle cx="350.2" cy="486.2" r="3.05" fill="#000"/>
<circle cx="267.2" cy="505.3" r="3.05" fill="#000"/>
<circle cx="350.2" cy="502.7" r="3.05" fill="#000"/>
<circle cx="267.2" cy="513.8" r="3.05" fill="#000"/>
<circle cx="350.2" cy="467.8" r="3.05" fill="#000"/>
<text x="302" y="551" font-size="18.5" text-anchor="middle" font-family='"Liberation Serif", serif' fill="#222" >7</text>
<line x1="267.8" y1="403.2" x2="353.6" y2="403.2" stroke="#333" stroke-width="1.2" stroke-dasharray="1.8 1.3"/>
<text x="307.6" y="405.0" font-size="26" text-anchor="middle" font-family='"Liberation Serif", serif' fill="#000" >*</text>
<line x1="458.3" y1="403" x2="458.3" y2="555.5" stroke="#555" stroke-width="1.1" />
<line x1="452.3" y1="555.5" x2="583.7" y2="555.5" stroke="#222" stroke-width="1.0" />
<line x1="452.3" y1="403" x2="458.3" y2="403" stroke="#555" stroke-width="1.1" />
<text x="448.0" y="408.2" font-size="17" text-anchor="end" font-family='"Liberation Sans", sans-serif' fill="#000" >1,5</text>
<line x1="452.3" y1="453.5" x2="458.3" y2="453.5" stroke="#555" stroke-width="1.1" />
<text x="448.0" y="458.7" font-size="17" text-anchor="end" font-family='"Liberation Sans", sans-serif' fill="#000" >1,0</text>
<line x1="452.3" y1="504.5" x2="458.3" y2="504.5" stroke="#555" stroke-width="1.1" />
<text x="448.0" y="509.7" font-size="17" text-anchor="end" font-family='"Liberation Sans", sans-serif' fill="#000" >0,5</text>
<line x1="452.3" y1="555.5" x2="458.3" y2="555.5" stroke="#555" stroke-width="1.1" />
<text x="448.0" y="560.7" font-size="17" text-anchor="end" font-family='"Liberation Sans", sans-serif' fill="#000" >0,0</text>
<line x1="479.2" y1="555.5" x2="479.2" y2="561.7" stroke="#222" stroke-width="1.1" />
<line x1="562.6" y1="555.5" x2="562.6" y2="561.7" stroke="#222" stroke-width="1.1" />
<text x="475.7" y="579.5" font-size="19.8" text-anchor="middle" font-family='"Liberation Sans", sans-serif' fill="#000" >Control</text>
<text x="558.1" y="579.5" font-size="19.8" text-anchor="middle" font-family='"Liberation Sans", sans-serif' fill="#000" >ZD7288</text>
<text x="415.5" y="479.25" font-size="19.8" text-anchor="middle" font-family='"Liberation Sans", sans-serif' fill="#000" transform="rotate(-90 415.5 479.25)" >Burst lenght (s)</text>
<line x1="479.2" y1="446.7" x2="562.6" y2="432.9" stroke="#000" stroke-width="1.2" />
<line x1="479.2" y1="452.5" x2="562.6" y2="505.8" stroke="#000" stroke-width="1.2" />
<line x1="479.2" y1="493.7" x2="562.6" y2="489.4" stroke="#000" stroke-width="1.2" />
<line x1="479.2" y1="503.7" x2="562.6" y2="500.7" stroke="#000" stroke-width="1.2" />
<line x1="479.2" y1="517" x2="562.6" y2="465.5" stroke="#000" stroke-width="1.2" />
<line x1="479.2" y1="520.8" x2="562.6" y2="485" stroke="#000" stroke-width="1.2" />
<line x1="479.2" y1="525" x2="562.6" y2="541.7" stroke="#000" stroke-width="1.2" />
<circle cx="479.2" cy="446.7" r="3.05" fill="#000"/>
<circle cx="562.6" cy="432.9" r="3.05" fill="#000"/>
<circle cx="479.2" cy="452.5" r="3.05" fill="#000"/>
<circle cx="562.6" cy="505.8" r="3.05" fill="#000"/>
<circle cx="479.2" cy="493.7" r="3.05" fill="#000"/>
<circle cx="562.6" cy="489.4" r="3.05" fill="#000"/>
<circle cx="479.2" cy="503.7" r="3.05" fill="#000"/>
<circle cx="562.6" cy="500.7" r="3.05" fill="#000"/>
<circle cx="479.2" cy="517" r="3.05" fill="#000"/>
<circle cx="562.6" cy="465.5" r="3.05" fill="#000"/>
<circle cx="479.2" cy="520.8" r="3.05" fill="#000"/>
<circle cx="562.6" cy="485" r="3.05" fill="#000"/>
<circle cx="479.2" cy="525" r="3.05" fill="#000"/>
<circle cx="562.6" cy="541.7" r="3.05" fill="#000"/>
<text x="517" y="551" font-size="18.5" text-anchor="middle" font-family='"Liberation Serif", serif' fill="#222" >7</text>
<line x1="662.6" y1="403" x2="662.6" y2="555.5" stroke="#555" stroke-width="1.1" />
<line x1="656.6" y1="555.5" x2="788" y2="555.5" stroke="#222" stroke-width="1.0" />
<line x1="656.6" y1="403" x2="662.6" y2="403" stroke="#555" stroke-width="1.1" />
<text x="652.3000000000001" y="408.2" font-size="17" text-anchor="end" font-family='"Liberation Sans", sans-serif' fill="#000" >40</text>
<line x1="656.6" y1="441.2" x2="662.6" y2="441.2" stroke="#555" stroke-width="1.1" />
<text x="652.3000000000001" y="446.4" font-size="17" text-anchor="end" font-family='"Liberation Sans", sans-serif' fill="#000" >30</text>
<line x1="656.6" y1="479.4" x2="662.6" y2="479.4" stroke="#555" stroke-width="1.1" />
<text x="652.3000000000001" y="484.59999999999997" font-size="17" text-anchor="end" font-family='"Liberation Sans", sans-serif' fill="#000" >20</text>
<line x1="656.6" y1="517" x2="662.6" y2="517" stroke="#555" stroke-width="1.1" />
<text x="652.3000000000001" y="522.2" font-size="17" text-anchor="end" font-family='"Liberation Sans", sans-serif' fill="#000" >10</text>
<line x1="656.6" y1="555.5" x2="662.6" y2="555.5" stroke="#555" stroke-width="1.1" />
<text x="652.3000000000001" y="560.7" font-size="17" text-anchor="end" font-family='"Liberation Sans", sans-serif' fill="#000" >0</text>
<line x1="683.6" y1="555.5" x2="683.6" y2="561.7" stroke="#222" stroke-width="1.1" />
<line x1="767" y1="555.5" x2="767" y2="561.7" stroke="#222" stroke-width="1.1" />
<text x="678" y="579.5" font-size="19.8" text-anchor="middle" font-family='"Liberation Sans", sans-serif' fill="#000" >Control</text>
<text x="760.6" y="579.5" font-size="19.8" text-anchor="middle" font-family='"Liberation Sans", sans-serif' fill="#000" >ZD7288</text>
<text x="624" y="479.25" font-size="19.8" text-anchor="middle" font-family='"Liberation Sans", sans-serif' fill="#000" transform="rotate(-90 624 479.25)" >Intraburst spikes</text>
<line x1="683.6" y1="498.7" x2="767" y2="504" stroke="#000" stroke-width="1.2" />
<line x1="683.6" y1="513.8" x2="767" y2="437.9" stroke="#000" stroke-width="1.2" />
<line x1="683.6" y1="513.8" x2="767" y2="517" stroke="#000" stroke-width="1.2" />
<line x1="683.6" y1="513.8" x2="767" y2="532" stroke="#000" stroke-width="1.2" />
<line x1="683.6" y1="520.8" x2="767" y2="535.9" stroke="#000" stroke-width="1.2" />
<line x1="683.6" y1="525.3" x2="767" y2="540.9" stroke="#000" stroke-width="1.2" />
<line x1="683.6" y1="540.4" x2="767" y2="523.3" stroke="#000" stroke-width="1.2" />
<circle cx="683.6" cy="498.7" r="3.05" fill="#000"/>
<circle cx="767" cy="504" r="3.05" fill="#000"/>
<circle cx="683.6" cy="513.8" r="3.05" fill="#000"/>
<circle cx="767" cy="437.9" r="3.05" fill="#000"/>
<circle cx="683.6" cy="513.8" r="3.05" fill="#000"/>
<circle cx="767" cy="517" r="3.05" fill="#000"/>
<circle cx="683.6" cy="513.8" r="3.05" fill="#000"/>
<circle cx="767" cy="532" r="3.05" fill="#000"/>
<circle cx="683.6" cy="520.8" r="3.05" fill="#000"/>
<circle cx="767" cy="535.9" r="3.05" fill="#000"/>
<circle cx="683.6" cy="525.3" r="3.05" fill="#000"/>
<circle cx="767" cy="540.9" r="3.05" fill="#000"/>
<circle cx="683.6" cy="540.4" r="3.05" fill="#000"/>
<circle cx="767" cy="523.3" r="3.05" fill="#000"/>
<text x="727" y="551" font-size="18.5" text-anchor="middle" font-family='"Liberation Serif", serif' fill="#222" >7</text>
<line x1="50.05" y1="1011.5" x2="50.05" y2="1164" stroke="#555" stroke-width="1.1" />
<line x1="44.05" y1="1164" x2="174.6" y2="1164" stroke="#666" stroke-width="1.3" />
<line x1="44.05" y1="1011.5" x2="50.05" y2="1011.5" stroke="#555" stroke-width="1.1" />
<text x="39.75" y="1016.7" font-size="17" text-anchor="end" font-family='"Liberation Sans", sans-serif' fill="#000" >10</text>
<line x1="44.05" y1="1042.2" x2="50.05" y2="1042.2" stroke="#555" stroke-width="1.1" />
<text x="39.75" y="1047.4" font-size="17" text-anchor="end" font-family='"Liberation Sans", sans-serif' fill="#000" >8</text>
<line x1="44.05" y1="1072.6" x2="50.05" y2="1072.6" stroke="#555" stroke-width="1.1" />
<text x="39.75" y="1077.8" font-size="17" text-anchor="end" font-family='"Liberation Sans", sans-serif' fill="#000" >6</text>
<line x1="44.05" y1="1103.2" x2="50.05" y2="1103.2" stroke="#555" stroke-width="1.1" />
<text x="39.75" y="1108.4" font-size="17" text-anchor="end" font-family='"Liberation Sans", sans-serif' fill="#000" >4</text>
<line x1="44.05" y1="1133.4" x2="50.05" y2="1133.4" stroke="#555" stroke-width="1.1" />
<text x="39.75" y="1138.6000000000001" font-size="17" text-anchor="end" font-family='"Liberation Sans", sans-serif' fill="#000" >2</text>
<line x1="44.05" y1="1164" x2="50.05" y2="1164" stroke="#555" stroke-width="1.1" />
<text x="39.75" y="1169.2" font-size="17" text-anchor="end" font-family='"Liberation Sans", sans-serif' fill="#000" >0</text>
<line x1="71.2" y1="1164" x2="71.2" y2="1170.2" stroke="#222" stroke-width="1.1" />
<line x1="154.2" y1="1164" x2="154.2" y2="1170.2" stroke="#222" stroke-width="1.1" />
<text x="71.5" y="1185.3" font-size="19.8" text-anchor="middle" font-family='"Liberation Sans", sans-serif' fill="#000" >Control</text>
<text x="133" y="1185.3" font-size="19.8" text-anchor="start" font-family='"Liberation Sans", sans-serif' fill="#000" >NiCl<tspan font-size="14" dy="5">2</tspan></text>
<text x="16" y="1087.75" font-size="19.8" text-anchor="middle" font-family='"Liberation Sans", sans-serif' fill="#000" transform="rotate(-90 16 1087.75)" >Frequency (Hz)</text>
<line x1="71.2" y1="1024" x2="154.2" y2="1119.6" stroke="#000" stroke-width="1.2" />
<line x1="71.2" y1="1141.4" x2="154.2" y2="1158" stroke="#000" stroke-width="1.2" />
<line x1="71.2" y1="1153.5" x2="154.2" y2="1143.4" stroke="#000" stroke-width="1.2" />
<line x1="71.2" y1="1154" x2="154.2" y2="1151.5" stroke="#000" stroke-width="1.2" />
<line x1="71.2" y1="1156" x2="154.2" y2="1161" stroke="#000" stroke-width="1.2" />
<line x1="71.2" y1="1155" x2="154.2" y2="1162.3" stroke="#000" stroke-width="1.2" />
<circle cx="71.2" cy="1024" r="3.05" fill="#000"/>
<circle cx="154.2" cy="1119.6" r="3.05" fill="#000"/>
<circle cx="71.2" cy="1141.4" r="3.05" fill="#000"/>
<circle cx="154.2" cy="1158" r="3.05" fill="#000"/>
<circle cx="71.2" cy="1153.5" r="3.05" fill="#000"/>
<circle cx="154.2" cy="1143.4" r="3.05" fill="#000"/>
<circle cx="71.2" cy="1154" r="3.05" fill="#000"/>
<circle cx="154.2" cy="1151.5" r="3.05" fill="#000"/>
<circle cx="71.2" cy="1156" r="3.05" fill="#000"/>
<circle cx="154.2" cy="1161" r="3.05" fill="#000"/>
<circle cx="71.2" cy="1155" r="3.05" fill="#000"/>
<circle cx="154.2" cy="1162.3" r="3.05" fill="#000"/>
<text x="116" y="1053.5" font-size="18.5" text-anchor="middle" font-family='"Liberation Serif", serif' fill="#222" >6</text>
<line x1="245.7" y1="1011.5" x2="245.7" y2="1164" stroke="#555" stroke-width="1.1" />
<line x1="239.7" y1="1164" x2="371" y2="1164" stroke="#666" stroke-width="1.3" />
<line x1="239.7" y1="1011.5" x2="245.7" y2="1011.5" stroke="#555" stroke-width="1.1" />
<text x="235.39999999999998" y="1016.7" font-size="17" text-anchor="end" font-family='"Liberation Sans", sans-serif' fill="#000" >90</text>
<line x1="239.7" y1="1062.5" x2="245.7" y2="1062.5" stroke="#555" stroke-width="1.1" />
<text x="235.39999999999998" y="1067.7" font-size="17" text-anchor="end" font-family='"Liberation Sans", sans-serif' fill="#000" >60</text>
<line x1="239.7" y1="1113.3" x2="245.7" y2="1113.3" stroke="#555" stroke-width="1.1" />
<text x="235.39999999999998" y="1118.5" font-size="17" text-anchor="end" font-family='"Liberation Sans", sans-serif' fill="#000" >30</text>
<line x1="239.7" y1="1164" x2="245.7" y2="1164" stroke="#555" stroke-width="1.1" />
<text x="235.39999999999998" y="1169.2" font-size="17" text-anchor="end" font-family='"Liberation Sans", sans-serif' fill="#000" >0</text>
<line x1="266.8" y1="1164" x2="266.8" y2="1170.2" stroke="#222" stroke-width="1.1" />
<line x1="350.2" y1="1164" x2="350.2" y2="1170.2" stroke="#222" stroke-width="1.1" />
<text x="268.2" y="1185.3" font-size="19.8" text-anchor="middle" font-family='"Liberation Sans", sans-serif' fill="#000" >Control</text>
<text x="329" y="1185.3" font-size="19.8" text-anchor="start" font-family='"Liberation Sans", sans-serif' fill="#000" >NiCl<tspan font-size="14" dy="5">2</tspan></text>
<text x="209.5" y="1087.75" font-size="19.8" text-anchor="middle" font-family='"Liberation Sans", sans-serif' fill="#000" transform="rotate(-90 209.5 1087.75)" >BCP (s)</text>
<line x1="266.8" y1="1155" x2="350.2" y2="1015.3" stroke="#000" stroke-width="1.2" />
<line x1="266.8" y1="1154" x2="350.2" y2="1123.3" stroke="#000" stroke-width="1.2" />
<line x1="266.8" y1="1157" x2="350.2" y2="1131.6" stroke="#000" stroke-width="1.2" />
<line x1="266.8" y1="1156" x2="350.2" y2="1146" stroke="#000" stroke-width="1.2" />
<line x1="266.8" y1="1158.5" x2="350.2" y2="1153" stroke="#000" stroke-width="1.2" />
<line x1="266.8" y1="1158" x2="350.2" y2="1156.8" stroke="#000" stroke-width="1.2" />
<circle cx="266.8" cy="1155" r="3.05" fill="#000"/>
<circle cx="350.2" cy="1015.3" r="3.05" fill="#000"/>
<circle cx="266.8" cy="1154" r="3.05" fill="#000"/>
<circle cx="350.2" cy="1123.3" r="3.05" fill="#000"/>
<circle cx="266.8" cy="1157" r="3.05" fill="#000"/>
<circle cx="350.2" cy="1131.6" r="3.05" fill="#000"/>
<circle cx="266.8" cy="1156" r="3.05" fill="#000"/>
<circle cx="350.2" cy="1146" r="3.05" fill="#000"/>
<circle cx="266.8" cy="1158.5" r="3.05" fill="#000"/>
<circle cx="350.2" cy="1153" r="3.05" fill="#000"/>
<circle cx="266.8" cy="1158" r="3.05" fill="#000"/>
<circle cx="350.2" cy="1156.8" r="3.05" fill="#000"/>
<text x="309.6" y="1053.5" font-size="18.5" text-anchor="middle" font-family='"Liberation Serif", serif' fill="#222" >6</text>
<line x1="273.2" y1="1003" x2="350.2" y2="1003" stroke="#333" stroke-width="1.2" stroke-dasharray="1.8 1.3"/>
<text x="309.7" y="1006.3" font-size="26" text-anchor="middle" font-family='"Liberation Serif", serif' fill="#000" >*</text>
<line x1="458.3" y1="1011.5" x2="458.3" y2="1164" stroke="#555" stroke-width="1.1" />
<line x1="452.3" y1="1164" x2="583.5" y2="1164" stroke="#666" stroke-width="1.3" />
<line x1="452.3" y1="1011.5" x2="458.3" y2="1011.5" stroke="#555" stroke-width="1.1" />
<text x="448.0" y="1016.7" font-size="17" text-anchor="end" font-family='"Liberation Sans", sans-serif' fill="#000" >1,5</text>
<line x1="452.3" y1="1062.5" x2="458.3" y2="1062.5" stroke="#555" stroke-width="1.1" />
<text x="448.0" y="1067.7" font-size="17" text-anchor="end" font-family='"Liberation Sans", sans-serif' fill="#000" >1,0</text>
<line x1="452.3" y1="1113.3" x2="458.3" y2="1113.3" stroke="#555" stroke-width="1.1" />
<text x="448.0" y="1118.5" font-size="17" text-anchor="end" font-family='"Liberation Sans", sans-serif' fill="#000" >0,5</text>
<line x1="452.3" y1="1164" x2="458.3" y2="1164" stroke="#555" stroke-width="1.1" />
<text x="448.0" y="1169.2" font-size="17" text-anchor="end" font-family='"Liberation Sans", sans-serif' fill="#000" >0,0</text>
<line x1="479.2" y1="1164" x2="479.2" y2="1170.2" stroke="#222" stroke-width="1.1" />
<line x1="562.6" y1="1164" x2="562.6" y2="1170.2" stroke="#222" stroke-width="1.1" />
<text x="481" y="1185.3" font-size="19.8" text-anchor="middle" font-family='"Liberation Sans", sans-serif' fill="#000" >Control</text>
<text x="542" y="1185.3" font-size="19.8" text-anchor="start" font-family='"Liberation Sans", sans-serif' fill="#000" >NiCl<tspan font-size="14" dy="5">2</tspan></text>
<text x="416" y="1087.75" font-size="19.8" text-anchor="middle" font-family='"Liberation Sans", sans-serif' fill="#000" transform="rotate(-90 416 1087.75)" >Burst lenght (s)</text>
<line x1="479.2" y1="1041.7" x2="562.6" y2="1017.3" stroke="#000" stroke-width="1.2" />
<line x1="479.2" y1="1124.6" x2="562.6" y2="1136.4" stroke="#000" stroke-width="1.2" />
<line x1="479.2" y1="1127" x2="562.6" y2="1157.3" stroke="#000" stroke-width="1.2" />
<line x1="479.2" y1="1140.4" x2="562.6" y2="1139.7" stroke="#000" stroke-width="1.2" />
<line x1="479.2" y1="1141.7" x2="562.6" y2="1139.7" stroke="#000" stroke-width="1.2" />
<line x1="479.2" y1="1143.4" x2="562.6" y2="1149.7" stroke="#000" stroke-width="1.2" />
<circle cx="479.2" cy="1041.7" r="3.05" fill="#000"/>
<circle cx="562.6" cy="1017.3" r="3.05" fill="#000"/>
<circle cx="479.2" cy="1124.6" r="3.05" fill="#000"/>
<circle cx="562.6" cy="1136.4" r="3.05" fill="#000"/>
<circle cx="479.2" cy="1127" r="3.05" fill="#000"/>
<circle cx="562.6" cy="1157.3" r="3.05" fill="#000"/>
<circle cx="479.2" cy="1140.4" r="3.05" fill="#000"/>
<circle cx="562.6" cy="1139.7" r="3.05" fill="#000"/>
<circle cx="479.2" cy="1141.7" r="3.05" fill="#000"/>
<circle cx="562.6" cy="1139.7" r="3.05" fill="#000"/>
<circle cx="479.2" cy="1143.4" r="3.05" fill="#000"/>
<circle cx="562.6" cy="1149.7" r="3.05" fill="#000"/>
<text x="523" y="1053.5" font-size="18.5" text-anchor="middle" font-family='"Liberation Serif", serif' fill="#222" >6</text>
<line x1="662.6" y1="1011.5" x2="662.6" y2="1164" stroke="#555" stroke-width="1.1" />
<line x1="656.6" y1="1164" x2="788" y2="1164" stroke="#666" stroke-width="1.3" />
<line x1="656.6" y1="1011.5" x2="662.6" y2="1011.5" stroke="#555" stroke-width="1.1" />
<text x="652.3000000000001" y="1016.7" font-size="17" text-anchor="end" font-family='"Liberation Sans", sans-serif' fill="#000" >60</text>
<line x1="656.6" y1="1062.5" x2="662.6" y2="1062.5" stroke="#555" stroke-width="1.1" />
<text x="652.3000000000001" y="1067.7" font-size="17" text-anchor="end" font-family='"Liberation Sans", sans-serif' fill="#000" >40</text>
<line x1="656.6" y1="1113.3" x2="662.6" y2="1113.3" stroke="#555" stroke-width="1.1" />
<text x="652.3000000000001" y="1118.5" font-size="17" text-anchor="end" font-family='"Liberation Sans", sans-serif' fill="#000" >20</text>
<line x1="656.6" y1="1164" x2="662.6" y2="1164" stroke="#555" stroke-width="1.1" />
<text x="652.3000000000001" y="1169.2" font-size="17" text-anchor="end" font-family='"Liberation Sans", sans-serif' fill="#000" >0</text>
<line x1="683.6" y1="1164" x2="683.6" y2="1170.2" stroke="#222" stroke-width="1.1" />
<line x1="767" y1="1164" x2="767" y2="1170.2" stroke="#222" stroke-width="1.1" />
<text x="684.5" y="1185.3" font-size="19.8" text-anchor="middle" font-family='"Liberation Sans", sans-serif' fill="#000" >Control</text>
<text x="746.1" y="1185.3" font-size="19.8" text-anchor="start" font-family='"Liberation Sans", sans-serif' fill="#000" >NiCl<tspan font-size="14" dy="5">2</tspan></text>
<text x="626" y="1087.75" font-size="19.8" text-anchor="middle" font-family='"Liberation Sans", sans-serif' fill="#000" transform="rotate(-90 626 1087.75)" >Intraburst spikes</text>
<line x1="683.6" y1="1094" x2="767" y2="1034.9" stroke="#000" stroke-width="1.2" />
<line x1="683.6" y1="1154" x2="767" y2="1150.5" stroke="#000" stroke-width="1.2" />
<line x1="683.6" y1="1156" x2="767" y2="1153.5" stroke="#000" stroke-width="1.2" />
<line x1="683.6" y1="1158.5" x2="767" y2="1156" stroke="#000" stroke-width="1.2" />
<line x1="683.6" y1="1156" x2="767" y2="1158.5" stroke="#000" stroke-width="1.2" />
<circle cx="683.6" cy="1094" r="3.05" fill="#000"/>
<circle cx="767" cy="1034.9" r="3.05" fill="#000"/>
<circle cx="683.6" cy="1154" r="3.05" fill="#000"/>
<circle cx="767" cy="1150.5" r="3.05" fill="#000"/>
<circle cx="683.6" cy="1156" r="3.05" fill="#000"/>
<circle cx="767" cy="1153.5" r="3.05" fill="#000"/>
<circle cx="683.6" cy="1158.5" r="3.05" fill="#000"/>
<circle cx="767" cy="1156" r="3.05" fill="#000"/>
<circle cx="683.6" cy="1156" r="3.05" fill="#000"/>
<circle cx="767" cy="1158.5" r="3.05" fill="#000"/>
<text x="725.3" y="1053.5" font-size="18.5" text-anchor="middle" font-family='"Liberation Serif", serif' fill="#222" >6</text>
</svg>
</body></html>
